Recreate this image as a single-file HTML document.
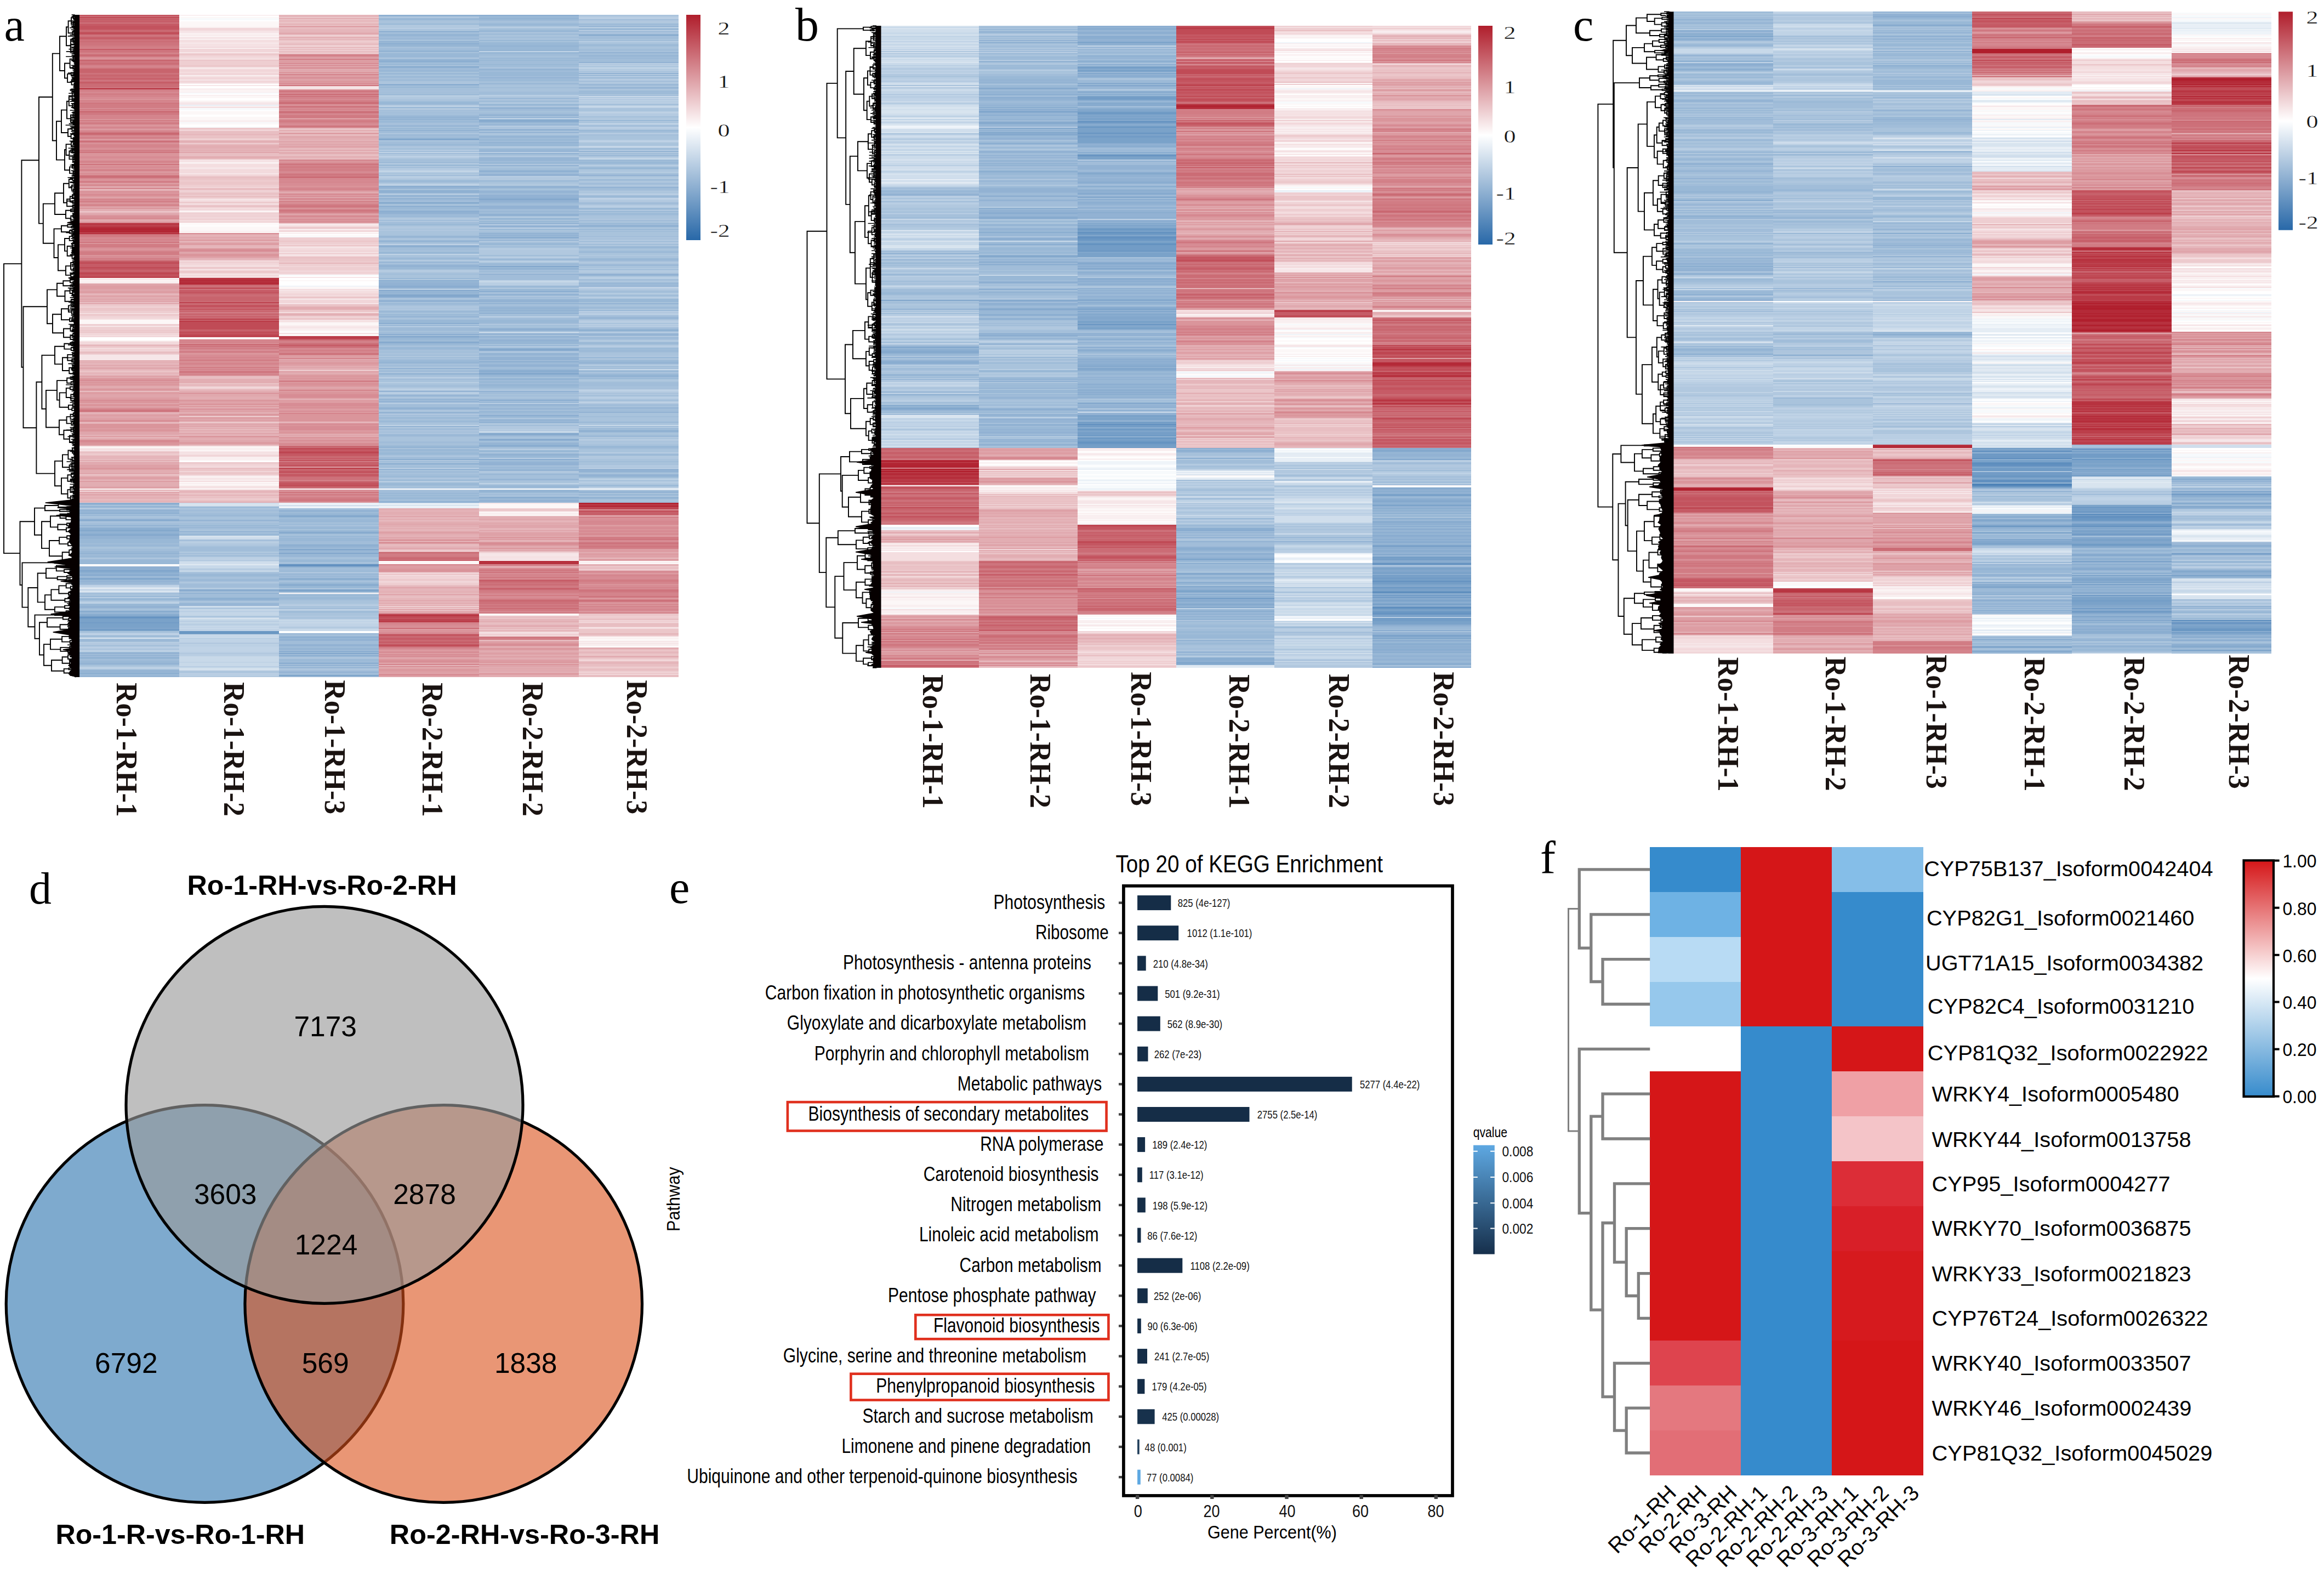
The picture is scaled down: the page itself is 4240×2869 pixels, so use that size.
<!DOCTYPE html><html><head><meta charset="utf-8"><style>html,body{margin:0;padding:0;background:#fff}svg{display:block}</style></head><body><svg width="4240" height="2869" viewBox="0 0 4240 2869">
<defs>
<linearGradient id="cb" x1="0" y1="0" x2="0" y2="1"><stop offset="0" stop-color="#b01e2c"/><stop offset="0.5" stop-color="#fff"/><stop offset="1" stop-color="#2868a8"/></linearGradient>
<linearGradient id="cf" x1="0" y1="0" x2="0" y2="1"><stop offset="0" stop-color="#d51618"/><stop offset="0.5" stop-color="#fff"/><stop offset="1" stop-color="#368bcc"/></linearGradient>
<linearGradient id="cq" x1="0" y1="0" x2="0" y2="1"><stop offset="0" stop-color="#5ea8e2"/><stop offset="1" stop-color="#162f4b"/></linearGradient>
<clipPath id="cA"><circle cx="592" cy="2015.3" r="362"/></clipPath>
</defs>
<rect width="4240" height="2869" fill="#fff"/>
<g shape-rendering="crispEdges" fill="none">
<path stroke="#c3535e" stroke-width="2" d="M145 28h182M145 48h182M145 50h182M145 52h182M145 62h182M145 478h182M145 490h182M145 502h182M327 534h182M327 564h182M327 608h182M509 820h182M509 830h182M509 840h182M509 860h182M509 862h182M509 866h182M509 882h182M509 884h182M691 1128h183M691 1176h183M1056 938h182"/>
<path stroke="#cb6c75" stroke-width="2" d="M145 30h182M145 56h182M145 72h182M145 76h182M145 100h182M145 102h182M145 116h182M145 136h182M145 140h182M145 142h182M145 154h182M145 156h182M145 158h182M145 258h182M145 322h182M145 750h182M327 538h182M327 540h182M327 550h182M327 554h182M327 562h182M327 566h182M327 572h182M327 628h182M509 172h182M509 204h182M509 324h182M509 620h182M509 628h182M509 632h182M509 646h182M509 816h182M509 834h182M509 838h182M509 864h182M509 870h182M509 874h182M509 878h182M509 890h182M691 1146h183M691 1162h183M691 1168h183M691 1174h183M874 1062h182M874 1066h182M874 1100h182M874 1110h182M1056 1096h182"/>
<path stroke="#c04b56" stroke-width="2" d="M145 32h182M145 60h182M145 480h182M145 488h182M145 500h182M145 504h182M327 526h182M327 558h182M327 588h182M327 590h182M327 592h182M327 594h182M327 596h182M327 598h182M327 600h182M327 606h182M327 610h182M509 818h182M509 824h182M509 850h182M509 886h182M691 1126h183M691 1158h183M691 1178h183M1056 926h182M1056 932h182"/>
<path stroke="#c8646d" stroke-width="2" d="M145 34h182M145 38h182M145 58h182M145 68h182M145 110h182M145 126h182M145 128h182M145 130h182M145 132h182M145 138h182M145 152h182M145 204h182M145 244h182M145 476h182M145 494h182M327 520h182M327 524h182M327 536h182M327 542h182M327 544h182M327 546h182M327 548h182M327 556h182M327 568h182M327 574h182M327 584h182M327 602h182M509 188h182M509 814h182M509 832h182M509 846h182M509 856h182M509 858h182M509 888h182M691 1008h183M691 1018h183M691 1160h183M691 1170h183M874 1060h182M874 1096h182M1056 936h182"/>
<path stroke="#c65b66" stroke-width="2" d="M145 36h182M145 40h182M145 44h182M145 46h182M145 54h182M145 70h182M145 90h182M145 144h182M145 150h182M145 482h182M145 484h182M145 486h182M145 492h182M145 496h182M327 530h182M327 532h182M327 560h182M327 578h182M327 604h182M509 630h182M509 822h182M509 828h182M509 836h182M509 844h182M509 848h182M509 868h182M509 880h182M691 1022h183M691 1120h183M691 1164h183M691 1166h183M691 1172h183M874 1058h182M874 1074h182M1056 934h182"/>
<path stroke="#ce747d" stroke-width="2" d="M145 42h182M145 64h182M145 66h182M145 74h182M145 78h182M145 80h182M145 82h182M145 92h182M145 94h182M145 112h182M145 114h182M145 118h182M145 134h182M145 146h182M145 148h182M145 160h182M145 188h182M145 208h182M145 242h182M145 246h182M145 278h182M145 300h182M145 324h182M145 332h182M145 428h182M145 442h182M327 522h182M327 528h182M327 576h182M327 580h182M327 632h182M327 642h182M327 678h182M509 156h182M509 166h182M509 176h182M509 194h182M509 206h182M509 214h182M509 230h182M509 300h182M509 318h182M509 322h182M509 376h182M509 384h182M509 626h182M509 634h182M509 872h182M509 898h182M509 912h182M691 1016h183M691 1020h183M691 1180h183M874 1040h182M874 1044h182M874 1054h182M874 1064h182M874 1068h182M874 1072h182M874 1076h182M874 1094h182M874 1098h182M874 1104h182M874 1106h182M874 1118h182M874 1162h182M1056 984h182M1056 990h182M1056 992h182M1056 996h182M1056 1076h182M1056 1078h182M1056 1088h182"/>
<path stroke="#d17c84" stroke-width="2" d="M145 84h182M145 86h182M145 96h182M145 124h182M145 166h182M145 172h182M145 184h182M145 190h182M145 192h182M145 194h182M145 196h182M145 200h182M145 206h182M145 220h182M145 224h182M145 226h182M145 252h182M145 274h182M145 310h182M145 320h182M145 368h182M145 374h182M145 430h182M145 432h182M145 446h182M145 448h182M145 450h182M145 460h182M145 462h182M145 464h182M145 472h182M145 748h182M327 570h182M327 620h182M327 624h182M327 630h182M327 636h182M327 658h182M327 670h182M327 680h182M327 684h182M509 100h182M509 108h182M509 168h182M509 184h182M509 186h182M509 196h182M509 210h182M509 212h182M509 220h182M509 222h182M509 232h182M509 304h182M509 306h182M509 310h182M509 320h182M509 368h182M509 374h182M509 378h182M509 386h182M509 622h182M509 640h182M509 644h182M509 696h182M509 842h182M509 902h182M509 908h182M509 910h182M509 914h182M691 1010h183M691 1012h183M691 1014h183M874 1070h182M874 1078h182M874 1080h182M874 1086h182M874 1102h182M874 1108h182M874 1112h182M874 1114h182M874 1164h182M874 1166h182M1056 944h182M1056 980h182M1056 982h182M1056 998h182M1056 1000h182M1056 1058h182M1056 1060h182M1056 1080h182M1056 1094h182M1056 1118h182"/>
<path stroke="#d4848c" stroke-width="2" d="M145 88h182M145 98h182M145 104h182M145 120h182M145 122h182M145 164h182M145 170h182M145 174h182M145 176h182M145 202h182M145 210h182M145 212h182M145 214h182M145 216h182M145 232h182M145 240h182M145 250h182M145 260h182M145 264h182M145 266h182M145 268h182M145 276h182M145 294h182M145 296h182M145 338h182M145 344h182M145 364h182M145 398h182M145 436h182M145 438h182M145 458h182M145 474h182M145 746h182M145 768h182M145 804h182M327 634h182M327 652h182M327 656h182M327 662h182M327 664h182M327 674h182M509 102h182M509 124h182M509 136h182M509 174h182M509 178h182M509 180h182M509 190h182M509 200h182M509 224h182M509 292h182M509 298h182M509 302h182M509 308h182M509 312h182M509 316h182M509 328h182M509 332h182M509 344h182M509 346h182M509 354h182M509 372h182M509 382h182M509 388h182M509 394h182M509 624h182M509 638h182M509 654h182M509 712h182M509 754h182M509 810h182M509 876h182M509 904h182M691 990h183M691 1030h183M691 1136h183M691 1138h183M691 1156h183M691 1182h183M691 1212h183M874 1030h182M874 1032h182M874 1038h182M874 1042h182M874 1048h182M874 1050h182M874 1052h182M874 1082h182M874 1092h182M1056 952h182M1056 956h182M1056 974h182M1056 994h182M1056 1050h182M1056 1062h182M1056 1064h182M1056 1072h182M1056 1082h182M1056 1084h182M1056 1086h182M1056 1090h182M1056 1098h182M1056 1102h182M1056 1106h182M1056 1112h182"/>
<path stroke="#da959b" stroke-width="2" d="M145 106h182M145 182h182M145 218h182M145 228h182M145 230h182M145 262h182M145 272h182M145 280h182M145 282h182M145 284h182M145 290h182M145 292h182M145 298h182M145 302h182M145 308h182M145 318h182M145 328h182M145 336h182M145 358h182M145 362h182M145 370h182M145 372h182M145 376h182M145 380h182M145 396h182M145 444h182M145 454h182M145 456h182M145 466h182M145 692h182M145 698h182M145 702h182M145 710h182M145 732h182M145 734h182M145 738h182M145 740h182M145 744h182M145 774h182M145 776h182M145 778h182M145 780h182M145 784h182M145 786h182M145 808h182M145 810h182M145 854h182M327 438h182M327 454h182M327 464h182M327 466h182M327 626h182M327 644h182M327 646h182M327 660h182M327 668h182M327 718h182M327 730h182M327 738h182M327 742h182M327 756h182M327 762h182M327 796h182M327 808h182M509 104h182M509 132h182M509 148h182M509 164h182M509 192h182M509 244h182M509 294h182M509 296h182M509 340h182M509 348h182M509 370h182M509 380h182M509 396h182M509 402h182M509 406h182M509 648h182M509 662h182M509 686h182M509 690h182M509 702h182M509 704h182M509 716h182M509 718h182M509 726h182M509 742h182M509 756h182M509 758h182M509 760h182M509 762h182M509 764h182M509 766h182M509 768h182M509 776h182M509 788h182M509 790h182M509 798h182M509 808h182M509 812h182M509 896h182M509 916h182M691 986h183M691 1038h183M691 1040h183M691 1144h183M691 1150h183M691 1152h183M691 1188h183M691 1196h183M691 1204h183M691 1208h183M691 1222h183M691 1232h183M874 980h182M874 994h182M874 1000h182M874 1036h182M874 1056h182M874 1174h182M874 1178h182M874 1184h182M874 1208h182M874 1212h182M1056 930h182M1056 940h182M1056 946h182M1056 960h182M1056 966h182M1056 972h182M1056 976h182M1056 1066h182M1056 1104h182"/>
<path stroke="#d78c94" stroke-width="2" d="M145 108h182M145 168h182M145 178h182M145 180h182M145 186h182M145 198h182M145 222h182M145 234h182M145 238h182M145 248h182M145 256h182M145 270h182M145 286h182M145 288h182M145 304h182M145 306h182M145 312h182M145 316h182M145 326h182M145 330h182M145 350h182M145 354h182M145 356h182M145 366h182M145 394h182M145 406h182M145 434h182M145 440h182M145 452h182M145 468h182M145 470h182M145 694h182M145 730h182M145 806h182M327 426h182M327 456h182M327 458h182M327 622h182M327 638h182M327 640h182M327 648h182M327 650h182M327 654h182M327 666h182M327 672h182M327 676h182M327 682h182M327 746h182M509 116h182M509 120h182M509 142h182M509 152h182M509 170h182M509 182h182M509 198h182M509 202h182M509 208h182M509 218h182M509 226h182M509 228h182M509 314h182M509 326h182M509 330h182M509 334h182M509 336h182M509 338h182M509 342h182M509 358h182M509 362h182M509 364h182M509 400h182M509 404h182M509 636h182M509 642h182M509 694h182M509 700h182M509 720h182M509 722h182M509 724h182M509 736h182M509 738h182M509 740h182M509 744h182M509 750h182M509 774h182M509 778h182M509 780h182M509 782h182M509 784h182M509 804h182M509 894h182M509 900h182M509 906h182M691 1042h183M691 1140h183M691 1142h183M691 1154h183M691 1184h183M691 1190h183M691 1194h183M691 1198h183M691 1206h183M691 1216h183M691 1230h183M874 990h182M874 992h182M874 1046h182M874 1084h182M874 1088h182M874 1090h182M874 1116h182M874 1176h182M1056 948h182M1056 950h182M1056 954h182M1056 962h182M1056 964h182M1056 968h182M1056 970h182M1056 986h182M1056 988h182M1056 1042h182M1056 1044h182M1056 1048h182M1056 1052h182M1056 1054h182M1056 1056h182M1056 1068h182M1056 1070h182M1056 1074h182M1056 1108h182M1056 1110h182M1056 1114h182"/>
<path stroke="#b7323f" stroke-width="2" d="M145 162h182M145 408h182M145 414h182M145 426h182M327 510h182M327 514h182M691 1122h183M874 1024h182M874 1026h182M874 1028h182M1056 922h182"/>
<path stroke="#dd9da3" stroke-width="2" d="M145 236h182M145 254h182M145 314h182M145 334h182M145 352h182M145 400h182M145 522h182M145 524h182M145 526h182M145 532h182M145 534h182M145 540h182M145 686h182M145 690h182M145 696h182M145 700h182M145 712h182M145 716h182M145 718h182M145 726h182M145 728h182M145 758h182M145 764h182M145 766h182M145 782h182M145 796h182M145 802h182M145 812h182M145 850h182M145 856h182M145 872h182M145 878h182M145 890h182M327 444h182M327 446h182M327 468h182M327 732h182M327 736h182M327 750h182M327 768h182M509 48h182M509 110h182M509 112h182M509 114h182M509 138h182M509 140h182M509 144h182M509 150h182M509 154h182M509 216h182M509 268h182M509 356h182M509 366h182M509 390h182M509 398h182M509 650h182M509 652h182M509 658h182M509 664h182M509 666h182M509 678h182M509 684h182M509 688h182M509 692h182M509 698h182M509 710h182M509 714h182M509 730h182M509 732h182M509 734h182M509 746h182M509 748h182M509 752h182M509 772h182M509 786h182M509 800h182M509 802h182M509 806h182M691 972h183M691 984h183M691 1032h183M691 1034h183M691 1036h183M691 1116h183M691 1148h183M691 1186h183M691 1192h183M691 1202h183M691 1220h183M691 1224h183M691 1226h183M874 972h182M874 976h182M874 984h182M874 1172h182M874 1182h182M874 1192h182M874 1198h182M874 1204h182M874 1206h182M874 1228h182M874 1230h182M1056 942h182M1056 958h182M1056 978h182M1056 1002h182M1056 1004h182M1056 1006h182M1056 1010h182M1056 1012h182M1056 1016h182M1056 1020h182M1056 1022h182M1056 1046h182M1056 1092h182M1056 1100h182M1056 1116h182"/>
<path stroke="#dfa5ab" stroke-width="2" d="M145 340h182M145 342h182M145 348h182M145 360h182M145 378h182M145 390h182M145 392h182M145 404h182M145 518h182M145 520h182M145 528h182M145 530h182M145 546h182M145 550h182M145 554h182M145 666h182M145 672h182M145 704h182M145 708h182M145 720h182M145 722h182M145 724h182M145 736h182M145 742h182M145 752h182M145 756h182M145 760h182M145 762h182M145 788h182M145 790h182M145 792h182M145 844h182M145 848h182M145 852h182M145 864h182M145 870h182M145 874h182M145 888h182M145 898h182M145 902h182M327 278h182M327 434h182M327 460h182M327 462h182M327 470h182M327 716h182M327 722h182M327 734h182M327 748h182M327 758h182M327 764h182M327 766h182M327 774h182M327 778h182M327 786h182M327 790h182M327 798h182M327 804h182M327 806h182M327 810h182M509 62h182M509 106h182M509 118h182M509 128h182M509 134h182M509 146h182M509 250h182M509 258h182M509 264h182M509 274h182M509 350h182M509 360h182M509 392h182M509 660h182M509 670h182M509 706h182M509 708h182M509 794h182M509 852h182M691 942h183M691 956h183M691 970h183M691 980h183M691 1000h183M691 1072h183M691 1084h183M691 1096h183M691 1100h183M691 1112h183M691 1210h183M691 1228h183M691 1234h183M874 948h182M874 954h182M874 958h182M874 960h182M874 962h182M874 968h182M874 974h182M874 982h182M874 996h182M874 1004h182M874 1142h182M874 1170h182M874 1186h182M874 1190h182M874 1194h182M874 1214h182M874 1216h182M874 1220h182M874 1224h182M1056 1014h182M1056 1182h182M1056 1198h182"/>
<path stroke="#e8bec2" stroke-width="2" d="M145 346h182M145 552h182M145 642h182M145 644h182M145 664h182M145 676h182M145 684h182M145 714h182M145 826h182M145 838h182M145 842h182M145 912h182M145 916h182M327 240h182M327 242h182M327 244h182M327 250h182M327 256h182M327 280h182M327 282h182M327 284h182M327 290h182M327 324h182M327 344h182M327 346h182M327 354h182M327 358h182M327 376h182M327 688h182M327 690h182M327 704h182M327 710h182M327 784h182M327 788h182M327 854h182M327 902h182M327 908h182M327 914h182M509 40h182M509 52h182M509 70h182M509 80h182M509 82h182M509 90h182M509 94h182M509 240h182M509 272h182M509 276h182M509 282h182M509 284h182M509 290h182M509 416h182M509 470h182M509 542h182M509 556h182M509 576h182M509 582h182M509 770h182M691 950h183M691 994h183M691 1006h183M691 1044h183M691 1068h183M691 1082h183M691 1088h183M691 1090h183M691 1098h183M691 1102h183M874 1006h182M874 1034h182M874 1126h182M874 1136h182M874 1138h182M874 1144h182M874 1168h182M1056 1018h182M1056 1130h182M1056 1158h182M1056 1188h182M1056 1192h182M1056 1196h182M1056 1212h182M1056 1214h182M1056 1220h182M1056 1222h182M1056 1232h182M1056 1234h182"/>
<path stroke="#e2adb2" stroke-width="2" d="M145 382h182M145 384h182M145 402h182M145 542h182M145 544h182M145 548h182M145 658h182M145 662h182M145 670h182M145 688h182M145 706h182M145 800h182M145 840h182M145 846h182M145 858h182M145 860h182M145 862h182M145 880h182M145 882h182M145 884h182M145 886h182M145 894h182M145 904h182M145 908h182M145 914h182M327 258h182M327 266h182M327 268h182M327 270h182M327 274h182M327 286h182M327 288h182M327 428h182M327 432h182M327 442h182M327 692h182M327 694h182M327 696h182M327 698h182M327 714h182M327 720h182M327 724h182M327 726h182M327 728h182M327 740h182M327 752h182M327 754h182M327 776h182M327 782h182M327 792h182M327 800h182M327 802h182M327 916h182M509 34h182M509 44h182M509 60h182M509 68h182M509 122h182M509 126h182M509 130h182M509 238h182M509 248h182M509 252h182M509 254h182M509 260h182M509 262h182M509 266h182M509 278h182M509 280h182M509 286h182M509 352h182M509 560h182M509 562h182M509 564h182M509 574h182M509 656h182M509 668h182M509 672h182M509 680h182M509 682h182M509 792h182M509 796h182M691 928h183M691 930h183M691 934h183M691 936h183M691 938h183M691 948h183M691 952h183M691 954h183M691 958h183M691 960h183M691 964h183M691 974h183M691 976h183M691 982h183M691 992h183M691 1080h183M691 1104h183M691 1118h183M691 1200h183M691 1218h183M874 944h182M874 946h182M874 956h182M874 978h182M874 988h182M874 998h182M874 1002h182M874 1134h182M874 1188h182M874 1196h182M874 1200h182M874 1202h182M874 1210h182M874 1218h182M874 1222h182M874 1232h182M874 1234h182M1056 1008h182M1056 1030h182"/>
<path stroke="#ebc6c9" stroke-width="2" d="M145 386h182M145 558h182M145 562h182M145 564h182M145 566h182M145 574h182M145 598h182M145 602h182M145 606h182M145 632h182M145 678h182M145 824h182M145 830h182M145 866h182M327 100h182M327 110h182M327 120h182M327 234h182M327 248h182M327 252h182M327 322h182M327 326h182M327 328h182M327 332h182M327 334h182M327 336h182M327 352h182M327 360h182M327 370h182M327 488h182M327 496h182M327 700h182M327 844h182M327 856h182M327 858h182M327 862h182M327 864h182M327 894h182M327 900h182M327 906h182M327 912h182M509 32h182M509 36h182M509 42h182M509 46h182M509 74h182M509 78h182M509 96h182M509 98h182M509 236h182M509 246h182M509 440h182M509 448h182M509 472h182M509 474h182M509 476h182M509 558h182M509 566h182M509 568h182M691 1048h183M691 1058h183M691 1110h183M691 1114h183M874 930h182M874 1124h182M874 1128h182M874 1148h182M874 1152h182M1056 1040h182M1056 1120h182M1056 1122h182M1056 1128h182M1056 1140h182M1056 1148h182M1056 1150h182M1056 1152h182M1056 1154h182M1056 1186h182M1056 1194h182M1056 1200h182M1056 1202h182M1056 1206h182M1056 1216h182M1056 1224h182M1056 1228h182"/>
<path stroke="#e5b5ba" stroke-width="2" d="M145 388h182M145 536h182M145 538h182M145 630h182M145 660h182M145 668h182M145 674h182M145 680h182M145 682h182M145 754h182M145 770h182M145 772h182M145 794h182M145 798h182M145 832h182M145 834h182M145 836h182M145 868h182M145 876h182M145 900h182M145 906h182M145 910h182M327 246h182M327 260h182M327 264h182M327 272h182M327 276h182M327 430h182M327 436h182M327 440h182M327 448h182M327 450h182M327 452h182M327 472h182M327 474h182M327 686h182M327 702h182M327 712h182M327 744h182M327 772h182M327 780h182M327 794h182M327 812h182M327 896h182M327 898h182M327 904h182M509 28h182M509 30h182M509 38h182M509 50h182M509 54h182M509 56h182M509 58h182M509 72h182M509 86h182M509 234h182M509 242h182M509 256h182M509 270h182M509 288h182M509 480h182M509 572h182M509 674h182M509 728h182M691 932h183M691 940h183M691 944h183M691 946h183M691 962h183M691 966h183M691 968h183M691 978h183M691 988h183M691 996h183M691 998h183M691 1002h183M691 1070h183M691 1074h183M691 1076h183M691 1078h183M691 1086h183M691 1092h183M691 1094h183M691 1108h183M691 1214h183M874 942h182M874 950h182M874 952h182M874 964h182M874 966h182M874 970h182M874 986h182M874 1130h182M874 1132h182M874 1140h182M874 1146h182M874 1150h182M874 1180h182M874 1226h182M1056 1032h182M1056 1036h182M1056 1138h182M1056 1142h182M1056 1156h182M1056 1184h182M1056 1190h182M1056 1208h182M1056 1210h182"/>
<path stroke="#ba3b47" stroke-width="2" d="M145 410h182M145 424h182M327 582h182M327 586h182M509 614h182M509 616h182M509 854h182M691 1134h183M1056 920h182"/>
<path stroke="#bd434f" stroke-width="2" d="M145 412h182M145 498h182M145 506h182M327 552h182M327 612h182M327 614h182M509 618h182M509 826h182M691 1124h183M691 1130h183M691 1132h183M1056 928h182"/>
<path stroke="#b42a38" stroke-width="2" d="M145 416h182M145 420h182M327 508h182M327 512h182M327 516h182M327 518h182M1056 924h182"/>
<path stroke="#b12230" stroke-width="2" d="M145 418h182M145 422h182"/>
<path stroke="#fcf7f7" stroke-width="2" d="M145 508h182M145 512h182M145 584h182M145 586h182M145 588h182M145 590h182M145 816h182M145 892h182M145 1032h182M327 32h182M327 40h182M327 42h182M327 44h182M327 46h182M327 48h182M327 62h182M327 66h182M327 166h182M327 176h182M327 178h182M327 184h182M327 204h182M327 206h182M327 208h182M327 214h182M327 216h182M327 218h182M327 226h182M327 386h182M327 410h182M327 414h182M327 416h182M327 418h182M327 420h182M327 424h182M327 616h182M327 618h182M327 816h182M327 822h182M327 840h182M327 870h182M327 880h182M327 884h182M327 892h182M509 424h182M509 430h182M509 512h182M509 524h182M509 526h182M509 590h182M509 592h182M509 604h182M509 610h182M509 612h182M509 892h182M509 1082h182M691 1024h183M691 1026h183M691 1028h183M874 920h182M874 922h182M874 924h182M874 926h182M874 934h182M874 940h182M874 1120h182M874 1122h182M1056 1024h182M1056 1028h182M1056 1162h182M1056 1166h182M1056 1168h182"/>
<path stroke="#f6e6e8" stroke-width="2" d="M145 510h182M145 596h182M145 648h182M145 650h182M145 652h182M145 654h182M145 656h182M145 818h182M145 822h182M327 58h182M327 60h182M327 64h182M327 68h182M327 70h182M327 78h182M327 80h182M327 84h182M327 96h182M327 146h182M327 152h182M327 156h182M327 188h182M327 190h182M327 292h182M327 306h182M327 308h182M327 316h182M327 364h182M327 372h182M327 384h182M327 492h182M327 500h182M327 504h182M327 814h182M327 824h182M327 828h182M327 868h182M327 872h182M327 874h182M327 890h182M509 160h182M509 452h182M509 460h182M509 466h182M509 506h182M509 530h182M509 546h182M509 554h182M509 584h182M509 596h182M509 598h182M874 918h182M874 1010h182M874 1012h182M874 1014h182M874 1018h182M874 1154h182M1056 1170h182M1056 1174h182"/>
<path stroke="#f9eff0" stroke-width="2" d="M145 514h182M145 516h182M145 622h182M327 28h182M327 50h182M327 72h182M327 88h182M327 124h182M327 138h182M327 162h182M327 164h182M327 168h182M327 174h182M327 186h182M327 194h182M327 220h182M327 222h182M327 296h182M327 298h182M327 422h182M327 818h182M327 820h182M327 834h182M327 836h182M327 838h182M327 876h182M327 882h182M327 886h182M509 410h182M509 418h182M509 426h182M509 588h182M509 594h182M509 600h182M509 602h182M874 936h182M874 938h182M874 1022h182M1056 1026h182M1056 1164h182M1056 1172h182M1056 1176h182M1056 1178h182"/>
<path stroke="#eeced1" stroke-width="2" d="M145 556h182M145 568h182M145 570h182M145 576h182M145 592h182M145 604h182M145 628h182M145 634h182M145 638h182M145 646h182M145 828h182M327 98h182M327 112h182M327 114h182M327 116h182M327 118h182M327 122h182M327 236h182M327 262h182M327 330h182M327 338h182M327 340h182M327 350h182M327 356h182M327 374h182M327 378h182M327 390h182M327 394h182M327 400h182M327 478h182M327 490h182M327 494h182M327 498h182M327 506h182M327 760h182M327 770h182M327 846h182M327 866h182M327 910h182M509 64h182M509 66h182M509 76h182M509 88h182M509 92h182M509 434h182M509 436h182M509 438h182M509 442h182M509 444h182M509 458h182M509 462h182M509 468h182M509 478h182M509 482h182M509 484h182M509 488h182M509 490h182M509 492h182M509 498h182M509 580h182M509 676h182M691 1004h183M691 1052h183M691 1056h183M691 1064h183M691 1066h183M691 1106h183M874 928h182M874 932h182M874 1158h182M1056 1034h182M1056 1038h182M1056 1124h182M1056 1126h182M1056 1134h182M1056 1160h182M1056 1218h182"/>
<path stroke="#f1d6d9" stroke-width="2" d="M145 560h182M145 578h182M145 580h182M145 594h182M145 600h182M145 608h182M145 610h182M145 614h182M145 624h182M145 640h182M145 896h182M327 52h182M327 54h182M327 86h182M327 90h182M327 92h182M327 94h182M327 102h182M327 104h182M327 128h182M327 130h182M327 134h182M327 136h182M327 142h182M327 144h182M327 148h182M327 150h182M327 238h182M327 254h182M327 310h182M327 314h182M327 320h182M327 342h182M327 348h182M327 362h182M327 368h182M327 382h182M327 388h182M327 392h182M327 396h182M327 398h182M327 404h182M327 480h182M327 482h182M327 502h182M327 706h182M327 708h182M327 830h182M327 832h182M327 848h182M327 850h182M327 860h182M509 408h182M509 414h182M509 422h182M509 446h182M509 454h182M509 486h182M509 494h182M509 496h182M509 536h182M509 538h182M509 544h182M509 548h182M509 550h182M509 552h182M509 578h182M691 1046h183M691 1054h183M691 1060h183M691 1062h183M874 1008h182M874 1156h182M1056 1132h182M1056 1136h182M1056 1226h182M1056 1230h182"/>
<path stroke="#f4dee0" stroke-width="2" d="M145 572h182M145 582h182M145 612h182M145 626h182M145 636h182M145 814h182M145 820h182M327 56h182M327 74h182M327 76h182M327 82h182M327 106h182M327 108h182M327 126h182M327 132h182M327 140h182M327 196h182M327 294h182M327 300h182M327 302h182M327 304h182M327 312h182M327 318h182M327 366h182M327 380h182M327 402h182M327 406h182M327 476h182M327 484h182M327 486h182M327 826h182M327 852h182M327 878h182M327 888h182M509 84h182M509 158h182M509 162h182M509 412h182M509 420h182M509 450h182M509 456h182M509 464h182M509 500h182M509 528h182M509 532h182M509 534h182M509 540h182M509 570h182M509 586h182M509 608h182M691 1050h183M874 1016h182M874 1020h182M874 1160h182M1056 1144h182M1056 1146h182M1056 1204h182"/>
<path stroke="#ffffff" stroke-width="2" d="M145 616h182M145 618h182M145 620h182M145 1030h182M327 30h182M327 38h182M327 154h182M327 158h182M327 160h182M327 172h182M327 180h182M327 182h182M327 202h182M327 210h182M327 212h182M327 228h182M327 230h182M327 408h182M327 412h182M327 842h182M509 428h182M509 504h182M509 508h182M509 510h182M509 514h182M509 516h182M509 518h182M509 520h182M509 606h182M509 1152h182M691 892h183M874 892h182M1056 1180h182"/>
<path stroke="#8aadd0" stroke-width="2" d="M145 918h182M145 936h182M145 948h182M145 950h182M145 964h182M145 966h182M145 974h182M145 1036h182M145 1044h182M145 1048h182M145 1050h182M145 1120h182M145 1122h182M145 1200h182M145 1228h182M327 1092h182M509 932h182M509 940h182M509 994h182M509 1034h182M509 1066h182M509 1068h182M509 1162h182M509 1188h182M509 1196h182M509 1210h182M691 28h183M691 58h183M691 80h183M691 112h183M691 154h183M691 340h183M691 348h183M691 376h183M691 386h183M691 450h183M691 512h183M691 522h183M691 524h183M691 542h183M691 590h183M691 610h183M691 682h183M691 838h183M691 846h183M691 916h183M874 28h182M874 210h182M874 222h182M874 312h182M874 362h182M874 392h182M874 532h182M874 538h182M874 600h182M874 636h182M874 660h182M874 676h182M874 678h182M874 730h182M874 758h182M874 766h182M874 770h182M874 812h182M874 814h182M874 838h182M1056 412h182M1056 602h182M1056 686h182M1056 786h182M1056 908h182"/>
<path stroke="#92b2d3" stroke-width="2" d="M145 920h182M145 924h182M145 930h182M145 932h182M145 958h182M145 970h182M145 972h182M145 978h182M145 980h182M145 982h182M145 1010h182M145 1034h182M145 1038h182M145 1046h182M145 1054h182M145 1060h182M145 1106h182M145 1108h182M145 1192h182M145 1196h182M145 1210h182M145 1224h182M145 1234h182M327 950h182M327 970h182M327 1078h182M327 1082h182M327 1094h182M327 1104h182M509 970h182M509 996h182M509 998h182M509 1004h182M509 1008h182M509 1014h182M509 1156h182M509 1166h182M509 1168h182M509 1176h182M509 1178h182M509 1184h182M509 1214h182M509 1218h182M509 1226h182M691 64h183M691 76h183M691 84h183M691 94h183M691 110h183M691 214h183M691 218h183M691 230h183M691 238h183M691 342h183M691 350h183M691 352h183M691 358h183M691 362h183M691 388h183M691 390h183M691 432h183M691 440h183M691 448h183M691 478h183M691 484h183M691 486h183M691 516h183M691 518h183M691 520h183M691 534h183M691 548h183M691 550h183M691 578h183M691 616h183M691 626h183M691 662h183M691 672h183M691 714h183M691 722h183M691 728h183M691 732h183M691 744h183M691 746h183M691 752h183M691 778h183M691 816h183M691 856h183M874 34h182M874 84h182M874 92h182M874 126h182M874 142h182M874 198h182M874 214h182M874 228h182M874 236h182M874 242h182M874 250h182M874 260h182M874 276h182M874 280h182M874 288h182M874 292h182M874 302h182M874 318h182M874 320h182M874 340h182M874 342h182M874 350h182M874 356h182M874 358h182M874 360h182M874 366h182M874 368h182M874 376h182M874 378h182M874 380h182M874 408h182M874 412h182M874 414h182M874 426h182M874 430h182M874 438h182M874 490h182M874 500h182M874 548h182M874 550h182M874 554h182M874 562h182M874 566h182M874 572h182M874 602h182M874 610h182M874 614h182M874 620h182M874 622h182M874 626h182M874 640h182M874 646h182M874 652h182M874 654h182M874 656h182M874 666h182M874 668h182M874 680h182M874 686h182M874 692h182M874 702h182M874 714h182M874 738h182M874 746h182M874 790h182M874 794h182M874 808h182M874 828h182M874 830h182M874 844h182M874 846h182M874 848h182M874 858h182M874 874h182M874 896h182M874 912h182M874 914h182M1056 48h182M1056 96h182M1056 102h182M1056 114h182M1056 134h182M1056 160h182M1056 276h182M1056 320h182M1056 342h182M1056 500h182M1056 502h182M1056 522h182M1056 554h182M1056 580h182M1056 610h182M1056 662h182M1056 744h182M1056 752h182M1056 856h182M1056 858h182M1056 860h182M1056 866h182M1056 868h182M1056 898h182"/>
<path stroke="#a9c3dc" stroke-width="2" d="M145 922h182M145 942h182M145 944h182M145 956h182M145 998h182M145 1000h182M145 1084h182M145 1086h182M145 1096h182M145 1112h182M145 1152h182M145 1154h182M145 1162h182M145 1184h182M145 1214h182M327 934h182M327 944h182M327 946h182M327 956h182M327 966h182M327 968h182M327 972h182M327 996h182M327 1006h182M327 1044h182M327 1054h182M327 1064h182M327 1072h182M327 1080h182M327 1110h182M327 1124h182M327 1226h182M509 954h182M509 958h182M509 966h182M509 976h182M509 1018h182M509 1026h182M509 1060h182M509 1084h182M509 1096h182M509 1098h182M509 1100h182M509 1106h182M509 1108h182M509 1118h182M509 1120h182M509 1122h182M509 1126h182M509 1128h182M509 1158h182M509 1216h182M509 1222h182M691 38h183M691 40h183M691 42h183M691 54h183M691 56h183M691 60h183M691 74h183M691 86h183M691 96h183M691 120h183M691 132h183M691 138h183M691 144h183M691 148h183M691 150h183M691 162h183M691 166h183M691 170h183M691 182h183M691 184h183M691 204h183M691 208h183M691 226h183M691 232h183M691 258h183M691 270h183M691 290h183M691 294h183M691 300h183M691 316h183M691 328h183M691 334h183M691 346h183M691 360h183M691 412h183M691 418h183M691 422h183M691 424h183M691 426h183M691 428h183M691 444h183M691 458h183M691 466h183M691 468h183M691 474h183M691 480h183M691 492h183M691 498h183M691 502h183M691 504h183M691 506h183M691 544h183M691 546h183M691 552h183M691 558h183M691 562h183M691 566h183M691 572h183M691 580h183M691 582h183M691 592h183M691 604h183M691 632h183M691 640h183M691 644h183M691 646h183M691 654h183M691 664h183M691 674h183M691 684h183M691 694h183M691 696h183M691 700h183M691 702h183M691 706h183M691 724h183M691 748h183M691 760h183M691 766h183M691 772h183M691 774h183M691 798h183M691 800h183M691 802h183M691 804h183M691 810h183M691 818h183M691 844h183M691 850h183M691 858h183M691 864h183M691 874h183M691 880h183M691 888h183M691 894h183M691 912h183M874 40h182M874 48h182M874 52h182M874 64h182M874 66h182M874 70h182M874 72h182M874 76h182M874 104h182M874 150h182M874 156h182M874 158h182M874 162h182M874 164h182M874 166h182M874 178h182M874 204h182M874 212h182M874 232h182M874 240h182M874 246h182M874 270h182M874 284h182M874 304h182M874 306h182M874 332h182M874 334h182M874 346h182M874 402h182M874 420h182M874 422h182M874 442h182M874 448h182M874 452h182M874 494h182M874 534h182M874 544h182M874 556h182M874 574h182M874 596h182M874 612h182M874 628h182M874 634h182M874 688h182M874 710h182M874 720h182M874 724h182M874 726h182M874 748h182M874 772h182M874 798h182M874 806h182M874 818h182M874 850h182M874 868h182M874 872h182M874 878h182M874 880h182M874 884h182M874 900h182M874 904h182M1056 28h182M1056 46h182M1056 72h182M1056 78h182M1056 80h182M1056 86h182M1056 88h182M1056 94h182M1056 122h182M1056 130h182M1056 158h182M1056 172h182M1056 198h182M1056 200h182M1056 202h182M1056 212h182M1056 214h182M1056 224h182M1056 228h182M1056 242h182M1056 248h182M1056 250h182M1056 252h182M1056 254h182M1056 262h182M1056 264h182M1056 270h182M1056 282h182M1056 300h182M1056 304h182M1056 312h182M1056 316h182M1056 322h182M1056 330h182M1056 340h182M1056 348h182M1056 352h182M1056 356h182M1056 388h182M1056 394h182M1056 396h182M1056 398h182M1056 404h182M1056 406h182M1056 420h182M1056 424h182M1056 426h182M1056 428h182M1056 430h182M1056 454h182M1056 456h182M1056 462h182M1056 464h182M1056 468h182M1056 470h182M1056 486h182M1056 488h182M1056 504h182M1056 512h182M1056 530h182M1056 534h182M1056 552h182M1056 556h182M1056 558h182M1056 590h182M1056 620h182M1056 634h182M1056 644h182M1056 646h182M1056 648h182M1056 654h182M1056 656h182M1056 670h182M1056 692h182M1056 696h182M1056 706h182M1056 718h182M1056 742h182M1056 754h182M1056 756h182M1056 758h182M1056 762h182M1056 764h182M1056 766h182M1056 768h182M1056 772h182M1056 774h182M1056 790h182M1056 792h182M1056 800h182M1056 806h182M1056 810h182M1056 812h182M1056 820h182M1056 822h182M1056 824h182M1056 838h182M1056 840h182M1056 844h182M1056 846h182M1056 848h182M1056 852h182M1056 864h182M1056 872h182M1056 876h182M1056 884h182M1056 900h182M1056 906h182M1056 912h182M1056 914h182"/>
<path stroke="#a1bdd9" stroke-width="2" d="M145 926h182M145 938h182M145 946h182M145 954h182M145 960h182M145 992h182M145 1002h182M145 1004h182M145 1012h182M145 1020h182M145 1052h182M145 1066h182M145 1082h182M145 1110h182M145 1118h182M145 1166h182M145 1170h182M145 1178h182M145 1194h182M145 1198h182M145 1202h182M145 1204h182M327 930h182M327 932h182M327 936h182M327 938h182M327 942h182M327 948h182M327 954h182M327 960h182M327 964h182M327 986h182M327 998h182M327 1000h182M327 1002h182M327 1004h182M327 1010h182M327 1046h182M327 1052h182M327 1056h182M327 1060h182M327 1066h182M327 1068h182M327 1070h182M327 1084h182M327 1086h182M327 1088h182M327 1096h182M509 928h182M509 930h182M509 934h182M509 946h182M509 960h182M509 974h182M509 980h182M509 988h182M509 990h182M509 992h182M509 1000h182M509 1012h182M509 1016h182M509 1020h182M509 1028h182M509 1036h182M509 1038h182M509 1040h182M509 1046h182M509 1050h182M509 1054h182M509 1062h182M509 1088h182M509 1094h182M509 1110h182M509 1160h182M509 1170h182M509 1172h182M509 1174h182M509 1180h182M509 1186h182M509 1194h182M509 1198h182M509 1202h182M509 1206h182M509 1212h182M509 1224h182M509 1228h182M509 1230h182M691 30h183M691 68h183M691 72h183M691 88h183M691 90h183M691 116h183M691 126h183M691 136h183M691 142h183M691 158h183M691 164h183M691 168h183M691 202h183M691 206h183M691 210h183M691 220h183M691 224h183M691 228h183M691 236h183M691 240h183M691 242h183M691 248h183M691 250h183M691 256h183M691 260h183M691 262h183M691 266h183M691 272h183M691 276h183M691 280h183M691 292h183M691 306h183M691 320h183M691 332h183M691 366h183M691 368h183M691 382h183M691 392h183M691 396h183M691 402h183M691 406h183M691 408h183M691 430h183M691 434h183M691 438h183M691 442h183M691 452h183M691 454h183M691 456h183M691 470h183M691 482h183M691 500h183M691 526h183M691 556h183M691 570h183M691 576h183M691 600h183M691 606h183M691 608h183M691 612h183M691 622h183M691 630h183M691 638h183M691 642h183M691 648h183M691 652h183M691 656h183M691 666h183M691 668h183M691 676h183M691 678h183M691 686h183M691 692h183M691 704h183M691 720h183M691 730h183M691 734h183M691 738h183M691 740h183M691 742h183M691 754h183M691 758h183M691 764h183M691 770h183M691 782h183M691 784h183M691 788h183M691 792h183M691 796h183M691 806h183M691 808h183M691 812h183M691 824h183M691 830h183M691 834h183M691 836h183M691 842h183M691 848h183M691 860h183M691 862h183M691 866h183M691 868h183M691 886h183M691 890h183M691 896h183M691 898h183M691 902h183M691 906h183M874 38h182M874 42h182M874 54h182M874 68h182M874 100h182M874 102h182M874 108h182M874 112h182M874 114h182M874 116h182M874 120h182M874 122h182M874 130h182M874 140h182M874 144h182M874 148h182M874 154h182M874 160h182M874 168h182M874 170h182M874 172h182M874 184h182M874 186h182M874 200h182M874 202h182M874 206h182M874 208h182M874 226h182M874 252h182M874 258h182M874 282h182M874 294h182M874 308h182M874 310h182M874 316h182M874 344h182M874 354h182M874 372h182M874 374h182M874 382h182M874 384h182M874 388h182M874 406h182M874 424h182M874 450h182M874 466h182M874 472h182M874 480h182M874 484h182M874 502h182M874 504h182M874 506h182M874 508h182M874 510h182M874 524h182M874 536h182M874 542h182M874 552h182M874 558h182M874 576h182M874 580h182M874 582h182M874 590h182M874 594h182M874 598h182M874 608h182M874 618h182M874 650h182M874 658h182M874 662h182M874 670h182M874 672h182M874 694h182M874 700h182M874 708h182M874 716h182M874 718h182M874 722h182M874 728h182M874 732h182M874 742h182M874 744h182M874 754h182M874 756h182M874 762h182M874 768h182M874 776h182M874 796h182M874 800h182M874 816h182M874 840h182M874 854h182M874 864h182M874 870h182M874 876h182M874 890h182M874 902h182M874 906h182M874 910h182M1056 36h182M1056 52h182M1056 62h182M1056 66h182M1056 68h182M1056 70h182M1056 74h182M1056 84h182M1056 90h182M1056 92h182M1056 98h182M1056 100h182M1056 104h182M1056 108h182M1056 110h182M1056 112h182M1056 148h182M1056 156h182M1056 162h182M1056 168h182M1056 174h182M1056 190h182M1056 230h182M1056 240h182M1056 246h182M1056 280h182M1056 294h182M1056 318h182M1056 334h182M1056 336h182M1056 344h182M1056 346h182M1056 360h182M1056 370h182M1056 372h182M1056 382h182M1056 392h182M1056 402h182M1056 410h182M1056 422h182M1056 432h182M1056 436h182M1056 440h182M1056 446h182M1056 458h182M1056 476h182M1056 482h182M1056 492h182M1056 510h182M1056 520h182M1056 532h182M1056 538h182M1056 540h182M1056 560h182M1056 576h182M1056 578h182M1056 582h182M1056 598h182M1056 600h182M1056 608h182M1056 618h182M1056 624h182M1056 628h182M1056 638h182M1056 642h182M1056 664h182M1056 668h182M1056 672h182M1056 676h182M1056 688h182M1056 698h182M1056 700h182M1056 702h182M1056 704h182M1056 708h182M1056 722h182M1056 730h182M1056 738h182M1056 740h182M1056 746h182M1056 748h182M1056 750h182M1056 760h182M1056 778h182M1056 784h182M1056 794h182M1056 818h182M1056 828h182M1056 842h182M1056 862h182M1056 904h182M1056 910h182M1056 916h182"/>
<path stroke="#b9cee3" stroke-width="2" d="M145 928h182M145 1076h182M145 1090h182M145 1098h182M145 1158h182M145 1172h182M145 1180h182M145 1182h182M145 1186h182M145 1220h182M327 984h182M327 988h182M327 990h182M327 1016h182M327 1018h182M327 1074h182M327 1116h182M327 1126h182M327 1134h182M327 1138h182M327 1140h182M327 1164h182M327 1172h182M327 1178h182M327 1190h182M327 1194h182M327 1196h182M327 1216h182M327 1228h182M327 1230h182M327 1232h182M509 1104h182M509 1146h182M691 52h183M691 176h183M691 274h183M691 308h183M691 314h183M691 322h183M691 324h183M691 338h183M691 476h183M691 494h183M691 528h183M691 596h183M691 688h183M691 698h183M691 716h183M691 718h183M691 736h183M691 878h183M874 50h182M874 174h182M874 188h182M874 230h182M874 268h182M874 278h182M874 322h182M874 396h182M874 410h182M874 454h182M874 470h182M874 476h182M874 478h182M874 516h182M874 518h182M874 520h182M874 642h182M874 736h182M874 784h182M874 820h182M874 836h182M1056 32h182M1056 34h182M1056 50h182M1056 56h182M1056 76h182M1056 116h182M1056 120h182M1056 128h182M1056 140h182M1056 146h182M1056 204h182M1056 210h182M1056 232h182M1056 234h182M1056 244h182M1056 256h182M1056 274h182M1056 288h182M1056 302h182M1056 314h182M1056 364h182M1056 376h182M1056 378h182M1056 438h182M1056 494h182M1056 506h182M1056 508h182M1056 526h182M1056 536h182M1056 542h182M1056 568h182M1056 572h182M1056 574h182M1056 586h182M1056 588h182M1056 592h182M1056 596h182M1056 606h182M1056 622h182M1056 632h182M1056 666h182M1056 714h182M1056 724h182M1056 726h182M1056 802h182M1056 826h182M1056 850h182M1056 880h182"/>
<path stroke="#99b8d6" stroke-width="2" d="M145 934h182M145 940h182M145 962h182M145 984h182M145 986h182M145 988h182M145 990h182M145 994h182M145 996h182M145 1006h182M145 1008h182M145 1014h182M145 1016h182M145 1022h182M145 1024h182M145 1026h182M145 1028h182M145 1058h182M145 1062h182M145 1064h182M145 1088h182M145 1092h182M145 1094h182M145 1102h182M145 1104h182M145 1114h182M145 1160h182M145 1168h182M145 1190h182M145 1206h182M145 1208h182M145 1212h182M145 1222h182M145 1226h182M145 1230h182M145 1232h182M327 926h182M327 940h182M327 958h182M327 962h182M327 974h182M327 976h182M327 1014h182M327 1048h182M327 1050h182M327 1058h182M327 1090h182M327 1100h182M327 1102h182M509 936h182M509 938h182M509 944h182M509 948h182M509 950h182M509 952h182M509 956h182M509 962h182M509 964h182M509 968h182M509 978h182M509 982h182M509 984h182M509 986h182M509 1006h182M509 1022h182M509 1024h182M509 1042h182M509 1048h182M509 1052h182M509 1058h182M509 1064h182M509 1070h182M509 1072h182M509 1080h182M509 1086h182M509 1090h182M509 1092h182M509 1116h182M509 1164h182M509 1182h182M509 1190h182M509 1204h182M509 1208h182M509 1234h182M691 34h183M691 36h183M691 44h183M691 62h183M691 66h183M691 70h183M691 78h183M691 82h183M691 92h183M691 98h183M691 100h183M691 102h183M691 104h183M691 108h183M691 114h183M691 118h183M691 124h183M691 128h183M691 130h183M691 134h183M691 140h183M691 146h183M691 156h183M691 160h183M691 172h183M691 186h183M691 188h183M691 190h183M691 196h183M691 212h183M691 216h183M691 222h183M691 234h183M691 246h183M691 252h183M691 264h183M691 296h183M691 302h183M691 330h183M691 344h183M691 356h183M691 364h183M691 372h183M691 378h183M691 380h183M691 384h183M691 394h183M691 410h183M691 460h183M691 462h183M691 472h183M691 488h183M691 490h183M691 508h183M691 514h183M691 532h183M691 536h183M691 554h183M691 568h183M691 574h183M691 584h183M691 586h183M691 588h183M691 594h183M691 598h183M691 602h183M691 618h183M691 620h183M691 628h183M691 634h183M691 636h183M691 658h183M691 660h183M691 762h183M691 768h183M691 794h183M691 814h183M691 820h183M691 822h183M691 826h183M691 828h183M691 852h183M691 870h183M691 876h183M691 882h183M691 884h183M691 900h183M691 904h183M691 908h183M691 910h183M691 914h183M874 30h182M874 32h182M874 36h182M874 44h182M874 46h182M874 56h182M874 58h182M874 62h182M874 74h182M874 78h182M874 80h182M874 82h182M874 86h182M874 88h182M874 90h182M874 96h182M874 98h182M874 106h182M874 110h182M874 118h182M874 128h182M874 132h182M874 134h182M874 136h182M874 138h182M874 146h182M874 152h182M874 180h182M874 190h182M874 192h182M874 196h182M874 218h182M874 224h182M874 238h182M874 248h182M874 254h182M874 256h182M874 262h182M874 264h182M874 266h182M874 272h182M874 274h182M874 290h182M874 296h182M874 298h182M874 314h182M874 330h182M874 348h182M874 352h182M874 370h182M874 386h182M874 390h182M874 394h182M874 398h182M874 400h182M874 404h182M874 418h182M874 428h182M874 432h182M874 444h182M874 446h182M874 474h182M874 482h182M874 488h182M874 492h182M874 496h182M874 522h182M874 528h182M874 530h182M874 546h182M874 560h182M874 564h182M874 568h182M874 570h182M874 584h182M874 586h182M874 588h182M874 604h182M874 616h182M874 624h182M874 630h182M874 644h182M874 648h182M874 664h182M874 674h182M874 684h182M874 690h182M874 696h182M874 698h182M874 704h182M874 706h182M874 734h182M874 740h182M874 750h182M874 752h182M874 760h182M874 804h182M874 810h182M874 822h182M874 824h182M874 832h182M874 834h182M874 842h182M874 852h182M874 856h182M874 866h182M874 886h182M874 888h182M874 894h182M874 898h182M874 916h182M1056 44h182M1056 54h182M1056 58h182M1056 82h182M1056 106h182M1056 138h182M1056 142h182M1056 154h182M1056 166h182M1056 170h182M1056 220h182M1056 238h182M1056 272h182M1056 284h182M1056 292h182M1056 296h182M1056 298h182M1056 306h182M1056 308h182M1056 328h182M1056 358h182M1056 380h182M1056 386h182M1056 390h182M1056 408h182M1056 414h182M1056 418h182M1056 450h182M1056 452h182M1056 460h182M1056 472h182M1056 474h182M1056 484h182M1056 516h182M1056 518h182M1056 546h182M1056 548h182M1056 550h182M1056 562h182M1056 566h182M1056 604h182M1056 612h182M1056 616h182M1056 626h182M1056 636h182M1056 640h182M1056 652h182M1056 658h182M1056 660h182M1056 678h182M1056 682h182M1056 684h182M1056 690h182M1056 770h182M1056 782h182M1056 788h182M1056 796h182M1056 814h182M1056 816h182M1056 830h182M1056 870h182M1056 886h182M1056 896h182M1056 902h182"/>
<path stroke="#b1c8df" stroke-width="2" d="M145 952h182M145 1018h182M145 1174h182M145 1176h182M145 1216h182M327 924h182M327 928h182M327 952h182M327 992h182M327 994h182M327 1008h182M327 1012h182M327 1022h182M327 1038h182M327 1062h182M327 1098h182M327 1174h182M327 1192h182M327 1224h182M327 1234h182M509 1044h182M509 1074h182M509 1102h182M509 1114h182M509 1124h182M509 1144h182M509 1200h182M509 1220h182M691 32h183M691 46h183M691 48h183M691 50h183M691 106h183M691 152h183M691 174h183M691 178h183M691 180h183M691 192h183M691 198h183M691 200h183M691 244h183M691 268h183M691 282h183M691 284h183M691 288h183M691 298h183M691 304h183M691 310h183M691 318h183M691 326h183M691 374h183M691 398h183M691 400h183M691 404h183M691 414h183M691 416h183M691 420h183M691 436h183M691 496h183M691 510h183M691 560h183M691 564h183M691 650h183M691 670h183M691 680h183M691 690h183M691 708h183M691 712h183M691 726h183M691 750h183M691 756h183M691 780h183M691 786h183M691 790h183M691 832h183M691 840h183M691 872h183M874 60h182M874 124h182M874 176h182M874 182h182M874 194h182M874 234h182M874 244h182M874 286h182M874 300h182M874 324h182M874 326h182M874 328h182M874 336h182M874 338h182M874 436h182M874 440h182M874 456h182M874 458h182M874 460h182M874 462h182M874 464h182M874 468h182M874 498h182M874 526h182M874 540h182M874 592h182M874 632h182M874 712h182M874 764h182M874 774h182M874 778h182M874 780h182M874 782h182M874 786h182M874 826h182M874 860h182M874 862h182M1056 30h182M1056 38h182M1056 40h182M1056 42h182M1056 60h182M1056 118h182M1056 126h182M1056 132h182M1056 136h182M1056 144h182M1056 150h182M1056 152h182M1056 164h182M1056 178h182M1056 182h182M1056 186h182M1056 192h182M1056 208h182M1056 216h182M1056 218h182M1056 222h182M1056 236h182M1056 260h182M1056 266h182M1056 278h182M1056 286h182M1056 310h182M1056 324h182M1056 326h182M1056 332h182M1056 338h182M1056 350h182M1056 366h182M1056 368h182M1056 374h182M1056 384h182M1056 400h182M1056 416h182M1056 434h182M1056 442h182M1056 444h182M1056 448h182M1056 466h182M1056 478h182M1056 480h182M1056 490h182M1056 496h182M1056 498h182M1056 514h182M1056 528h182M1056 544h182M1056 564h182M1056 570h182M1056 584h182M1056 594h182M1056 614h182M1056 630h182M1056 650h182M1056 680h182M1056 694h182M1056 710h182M1056 716h182M1056 720h182M1056 728h182M1056 732h182M1056 736h182M1056 780h182M1056 798h182M1056 804h182M1056 808h182M1056 832h182M1056 834h182M1056 836h182M1056 878h182M1056 882h182M1056 888h182M1056 894h182"/>
<path stroke="#82a7cc" stroke-width="2" d="M145 968h182M145 976h182M145 1040h182M145 1042h182M145 1116h182M145 1146h182M327 1076h182M509 942h182M509 972h182M509 1002h182M509 1010h182M509 1056h182M509 1078h182M509 1192h182M691 122h183M691 370h183M691 530h183M691 538h183M691 540h183M691 614h183M691 624h183M874 220h182M874 364h182M874 434h182M874 486h182M874 638h182M874 792h182M874 802h182M874 908h182M1056 64h182"/>
<path stroke="#7aa2c9" stroke-width="2" d="M145 1056h182M145 1124h182M145 1130h182M145 1132h182M145 1134h182M145 1138h182M145 1140h182M145 1142h182M145 1144h182M145 1150h182M509 1076h182M509 1232h182M691 254h183M874 682h182"/>
<path stroke="#c0d3e6" stroke-width="2" d="M145 1068h182M145 1070h182M145 1100h182M145 1156h182M145 1188h182M145 1218h182M327 1020h182M327 1040h182M327 1108h182M327 1114h182M327 1120h182M327 1132h182M327 1144h182M327 1148h182M327 1150h182M327 1160h182M327 1166h182M327 1168h182M327 1170h182M327 1176h182M327 1180h182M327 1182h182M327 1184h182M327 1186h182M327 1188h182M327 1208h182M509 1112h182M509 1130h182M509 1134h182M509 1138h182M509 1140h182M509 1142h182M691 194h183M691 278h183M691 286h183M691 336h183M691 354h183M691 446h183M691 464h183M691 710h183M691 776h183M691 854h183M874 94h182M874 216h182M874 416h182M874 512h182M874 578h182M874 882h182M1056 180h182M1056 184h182M1056 188h182M1056 196h182M1056 206h182M1056 258h182M1056 354h182M1056 362h182M1056 524h182M1056 712h182M1056 734h182M1056 854h182M1056 874h182M1056 890h182"/>
<path stroke="#d8e4ef" stroke-width="2" d="M145 1072h182M145 1164h182M327 920h182M327 922h182M327 978h182M327 1128h182M327 1220h182M691 922h183M874 788h182"/>
<path stroke="#e0e9f2" stroke-width="2" d="M145 1074h182M145 1078h182M327 1030h182M691 918h183"/>
<path stroke="#d0deec" stroke-width="2" d="M145 1080h182M327 918h182M327 980h182M327 982h182M327 1026h182M327 1028h182M327 1106h182M327 1158h182M327 1162h182M327 1222h182M509 922h182M874 606h182M1056 268h182"/>
<path stroke="#6391c0" stroke-width="2" d="M145 1126h182M509 1030h182M509 1032h182"/>
<path stroke="#729cc6" stroke-width="2" d="M145 1128h182M145 1136h182M145 1148h182M327 1156h182"/>
<path stroke="#f7fafc" stroke-width="2" d="M327 34h182M327 36h182M327 170h182M327 198h182M327 200h182M327 224h182M327 232h182M509 432h182M509 502h182M509 1154h182M1056 892h182"/>
<path stroke="#e8eff6" stroke-width="2" d="M327 192h182M509 918h182M509 924h182M691 920h183M691 926h183"/>
<path stroke="#c8d9e9" stroke-width="2" d="M327 1024h182M327 1032h182M327 1034h182M327 1036h182M327 1042h182M327 1112h182M327 1118h182M327 1122h182M327 1130h182M327 1136h182M327 1142h182M327 1146h182M327 1198h182M327 1200h182M327 1202h182M327 1204h182M327 1206h182M327 1210h182M327 1212h182M327 1214h182M327 1218h182M509 1132h182M509 1136h182M509 1148h182M509 1150h182M691 312h183M874 514h182M1056 124h182M1056 176h182M1056 194h182M1056 226h182M1056 290h182M1056 674h182M1056 776h182"/>
<path stroke="#6a97c3" stroke-width="2" d="M327 1152h182M327 1154h182"/>
<path stroke="#eff4f9" stroke-width="2" d="M509 522h182M509 920h182M509 926h182M691 924h183"/>
<path stroke="#b01e2c" stroke-width="2" d="M1056 918h182"/>
</g>
<g shape-rendering="crispEdges" fill="none">
<path stroke="#d8e4ef" stroke-width="2" d="M1607 48h179M1607 52h179M1607 64h179M1607 84h179M1607 106h179M1607 114h179M1607 158h179M1607 196h179M1607 198h179M1607 202h179M1607 204h179M1607 206h179M1607 220h179M1607 226h179M1607 228h179M1607 242h179M1607 264h179M1607 270h179M1607 276h179M1607 280h179M1607 292h179M1607 310h179M1607 318h179M1607 420h179M1607 428h179M1607 432h179M1607 440h179M1607 448h179M1607 450h179M1607 452h179M1607 578h179M1607 760h179M1607 762h179M1607 804h179M1607 814h179M2146 866h179M2325 928h179M2325 1060h179M2325 1062h179M2325 1106h179M2325 1108h179M2325 1136h179"/>
<path stroke="#c8d9e9" stroke-width="2" d="M1607 50h179M1607 60h179M1607 62h179M1607 68h179M1607 70h179M1607 72h179M1607 86h179M1607 100h179M1607 108h179M1607 116h179M1607 118h179M1607 122h179M1607 166h179M1607 170h179M1607 222h179M1607 256h179M1607 262h179M1607 266h179M1607 272h179M1607 278h179M1607 288h179M1607 294h179M1607 298h179M1607 300h179M1607 330h179M1607 338h179M1607 400h179M1607 422h179M1607 430h179M1607 434h179M1607 442h179M1607 444h179M1607 446h179M1607 456h179M1607 490h179M1607 522h179M1607 588h179M1607 596h179M1607 600h179M1607 606h179M1607 622h179M1607 698h179M1607 704h179M1607 766h179M1607 768h179M1607 780h179M1607 786h179M1607 788h179M1607 794h179M1607 798h179M1607 810h179M1786 440h180M1786 502h180M1966 84h180M1966 752h180M2146 940h179M2325 856h179M2325 882h179M2325 884h179M2325 890h179M2325 906h179M2325 918h179M2325 922h179M2325 924h179M2325 934h179M2325 996h179M2325 1032h179M2325 1040h179M2325 1048h179M2325 1050h179M2325 1064h179M2325 1074h179M2325 1078h179M2325 1084h179M2325 1110h179M2325 1112h179M2325 1116h179M2325 1168h179M2325 1172h179M2325 1176h179M2325 1178h179M2325 1182h179M2325 1188h179M2325 1198h179M2325 1200h179M2325 1206h179"/>
<path stroke="#d0deec" stroke-width="2" d="M1607 54h179M1607 56h179M1607 58h179M1607 74h179M1607 78h179M1607 80h179M1607 88h179M1607 92h179M1607 96h179M1607 110h179M1607 112h179M1607 152h179M1607 154h179M1607 164h179M1607 186h179M1607 192h179M1607 194h179M1607 200h179M1607 208h179M1607 210h179M1607 214h179M1607 236h179M1607 238h179M1607 240h179M1607 248h179M1607 250h179M1607 286h179M1607 290h179M1607 296h179M1607 304h179M1607 306h179M1607 308h179M1607 316h179M1607 320h179M1607 322h179M1607 324h179M1607 326h179M1607 336h179M1607 426h179M1607 602h179M1607 792h179M1607 808h179M2146 858h179M2146 906h179M2146 916h179M2325 872h179M2325 910h179M2325 912h179M2325 914h179M2325 926h179M2325 942h179M2325 944h179M2325 946h179M2325 948h179M2325 950h179M2325 952h179M2325 974h179M2325 1044h179M2325 1056h179M2325 1066h179M2325 1068h179M2325 1070h179M2325 1088h179M2325 1100h179M2325 1102h179M2325 1114h179M2325 1118h179M2325 1120h179M2325 1140h179M2325 1162h179M2325 1192h179"/>
<path stroke="#c0d3e6" stroke-width="2" d="M1607 66h179M1607 76h179M1607 82h179M1607 90h179M1607 128h179M1607 134h179M1607 146h179M1607 150h179M1607 162h179M1607 168h179M1607 174h179M1607 180h179M1607 182h179M1607 184h179M1607 190h179M1607 218h179M1607 224h179M1607 246h179M1607 252h179M1607 258h179M1607 268h179M1607 274h179M1607 284h179M1607 312h179M1607 314h179M1607 340h179M1607 424h179M1607 438h179M1607 454h179M1607 582h179M1607 584h179M1607 608h179M1607 614h179M1607 626h179M1607 702h179M1607 718h179M1607 772h179M1607 774h179M1607 776h179M1607 790h179M1607 796h179M1607 812h179M1786 624h180M1786 640h180M1786 644h180M1786 762h180M1966 400h180M2146 878h179M2146 888h179M2146 912h179M2146 1110h179M2325 846h179M2325 852h179M2325 896h179M2325 900h179M2325 908h179M2325 930h179M2325 932h179M2325 938h179M2325 940h179M2325 954h179M2325 998h179M2325 1008h179M2325 1034h179M2325 1038h179M2325 1042h179M2325 1046h179M2325 1054h179M2325 1076h179M2325 1082h179M2325 1094h179M2325 1098h179M2325 1104h179M2325 1122h179M2325 1160h179M2325 1166h179M2325 1170h179M2325 1174h179M2325 1196h179M2325 1202h179M2504 864h180"/>
<path stroke="#b1c8df" stroke-width="2" d="M1607 94h179M1607 98h179M1607 126h179M1607 136h179M1607 138h179M1607 148h179M1607 160h179M1607 172h179M1607 188h179M1607 254h179M1607 374h179M1607 376h179M1607 378h179M1607 384h179M1607 402h179M1607 404h179M1607 408h179M1607 412h179M1607 460h179M1607 470h179M1607 476h179M1607 488h179M1607 492h179M1607 506h179M1607 508h179M1607 510h179M1607 516h179M1607 520h179M1607 526h179M1607 540h179M1607 544h179M1607 556h179M1607 566h179M1607 590h179M1607 598h179M1607 610h179M1607 650h179M1607 670h179M1607 678h179M1607 690h179M1607 694h179M1607 696h179M1607 706h179M1607 710h179M1607 726h179M1607 728h179M1607 754h179M1786 62h180M1786 88h180M1786 92h180M1786 116h180M1786 266h180M1786 272h180M1786 328h180M1786 338h180M1786 432h180M1786 524h180M1786 544h180M1786 596h180M1786 598h180M1786 600h180M1786 632h180M1786 638h180M1786 642h180M1786 654h180M1786 660h180M1786 680h180M1786 682h180M1786 698h180M1786 742h180M1786 796h180M1966 88h180M1966 144h180M1966 506h180M1966 524h180M1966 646h180M1966 728h180M2146 832h179M2146 834h179M2146 838h179M2146 880h179M2146 886h179M2146 890h179M2146 896h179M2146 898h179M2146 918h179M2146 922h179M2146 936h179M2146 938h179M2146 948h179M2146 956h179M2146 984h179M2146 1132h179M2146 1166h179M2146 1186h179M2325 844h179M2325 848h179M2325 858h179M2325 860h179M2325 862h179M2325 886h179M2325 894h179M2325 898h179M2325 962h179M2325 964h179M2325 968h179M2325 970h179M2325 972h179M2325 978h179M2325 986h179M2325 1002h179M2325 1028h179M2325 1036h179M2325 1052h179M2325 1138h179M2325 1146h179M2325 1152h179M2325 1156h179M2325 1164h179M2325 1208h179M2325 1214h179M2325 1216h179M2504 848h180M2504 850h180M2504 852h180M2504 856h180M2504 860h180M2504 866h180M2504 868h180M2504 872h180M2504 876h180"/>
<path stroke="#b9cee3" stroke-width="2" d="M1607 102h179M1607 104h179M1607 120h179M1607 124h179M1607 130h179M1607 132h179M1607 142h179M1607 144h179M1607 176h179M1607 178h179M1607 212h179M1607 260h179M1607 282h179M1607 302h179M1607 358h179M1607 360h179M1607 364h179M1607 366h179M1607 370h179M1607 372h179M1607 390h179M1607 406h179M1607 416h179M1607 436h179M1607 466h179M1607 472h179M1607 498h179M1607 504h179M1607 524h179M1607 570h179M1607 574h179M1607 576h179M1607 580h179M1607 586h179M1607 594h179M1607 604h179M1607 612h179M1607 616h179M1607 628h179M1607 666h179M1607 700h179M1607 712h179M1607 730h179M1607 732h179M1607 764h179M1607 770h179M1607 778h179M1607 782h179M1607 800h179M1607 802h179M1607 806h179M1607 816h179M1786 64h180M1786 96h180M1786 110h180M1786 128h180M1786 232h180M1786 378h180M1786 622h180M1786 630h180M1786 648h180M1786 650h180M1786 674h180M1786 686h180M1966 164h180M1966 292h180M1966 746h180M2146 848h179M2146 856h179M2146 882h179M2146 884h179M2146 900h179M2146 908h179M2146 914h179M2146 920h179M2146 924h179M2146 930h179M2146 932h179M2146 942h179M2146 944h179M2146 950h179M2146 954h179M2146 1198h179M2325 864h179M2325 870h179M2325 874h179M2325 892h179M2325 902h179M2325 904h179M2325 920h179M2325 936h179M2325 958h179M2325 994h179M2325 1000h179M2325 1004h179M2325 1006h179M2325 1030h179M2325 1086h179M2325 1090h179M2325 1092h179M2325 1134h179M2325 1142h179M2325 1148h179M2325 1150h179M2325 1180h179M2325 1186h179M2325 1190h179M2325 1194h179M2325 1210h179M2325 1212h179M2504 840h180M2504 842h180M2504 862h180M2504 882h180M2504 1032h180M2504 1126h180"/>
<path stroke="#a9c3dc" stroke-width="2" d="M1607 140h179M1607 156h179M1607 244h179M1607 342h179M1607 346h179M1607 362h179M1607 380h179M1607 382h179M1607 386h179M1607 388h179M1607 394h179M1607 414h179M1607 418h179M1607 464h179M1607 478h179M1607 482h179M1607 486h179M1607 494h179M1607 496h179M1607 512h179M1607 542h179M1607 546h179M1607 550h179M1607 554h179M1607 558h179M1607 560h179M1607 562h179M1607 568h179M1607 592h179M1607 618h179M1607 620h179M1607 654h179M1607 668h179M1607 676h179M1607 680h179M1607 682h179M1607 686h179M1607 708h179M1607 722h179M1607 724h179M1607 736h179M1607 738h179M1607 784h179M1786 48h180M1786 52h180M1786 56h180M1786 68h180M1786 72h180M1786 76h180M1786 80h180M1786 82h180M1786 100h180M1786 102h180M1786 118h180M1786 130h180M1786 132h180M1786 134h180M1786 154h180M1786 256h180M1786 274h180M1786 290h180M1786 310h180M1786 400h180M1786 402h180M1786 406h180M1786 408h180M1786 414h180M1786 450h180M1786 464h180M1786 494h180M1786 498h180M1786 518h180M1786 522h180M1786 530h180M1786 540h180M1786 546h180M1786 578h180M1786 586h180M1786 588h180M1786 592h180M1786 602h180M1786 606h180M1786 620h180M1786 634h180M1786 646h180M1786 658h180M1786 664h180M1786 666h180M1786 668h180M1786 670h180M1786 672h180M1786 684h180M1786 710h180M1786 718h180M1786 730h180M1786 732h180M1786 736h180M1786 754h180M1786 772h180M1786 798h180M1786 800h180M1786 808h180M1786 814h180M1966 100h180M1966 116h180M1966 470h180M1966 494h180M1966 522h180M1966 558h180M1966 606h180M1966 614h180M1966 622h180M1966 630h180M1966 732h180M2146 828h179M2146 846h179M2146 852h179M2146 854h179M2146 892h179M2146 902h179M2146 904h179M2146 926h179M2146 928h179M2146 934h179M2146 974h179M2146 978h179M2146 986h179M2146 1026h179M2146 1042h179M2146 1044h179M2146 1060h179M2146 1068h179M2146 1136h179M2146 1146h179M2146 1178h179M2146 1180h179M2146 1182h179M2146 1192h179M2146 1196h179M2325 850h179M2325 866h179M2325 876h179M2325 888h179M2325 956h179M2325 960h179M2325 966h179M2325 976h179M2325 982h179M2325 984h179M2325 990h179M2325 992h179M2325 1072h179M2325 1096h179M2325 1158h179M2325 1184h179M2504 854h180M2504 878h180M2504 944h180M2504 1152h180M2504 1214h180"/>
<path stroke="#e0e9f2" stroke-width="2" d="M1607 216h179M1607 332h179M1607 334h179M1607 758h179M2146 862h179M2146 872h179M2146 1214h179M2146 1216h179M2325 828h179M2325 832h179M2325 842h179M2325 880h179M2325 916h179"/>
<path stroke="#eff4f9" stroke-width="2" d="M1607 230h179M1607 232h179M1607 966h179M1607 1080h179M1966 842h180M1966 844h180M1966 846h180M1966 854h180M1966 882h180M2146 680h179M2146 686h179M2146 860h179M2146 864h179M2325 78h179M2325 162h179M2325 350h179M2325 610h179M2325 674h179M2325 822h179M2325 1010h179M2325 1124h179M2325 1126h179M2325 1132h179"/>
<path stroke="#e8eff6" stroke-width="2" d="M1607 234h179M1607 328h179M1607 962h179M1607 964h179M1966 856h180M1966 876h180M1966 892h180M2146 874h179M2325 348h179M2325 818h179M2325 826h179M2325 830h179M2325 836h179M2325 838h179M2325 840h179M2325 878h179M2325 1018h179M2325 1020h179M2325 1058h179M2325 1128h179"/>
<path stroke="#a1bdd9" stroke-width="2" d="M1607 344h179M1607 352h179M1607 368h179M1607 392h179M1607 396h179M1607 398h179M1607 410h179M1607 468h179M1607 484h179M1607 502h179M1607 514h179M1607 518h179M1607 528h179M1607 530h179M1607 532h179M1607 538h179M1607 552h179M1607 572h179M1607 630h179M1607 656h179M1607 672h179M1607 674h179M1607 714h179M1607 716h179M1607 734h179M1607 750h179M1607 756h179M1786 50h180M1786 70h180M1786 84h180M1786 86h180M1786 90h180M1786 94h180M1786 106h180M1786 114h180M1786 122h180M1786 126h180M1786 136h180M1786 138h180M1786 164h180M1786 176h180M1786 186h180M1786 220h180M1786 258h180M1786 264h180M1786 268h180M1786 280h180M1786 282h180M1786 286h180M1786 296h180M1786 304h180M1786 306h180M1786 320h180M1786 322h180M1786 326h180M1786 332h180M1786 334h180M1786 336h180M1786 340h180M1786 354h180M1786 360h180M1786 362h180M1786 368h180M1786 370h180M1786 372h180M1786 374h180M1786 376h180M1786 442h180M1786 448h180M1786 458h180M1786 472h180M1786 476h180M1786 480h180M1786 486h180M1786 488h180M1786 490h180M1786 492h180M1786 500h180M1786 512h180M1786 520h180M1786 526h180M1786 536h180M1786 542h180M1786 552h180M1786 560h180M1786 584h180M1786 590h180M1786 594h180M1786 604h180M1786 616h180M1786 626h180M1786 636h180M1786 656h180M1786 688h180M1786 694h180M1786 702h180M1786 706h180M1786 722h180M1786 728h180M1786 734h180M1786 738h180M1786 740h180M1786 744h180M1786 750h180M1786 760h180M1786 778h180M1786 792h180M1786 816h180M1966 64h180M1966 92h180M1966 94h180M1966 98h180M1966 108h180M1966 120h180M1966 146h180M1966 150h180M1966 194h180M1966 270h180M1966 272h180M1966 276h180M1966 296h180M1966 298h180M1966 300h180M1966 312h180M1966 336h180M1966 338h180M1966 344h180M1966 356h180M1966 362h180M1966 376h180M1966 382h180M1966 476h180M1966 502h180M1966 504h180M1966 538h180M1966 604h180M1966 632h180M1966 636h180M1966 650h180M1966 686h180M1966 730h180M1966 750h180M2146 826h179M2146 830h179M2146 840h179M2146 842h179M2146 844h179M2146 850h179M2146 876h179M2146 894h179M2146 952h179M2146 960h179M2146 962h179M2146 970h179M2146 982h179M2146 990h179M2146 992h179M2146 994h179M2146 996h179M2146 1008h179M2146 1030h179M2146 1038h179M2146 1040h179M2146 1050h179M2146 1058h179M2146 1082h179M2146 1118h179M2146 1122h179M2146 1138h179M2146 1140h179M2146 1144h179M2146 1148h179M2146 1150h179M2146 1156h179M2146 1170h179M2146 1172h179M2146 1176h179M2146 1184h179M2146 1188h179M2325 854h179M2325 868h179M2325 1080h179M2325 1154h179M2325 1204h179M2504 844h180M2504 846h180M2504 858h180M2504 870h180M2504 874h180M2504 880h180M2504 884h180M2504 934h180M2504 938h180M2504 1014h180M2504 1148h180"/>
<path stroke="#99b8d6" stroke-width="2" d="M1607 348h179M1607 350h179M1607 458h179M1607 480h179M1607 500h179M1607 534h179M1607 536h179M1607 624h179M1607 636h179M1607 646h179M1607 648h179M1607 688h179M1607 692h179M1607 742h179M1607 752h179M1786 54h180M1786 60h180M1786 66h180M1786 98h180M1786 104h180M1786 108h180M1786 120h180M1786 124h180M1786 140h180M1786 142h180M1786 144h180M1786 148h180M1786 152h180M1786 156h180M1786 158h180M1786 166h180M1786 170h180M1786 174h180M1786 184h180M1786 188h180M1786 190h180M1786 194h180M1786 198h180M1786 208h180M1786 212h180M1786 214h180M1786 216h180M1786 228h180M1786 236h180M1786 240h180M1786 248h180M1786 250h180M1786 260h180M1786 270h180M1786 292h180M1786 300h180M1786 308h180M1786 316h180M1786 318h180M1786 324h180M1786 342h180M1786 352h180M1786 356h180M1786 364h180M1786 382h180M1786 392h180M1786 404h180M1786 412h180M1786 416h180M1786 420h180M1786 422h180M1786 426h180M1786 428h180M1786 430h180M1786 444h180M1786 452h180M1786 454h180M1786 456h180M1786 460h180M1786 462h180M1786 470h180M1786 484h180M1786 496h180M1786 504h180M1786 506h180M1786 508h180M1786 510h180M1786 532h180M1786 538h180M1786 558h180M1786 568h180M1786 570h180M1786 572h180M1786 580h180M1786 614h180M1786 652h180M1786 662h180M1786 676h180M1786 678h180M1786 690h180M1786 700h180M1786 704h180M1786 712h180M1786 714h180M1786 716h180M1786 720h180M1786 724h180M1786 752h180M1786 768h180M1786 780h180M1786 782h180M1786 786h180M1786 804h180M1966 56h180M1966 90h180M1966 96h180M1966 104h180M1966 110h180M1966 114h180M1966 132h180M1966 142h180M1966 148h180M1966 154h180M1966 160h180M1966 162h180M1966 166h180M1966 170h180M1966 174h180M1966 186h180M1966 196h180M1966 274h180M1966 280h180M1966 310h180M1966 324h180M1966 342h180M1966 366h180M1966 472h180M1966 474h180M1966 516h180M1966 528h180M1966 532h180M1966 544h180M1966 550h180M1966 556h180M1966 602h180M1966 616h180M1966 626h180M1966 628h180M1966 642h180M1966 644h180M1966 648h180M1966 652h180M1966 678h180M1966 680h180M1966 684h180M1966 690h180M1966 694h180M1966 696h180M1966 698h180M1966 704h180M1966 708h180M1966 722h180M1966 734h180M1966 738h180M1966 768h180M2146 820h179M2146 910h179M2146 946h179M2146 958h179M2146 1006h179M2146 1014h179M2146 1024h179M2146 1032h179M2146 1034h179M2146 1036h179M2146 1052h179M2146 1056h179M2146 1066h179M2146 1086h179M2146 1112h179M2146 1126h179M2146 1128h179M2146 1134h179M2146 1142h179M2146 1152h179M2146 1154h179M2146 1158h179M2146 1160h179M2146 1162h179M2146 1164h179M2146 1174h179M2146 1194h179M2325 980h179M2325 1144h179M2504 826h180M2504 834h180M2504 836h180M2504 906h180M2504 908h180M2504 930h180M2504 940h180M2504 942h180M2504 948h180M2504 950h180M2504 958h180M2504 962h180M2504 968h180M2504 974h180M2504 992h180M2504 1144h180M2504 1146h180M2504 1166h180M2504 1172h180M2504 1192h180M2504 1194h180M2504 1200h180M2504 1206h180M2504 1208h180M2504 1216h180"/>
<path stroke="#92b2d3" stroke-width="2" d="M1607 354h179M1607 356h179M1607 462h179M1607 474h179M1607 564h179M1607 632h179M1607 652h179M1607 658h179M1607 664h179M1607 748h179M1786 58h180M1786 74h180M1786 112h180M1786 146h180M1786 150h180M1786 160h180M1786 168h180M1786 180h180M1786 182h180M1786 192h180M1786 202h180M1786 206h180M1786 218h180M1786 222h180M1786 230h180M1786 238h180M1786 252h180M1786 254h180M1786 276h180M1786 278h180M1786 284h180M1786 288h180M1786 294h180M1786 298h180M1786 302h180M1786 314h180M1786 330h180M1786 344h180M1786 346h180M1786 348h180M1786 350h180M1786 366h180M1786 384h180M1786 386h180M1786 394h180M1786 410h180M1786 418h180M1786 434h180M1786 438h180M1786 474h180M1786 514h180M1786 534h180M1786 550h180M1786 556h180M1786 562h180M1786 566h180M1786 576h180M1786 608h180M1786 610h180M1786 618h180M1786 628h180M1786 692h180M1786 696h180M1786 708h180M1786 726h180M1786 748h180M1786 756h180M1786 758h180M1786 764h180M1786 766h180M1786 770h180M1786 774h180M1786 776h180M1786 784h180M1786 788h180M1786 790h180M1786 794h180M1786 802h180M1786 806h180M1786 810h180M1786 812h180M1966 50h180M1966 58h180M1966 62h180M1966 72h180M1966 74h180M1966 80h180M1966 86h180M1966 106h180M1966 136h180M1966 158h180M1966 184h180M1966 264h180M1966 294h180M1966 302h180M1966 304h180M1966 306h180M1966 308h180M1966 314h180M1966 320h180M1966 322h180M1966 326h180M1966 328h180M1966 330h180M1966 346h180M1966 350h180M1966 358h180M1966 368h180M1966 372h180M1966 374h180M1966 378h180M1966 380h180M1966 384h180M1966 386h180M1966 390h180M1966 392h180M1966 394h180M1966 396h180M1966 402h180M1966 406h180M1966 478h180M1966 484h180M1966 488h180M1966 492h180M1966 498h180M1966 500h180M1966 512h180M1966 520h180M1966 526h180M1966 530h180M1966 534h180M1966 536h180M1966 540h180M1966 542h180M1966 554h180M1966 566h180M1966 570h180M1966 608h180M1966 610h180M1966 612h180M1966 618h180M1966 624h180M1966 654h180M1966 658h180M1966 662h180M1966 670h180M1966 682h180M1966 688h180M1966 692h180M1966 700h180M1966 710h180M1966 714h180M1966 718h180M1966 724h180M1966 726h180M1966 740h180M1966 742h180M1966 744h180M1966 754h180M1966 756h180M2146 824h179M2146 972h179M2146 976h179M2146 980h179M2146 988h179M2146 998h179M2146 1004h179M2146 1012h179M2146 1016h179M2146 1018h179M2146 1022h179M2146 1064h179M2146 1072h179M2146 1074h179M2146 1088h179M2146 1094h179M2146 1098h179M2146 1100h179M2146 1106h179M2146 1114h179M2146 1124h179M2146 1130h179M2146 1168h179M2146 1190h179M2146 1206h179M2325 988h179M2504 828h180M2504 830h180M2504 832h180M2504 894h180M2504 898h180M2504 900h180M2504 918h180M2504 924h180M2504 926h180M2504 954h180M2504 964h180M2504 970h180M2504 980h180M2504 982h180M2504 986h180M2504 1002h180M2504 1008h180M2504 1010h180M2504 1034h180M2504 1142h180M2504 1154h180M2504 1156h180M2504 1162h180M2504 1170h180M2504 1178h180M2504 1182h180M2504 1188h180M2504 1196h180M2504 1198h180M2504 1202h180M2504 1204h180"/>
<path stroke="#82a7cc" stroke-width="2" d="M1607 548h179M1607 634h179M1607 642h179M1607 740h179M1607 744h179M1607 746h179M1786 162h180M1786 224h180M1786 234h180M1786 242h180M1786 246h180M1786 398h180M1786 468h180M1786 478h180M1786 548h180M1786 564h180M1966 134h180M1966 152h180M1966 156h180M1966 168h180M1966 188h180M1966 192h180M1966 200h180M1966 202h180M1966 210h180M1966 214h180M1966 220h180M1966 226h180M1966 246h180M1966 316h180M1966 354h180M1966 360h180M1966 408h180M1966 430h180M1966 460h180M1966 480h180M1966 490h180M1966 548h180M1966 568h180M1966 574h180M1966 578h180M1966 580h180M1966 582h180M1966 590h180M1966 594h180M1966 596h180M1966 668h180M1966 672h180M1966 674h180M1966 736h180M1966 762h180M1966 766h180M1966 786h180M2146 1046h179M2146 1070h179M2146 1080h179M2146 1096h179M2146 1102h179M2146 1108h179M2146 1208h179M2146 1210h179M2504 822h180M2504 838h180M2504 890h180M2504 914h180M2504 952h180M2504 1012h180M2504 1022h180M2504 1026h180M2504 1040h180M2504 1042h180M2504 1068h180M2504 1070h180M2504 1088h180M2504 1094h180M2504 1106h180M2504 1122h180"/>
<path stroke="#8aadd0" stroke-width="2" d="M1607 638h179M1607 640h179M1607 644h179M1607 660h179M1607 662h179M1607 684h179M1607 720h179M1786 78h180M1786 172h180M1786 178h180M1786 196h180M1786 200h180M1786 210h180M1786 226h180M1786 244h180M1786 262h180M1786 312h180M1786 358h180M1786 380h180M1786 388h180M1786 390h180M1786 396h180M1786 424h180M1786 436h180M1786 446h180M1786 466h180M1786 482h180M1786 516h180M1786 528h180M1786 554h180M1786 574h180M1786 582h180M1786 612h180M1786 746h180M1966 48h180M1966 52h180M1966 54h180M1966 60h180M1966 66h180M1966 68h180M1966 70h180M1966 76h180M1966 82h180M1966 102h180M1966 112h180M1966 118h180M1966 126h180M1966 138h180M1966 140h180M1966 172h180M1966 190h180M1966 198h180M1966 228h180M1966 262h180M1966 266h180M1966 268h180M1966 278h180M1966 318h180M1966 332h180M1966 334h180M1966 340h180M1966 348h180M1966 352h180M1966 364h180M1966 370h180M1966 388h180M1966 398h180M1966 404h180M1966 410h180M1966 414h180M1966 482h180M1966 486h180M1966 496h180M1966 508h180M1966 510h180M1966 514h180M1966 518h180M1966 546h180M1966 552h180M1966 560h180M1966 562h180M1966 572h180M1966 576h180M1966 584h180M1966 620h180M1966 634h180M1966 638h180M1966 640h180M1966 656h180M1966 660h180M1966 664h180M1966 666h180M1966 676h180M1966 702h180M1966 706h180M1966 712h180M1966 716h180M1966 720h180M1966 748h180M1966 780h180M1966 796h180M2146 818h179M2146 822h179M2146 836h179M2146 964h179M2146 966h179M2146 968h179M2146 1000h179M2146 1002h179M2146 1010h179M2146 1028h179M2146 1048h179M2146 1054h179M2146 1062h179M2146 1076h179M2146 1084h179M2146 1090h179M2146 1104h179M2146 1116h179M2146 1120h179M2146 1200h179M2146 1202h179M2146 1204h179M2146 1212h179M2504 818h180M2504 820h180M2504 824h180M2504 892h180M2504 896h180M2504 910h180M2504 912h180M2504 916h180M2504 920h180M2504 928h180M2504 932h180M2504 936h180M2504 946h180M2504 956h180M2504 960h180M2504 966h180M2504 972h180M2504 976h180M2504 978h180M2504 984h180M2504 988h180M2504 990h180M2504 994h180M2504 998h180M2504 1000h180M2504 1004h180M2504 1006h180M2504 1024h180M2504 1048h180M2504 1084h180M2504 1092h180M2504 1098h180M2504 1100h180M2504 1104h180M2504 1140h180M2504 1150h180M2504 1158h180M2504 1168h180M2504 1174h180M2504 1176h180M2504 1180h180M2504 1184h180M2504 1186h180M2504 1190h180M2504 1210h180M2504 1212h180"/>
<path stroke="#c8646d" stroke-width="2" d="M1607 818h179M1607 820h179M1607 828h179M1607 832h179M1607 892h179M1607 894h179M1607 916h179M1607 918h179M1607 922h179M1607 928h179M1607 930h179M1607 938h179M1607 946h179M1607 948h179M1607 1216h179M1786 1026h180M1786 1034h180M1786 1042h180M1786 1074h180M1786 1128h180M1786 1130h180M1786 1136h180M1966 978h180M1966 980h180M1966 984h180M1966 986h180M1966 1078h180M1966 1094h180M1966 1106h180M1966 1110h180M1966 1112h180M2146 84h179M2146 96h179M2146 100h179M2146 116h179M2146 120h179M2146 124h179M2146 136h179M2146 158h179M2146 178h179M2146 186h179M2146 220h179M2146 228h179M2146 230h179M2146 292h179M2146 298h179M2146 468h179M2146 482h179M2146 488h179M2146 492h179M2146 496h179M2146 516h179M2146 524h179M2146 542h179M2504 280h180M2504 386h180M2504 588h180M2504 596h180M2504 602h180M2504 616h180M2504 678h180M2504 690h180M2504 692h180M2504 704h180M2504 722h180M2504 758h180M2504 766h180M2504 772h180M2504 778h180M2504 806h180"/>
<path stroke="#cb6c75" stroke-width="2" d="M1607 822h179M1607 824h179M1607 830h179M1607 836h179M1607 896h179M1607 902h179M1607 906h179M1607 912h179M1607 920h179M1607 932h179M1607 934h179M1607 940h179M1607 950h179M1607 956h179M1786 1024h180M1786 1032h180M1786 1036h180M1786 1050h180M1786 1054h180M1786 1060h180M1786 1068h180M1786 1124h180M1786 1142h180M1786 1144h180M1786 1148h180M1786 1160h180M1786 1162h180M1966 970h180M1966 974h180M1966 982h180M1966 996h180M1966 1000h180M1966 1002h180M1966 1004h180M1966 1006h180M1966 1012h180M1966 1020h180M1966 1100h180M1966 1114h180M2146 88h179M2146 90h179M2146 94h179M2146 140h179M2146 296h179M2146 302h179M2146 316h179M2146 318h179M2146 320h179M2146 326h179M2146 458h179M2146 466h179M2146 478h179M2146 486h179M2146 502h179M2146 504h179M2146 506h179M2146 510h179M2146 512h179M2146 520h179M2146 536h179M2146 544h179M2146 560h179M2504 354h180M2504 356h180M2504 580h180M2504 582h180M2504 590h180M2504 598h180M2504 600h180M2504 606h180M2504 612h180M2504 614h180M2504 618h180M2504 720h180M2504 740h180M2504 752h180M2504 754h180M2504 756h180M2504 770h180M2504 786h180M2504 792h180M2504 796h180M2504 812h180M2504 816h180"/>
<path stroke="#c65b66" stroke-width="2" d="M1607 826h179M1607 834h179M1607 888h179M1607 900h179M1607 908h179M1607 910h179M1607 944h179M1607 1214h179M1786 1048h180M1786 1126h180M1786 1140h180M1786 1150h180M1966 966h180M1966 972h180M1966 976h180M1966 992h180M1966 1014h180M1966 1022h180M2146 64h179M2146 70h179M2146 74h179M2146 110h179M2146 114h179M2146 138h179M2146 142h179M2146 150h179M2146 152h179M2146 162h179M2146 166h179M2146 172h179M2146 174h179M2146 224h179M2146 306h179M2146 472h179M2146 490h179M2146 538h179M2325 570h179M2325 572h179M2325 574h179M2504 622h180M2504 632h180M2504 640h180M2504 648h180M2504 658h180M2504 696h180M2504 706h180M2504 712h180M2504 714h180M2504 716h180M2504 718h180M2504 724h180M2504 746h180M2504 750h180M2504 762h180M2504 768h180M2504 774h180M2504 776h180M2504 788h180M2504 798h180M2504 804h180M2504 810h180M2504 814h180"/>
<path stroke="#d17c84" stroke-width="2" d="M1607 838h179M1607 898h179M1607 954h179M1607 1148h179M1607 1152h179M1607 1178h179M1607 1212h179M1786 1038h180M1786 1046h180M1786 1052h180M1786 1062h180M1786 1082h180M1786 1090h180M1786 1138h180M1786 1164h180M1786 1166h180M1786 1174h180M1966 1010h180M1966 1036h180M1966 1082h180M1966 1084h180M1966 1088h180M1966 1096h180M1966 1118h180M2146 98h179M2146 102h179M2146 104h179M2146 188h179M2146 202h179M2146 204h179M2146 206h179M2146 208h179M2146 212h179M2146 216h179M2146 222h179M2146 234h179M2146 254h179M2146 260h179M2146 262h179M2146 266h179M2146 270h179M2146 290h179M2146 312h179M2146 314h179M2146 322h179M2146 328h179M2146 336h179M2146 500h179M2146 518h179M2146 528h179M2146 534h179M2146 540h179M2146 546h179M2146 550h179M2146 556h179M2146 600h179M2146 606h179M2146 610h179M2146 622h179M2504 88h180M2504 100h180M2504 104h180M2504 236h180M2504 256h180M2504 272h180M2504 298h180M2504 300h180M2504 328h180M2504 332h180M2504 348h180M2504 368h180M2504 370h180M2504 372h180M2504 376h180M2504 378h180M2504 382h180M2504 396h180M2504 402h180M2504 406h180M2504 504h180M2504 526h180M2504 534h180M2504 536h180M2504 592h180M2504 608h180M2504 620h180M2504 626h180M2504 794h180"/>
<path stroke="#b42a38" stroke-width="2" d="M1607 840h179M1607 848h179M1607 852h179M1607 864h179M1607 866h179M1607 872h179M2146 192h179M2146 196h179M2504 662h180M2504 664h180M2504 666h180"/>
<path stroke="#b12230" stroke-width="2" d="M1607 842h179M2146 194h179M2504 686h180"/>
<path stroke="#ba3b47" stroke-width="2" d="M1607 844h179M1607 858h179M1607 862h179M1607 868h179M1607 874h179M1607 876h179M2146 52h179M2325 568h179M2504 668h180"/>
<path stroke="#b01e2c" stroke-width="2" d="M1607 846h179M1607 850h179M1607 856h179M1607 860h179"/>
<path stroke="#d4848c" stroke-width="2" d="M1607 854h179M1607 1162h179M1607 1172h179M1607 1174h179M1607 1180h179M1607 1196h179M1607 1200h179M1786 836h180M1786 1056h180M1786 1084h180M1786 1112h180M1786 1154h180M1786 1170h180M1786 1182h180M1786 1198h180M1966 1024h180M1966 1030h180M1966 1032h180M1966 1034h180M1966 1054h180M1966 1056h180M1966 1058h180M1966 1064h180M1966 1070h180M1966 1116h180M2146 112h179M2146 200h179M2146 210h179M2146 248h179M2146 250h179M2146 258h179M2146 272h179M2146 274h179M2146 280h179M2146 288h179M2146 304h179M2146 330h179M2146 340h179M2146 342h179M2146 362h179M2146 374h179M2146 392h179M2146 440h179M2146 444h179M2146 450h179M2146 464h179M2146 498h179M2146 508h179M2146 552h179M2146 558h179M2146 596h179M2146 602h179M2325 752h179M2504 84h180M2504 90h180M2504 92h180M2504 96h180M2504 102h180M2504 114h180M2504 238h180M2504 240h180M2504 248h180M2504 250h180M2504 266h180M2504 268h180M2504 282h180M2504 288h180M2504 292h180M2504 304h180M2504 306h180M2504 310h180M2504 314h180M2504 324h180M2504 330h180M2504 346h180M2504 352h180M2504 358h180M2504 362h180M2504 366h180M2504 398h180M2504 408h180M2504 410h180M2504 412h180M2504 520h180M2504 538h180M2504 540h180M2504 624h180M2504 628h180"/>
<path stroke="#b7323f" stroke-width="2" d="M1607 870h179M1607 878h179M1607 882h179M2146 198h179M2504 638h180M2504 680h180M2504 730h180M2504 736h180"/>
<path stroke="#c04b56" stroke-width="2" d="M1607 880h179M1607 884h179M1607 890h179M1607 926h179M1966 960h180M1966 988h180M1966 990h180M2146 54h179M2146 56h179M2146 58h179M2146 60h179M2146 62h179M2146 72h179M2146 76h179M2146 128h179M2146 130h179M2146 132h179M2146 134h179M2146 144h179M2146 154h179M2146 176h179M2146 182h179M2146 476h179M2325 566h179M2325 576h179M2325 578h179M2504 630h180M2504 634h180M2504 636h180M2504 642h180M2504 646h180M2504 650h180M2504 656h180M2504 670h180M2504 674h180M2504 694h180M2504 728h180M2504 738h180"/>
<path stroke="#fcf7f7" stroke-width="2" d="M1607 886h179M1607 992h179M1607 1086h179M1607 1092h179M1607 1096h179M1607 1098h179M1607 1100h179M1607 1102h179M1607 1108h179M1607 1120h179M1786 846h180M1786 886h180M1786 888h180M1786 892h180M1966 826h180M1966 832h180M1966 836h180M1966 910h180M1966 920h180M1966 928h180M1966 930h180M1966 938h180M1966 948h180M1966 1122h180M1966 1124h180M1966 1146h180M2146 574h179M2146 682h179M2146 868h179M2325 66h179M2325 70h179M2325 94h179M2325 102h179M2325 106h179M2325 114h179M2325 152h179M2325 158h179M2325 160h179M2325 180h179M2325 182h179M2325 190h179M2325 194h179M2325 260h179M2325 270h179M2325 280h179M2325 340h179M2325 344h179M2325 590h179M2325 594h179M2325 596h179M2325 612h179M2325 622h179M2325 628h179M2325 638h179M2325 640h179M2325 642h179M2325 662h179M2504 886h180"/>
<path stroke="#ce747d" stroke-width="2" d="M1607 904h179M1607 914h179M1607 924h179M1607 952h179M1607 1156h179M1607 1166h179M1607 1170h179M1607 1176h179M1607 1202h179M1607 1206h179M1607 1208h179M1607 1210h179M1786 1028h180M1786 1030h180M1786 1040h180M1786 1044h180M1786 1058h180M1786 1064h180M1786 1066h180M1786 1070h180M1786 1132h180M1786 1134h180M1786 1146h180M1786 1158h180M1786 1168h180M1786 1172h180M1786 1178h180M1786 1184h180M1966 968h180M1966 1008h180M1966 1026h180M1966 1050h180M1966 1076h180M1966 1080h180M1966 1086h180M1966 1090h180M1966 1098h180M1966 1102h180M1966 1104h180M1966 1108h180M2146 80h179M2146 82h179M2146 86h179M2146 92h179M2146 108h179M2146 240h179M2146 264h179M2146 282h179M2146 294h179M2146 300h179M2146 310h179M2146 324h179M2146 332h179M2146 334h179M2146 338h179M2146 364h179M2146 442h179M2146 480h179M2146 484h179M2146 494h179M2146 514h179M2146 522h179M2146 530h179M2146 532h179M2146 554h179M2504 110h180M2504 290h180M2504 296h180M2504 344h180M2504 364h180M2504 374h180M2504 380h180M2504 384h180M2504 388h180M2504 392h180M2504 394h180M2504 400h180M2504 560h180M2504 586h180M2504 594h180M2504 604h180M2504 610h180M2504 744h180M2504 748h180M2504 760h180M2504 782h180M2504 790h180M2504 800h180"/>
<path stroke="#c3535e" stroke-width="2" d="M1607 936h179M1607 942h179M1966 962h180M1966 964h180M1966 994h180M1966 998h180M1966 1016h180M1966 1018h180M1966 1074h180M2146 48h179M2146 66h179M2146 68h179M2146 78h179M2146 122h179M2146 126h179M2146 146h179M2146 148h179M2146 160h179M2146 168h179M2146 170h179M2146 180h179M2146 184h179M2146 226h179M2146 470h179M2146 474h179M2504 584h180M2504 652h180M2504 660h180M2504 672h180M2504 676h180M2504 688h180M2504 698h180M2504 700h180M2504 702h180M2504 708h180M2504 710h180M2504 726h180M2504 734h180M2504 780h180M2504 784h180M2504 802h180M2504 808h180"/>
<path stroke="#ffffff" stroke-width="2" d="M1607 958h179M1607 960h179M1607 1006h179M1786 842h180M1786 848h180M1966 824h180M1966 834h180M1966 840h180M1966 850h180M1966 858h180M1966 866h180M1966 872h180M1966 884h180M1966 934h180M1966 952h180M1966 1126h180M1966 1130h180M1966 1138h180M1966 1144h180M1966 1148h180M1966 1150h180M2146 684h179M2146 688h179M2146 870h179M2325 72h179M2325 74h179M2325 76h179M2325 82h179M2325 86h179M2325 98h179M2325 104h179M2325 108h179M2325 112h179M2325 156h179M2325 172h179M2325 192h179M2325 196h179M2325 272h179M2325 284h179M2325 346h179M2325 604h179M2325 618h179M2325 620h179M2325 624h179M2325 626h179M2325 636h179M2325 644h179M2325 648h179M2325 652h179M2325 656h179M2325 660h179M2325 820h179M2325 1014h179M2325 1024h179M2325 1130h179M2504 888h180"/>
<path stroke="#e8bec2" stroke-width="2" d="M1607 968h179M1607 970h179M1607 1026h179M1607 1028h179M1607 1034h179M1607 1038h179M1607 1044h179M1607 1050h179M1607 1056h179M1607 1060h179M1607 1068h179M1786 860h180M1786 902h180M1786 910h180M1786 914h180M1786 918h180M1786 922h180M1786 928h180M1786 956h180M1786 964h180M1786 998h180M1786 1006h180M1786 1020h180M1786 1206h180M1786 1216h180M1966 898h180M1966 1162h180M1966 1168h180M1966 1172h180M1966 1176h180M1966 1196h180M2146 106h179M2146 700h179M2146 706h179M2146 716h179M2146 722h179M2146 724h179M2146 728h179M2146 734h179M2146 746h179M2146 748h179M2146 758h179M2146 774h179M2146 802h179M2146 810h179M2146 816h179M2325 56h179M2325 150h179M2325 296h179M2325 318h179M2325 374h179M2325 400h179M2325 404h179M2325 418h179M2325 450h179M2325 470h179M2325 516h179M2325 564h179M2325 708h179M2325 740h179M2325 742h179M2325 768h179M2325 780h179M2325 782h179M2325 784h179M2325 786h179M2325 790h179M2325 800h179M2325 802h179M2504 64h180M2504 68h180M2504 74h180M2504 82h180M2504 122h180M2504 128h180M2504 134h180M2504 140h180M2504 142h180M2504 162h180M2504 168h180M2504 186h180M2504 188h180M2504 192h180M2504 438h180M2504 452h180M2504 458h180"/>
<path stroke="#dfa5ab" stroke-width="2" d="M1607 972h179M1607 980h179M1607 988h179M1607 1140h179M1607 1154h179M1607 1184h179M1607 1188h179M1786 818h180M1786 824h180M1786 832h180M1786 856h180M1786 876h180M1786 930h180M1786 936h180M1786 942h180M1786 972h180M1786 990h180M1786 1120h180M1786 1186h180M1786 1190h180M1786 1196h180M1786 1212h180M1966 1040h180M2146 246h179M2146 352h179M2146 354h179M2146 376h179M2146 416h179M2146 420h179M2146 428h179M2146 434h179M2146 614h179M2146 620h179M2146 634h179M2146 642h179M2146 650h179M2146 754h179M2146 764h179M2146 798h179M2325 408h179M2325 440h179M2325 498h179M2325 512h179M2325 514h179M2325 526h179M2325 528h179M2325 536h179M2325 538h179M2325 546h179M2325 550h179M2325 558h179M2325 678h179M2325 686h179M2325 698h179M2325 710h179M2325 714h179M2325 762h179M2325 810h179M2504 152h180M2504 156h180M2504 166h180M2504 176h180M2504 180h180M2504 182h180M2504 204h180M2504 206h180M2504 208h180M2504 210h180M2504 214h180M2504 224h180M2504 232h180M2504 340h180M2504 426h180M2504 472h180M2504 484h180M2504 508h180M2504 516h180M2504 518h180M2504 542h180M2504 562h180"/>
<path stroke="#eeced1" stroke-width="2" d="M1607 974h179M1607 1040h179M1786 852h180M1786 862h180M1786 866h180M1786 904h180M1786 920h180M1786 924h180M1966 900h180M1966 904h180M1966 1186h180M1966 1192h180M1966 1194h180M1966 1206h180M1966 1210h180M1966 1214h180M2146 660h179M2146 662h179M2146 676h179M2146 692h179M2146 702h179M2146 732h179M2146 800h179M2146 804h179M2146 808h179M2325 48h179M2325 52h179M2325 54h179M2325 116h179M2325 132h179M2325 154h179M2325 220h179M2325 292h179M2325 298h179M2325 306h179M2325 312h179M2325 328h179M2325 330h179M2325 334h179M2325 352h179M2325 354h179M2325 370h179M2325 382h179M2325 384h179M2325 414h179M2325 424h179M2325 428h179M2325 462h179M2325 764h179M2325 774h179M2325 778h179M2325 792h179M2504 52h180M2504 72h180M2504 76h180M2504 78h180M2504 444h180M2504 450h180M2504 454h180M2504 456h180M2504 464h180M2504 468h180"/>
<path stroke="#ebc6c9" stroke-width="2" d="M1607 976h179M1607 990h179M1607 1024h179M1607 1030h179M1607 1032h179M1607 1036h179M1607 1054h179M1607 1062h179M1607 1066h179M1607 1074h179M1786 864h180M1786 868h180M1786 908h180M1786 912h180M1786 916h180M1786 926h180M1786 1010h180M1966 902h180M1966 1156h180M1966 1174h180M1966 1180h180M1966 1182h180M1966 1184h180M1966 1216h180M2146 710h179M2146 712h179M2146 714h179M2146 720h179M2146 726h179M2146 742h179M2146 752h179M2146 786h179M2146 794h179M2146 812h179M2146 814h179M2325 134h179M2325 142h179M2325 248h179M2325 302h179M2325 322h179M2325 332h179M2325 358h179M2325 360h179M2325 362h179M2325 364h179M2325 392h179M2325 396h179M2325 398h179M2325 402h179M2325 426h179M2325 444h179M2325 456h179M2325 468h179M2325 474h179M2325 552h179M2325 704h179M2325 724h179M2325 726h179M2325 766h179M2325 770h179M2325 776h179M2325 788h179M2325 794h179M2325 796h179M2325 804h179M2504 116h180M2504 124h180M2504 126h180M2504 130h180M2504 136h180M2504 138h180M2504 190h180M2504 194h180M2504 196h180M2504 198h180M2504 448h180M2504 460h180M2504 466h180M2504 576h180M2504 578h180"/>
<path stroke="#e5b5ba" stroke-width="2" d="M1607 978h179M1607 986h179M1607 1042h179M1607 1048h179M1607 1058h179M1607 1070h179M1607 1122h179M1607 1204h179M1786 884h180M1786 906h180M1786 944h180M1786 946h180M1786 950h180M1786 960h180M1786 966h180M1786 970h180M1786 974h180M1786 992h180M1786 1008h180M1786 1018h180M1786 1022h180M1966 1160h180M1966 1166h180M1966 1170h180M2146 404h179M2146 412h179M2146 426h179M2146 526h179M2146 584h179M2146 640h179M2146 648h179M2146 652h179M2146 690h179M2146 694h179M2146 696h179M2146 698h179M2146 704h179M2146 708h179M2146 738h179M2146 744h179M2146 760h179M2146 762h179M2146 768h179M2146 770h179M2146 772h179M2146 776h179M2146 778h179M2146 784h179M2146 806h179M2325 406h179M2325 422h179M2325 430h179M2325 432h179M2325 452h179M2325 458h179M2325 460h179M2325 464h179M2325 500h179M2325 504h179M2325 508h179M2325 548h179M2325 556h179M2325 562h179M2325 716h179M2325 722h179M2325 772h179M2325 798h179M2325 806h179M2325 814h179M2325 816h179M2504 70h180M2504 132h180M2504 144h180M2504 148h180M2504 158h180M2504 172h180M2504 184h180M2504 416h180M2504 418h180M2504 462h180M2504 474h180M2504 480h180M2504 494h180M2504 498h180M2504 500h180M2504 546h180M2504 574h180"/>
<path stroke="#e2adb2" stroke-width="2" d="M1607 982h179M1607 1064h179M1607 1128h179M1607 1134h179M1786 830h180M1786 882h180M1786 934h180M1786 938h180M1786 940h180M1786 948h180M1786 952h180M1786 954h180M1786 958h180M1786 962h180M1786 968h180M1786 976h180M1786 978h180M1786 982h180M1786 984h180M1786 986h180M1786 988h180M1786 996h180M1786 1004h180M1786 1012h180M1786 1014h180M1786 1016h180M1786 1194h180M1966 1158h180M1966 1164h180M2146 344h179M2146 348h179M2146 350h179M2146 380h179M2146 386h179M2146 402h179M2146 408h179M2146 414h179M2146 422h179M2146 424h179M2146 436h179M2146 630h179M2146 632h179M2146 636h179M2146 646h179M2146 656h179M2146 718h179M2146 730h179M2146 736h179M2146 750h179M2146 756h179M2146 766h179M2146 782h179M2146 788h179M2146 790h179M2146 796h179M2325 410h179M2325 446h179M2325 448h179M2325 454h179M2325 466h179M2325 472h179M2325 476h179M2325 520h179M2325 530h179M2325 532h179M2325 554h179M2325 560h179M2325 684h179M2325 692h179M2325 700h179M2325 702h179M2325 706h179M2325 712h179M2325 718h179M2325 720h179M2325 734h179M2325 748h179M2325 808h179M2325 812h179M2504 66h180M2504 80h180M2504 120h180M2504 160h180M2504 170h180M2504 178h180M2504 242h180M2504 422h180M2504 424h180M2504 434h180M2504 436h180M2504 440h180M2504 478h180M2504 482h180M2504 486h180M2504 492h180M2504 550h180M2504 570h180M2504 572h180"/>
<path stroke="#dd9da3" stroke-width="2" d="M1607 984h179M1607 1124h179M1607 1126h179M1607 1132h179M1607 1138h179M1607 1190h179M1607 1192h179M1607 1194h179M1786 820h180M1786 822h180M1786 826h180M1786 828h180M1786 838h180M1786 872h180M1786 874h180M1786 880h180M1786 932h180M1786 980h180M1786 994h180M1786 1000h180M1786 1110h180M1786 1188h180M1786 1202h180M1786 1204h180M1786 1208h180M1966 1038h180M1966 1044h180M1966 1052h180M2146 242h179M2146 268h179M2146 346h179M2146 368h179M2146 370h179M2146 372h179M2146 378h179M2146 390h179M2146 398h179M2146 406h179M2146 410h179M2146 430h179M2146 454h179M2146 460h179M2146 462h179M2146 562h179M2146 582h179M2146 638h179M2146 644h179M2146 654h179M2146 780h179M2146 792h179M2325 502h179M2325 510h179M2325 522h179M2325 524h179M2325 540h179M2325 544h179M2325 688h179M2325 690h179M2325 696h179M2325 728h179M2325 732h179M2325 736h179M2325 744h179M2325 750h179M2325 756h179M2325 760h179M2504 146h180M2504 150h180M2504 154h180M2504 202h180M2504 222h180M2504 226h180M2504 246h180M2504 284h180M2504 308h180M2504 318h180M2504 320h180M2504 360h180M2504 420h180M2504 432h180M2504 470h180M2504 488h180M2504 490h180M2504 496h180M2504 502h180M2504 506h180M2504 510h180M2504 514h180M2504 530h180M2504 532h180M2504 548h180M2504 554h180M2504 556h180M2504 654h180"/>
<path stroke="#f4dee0" stroke-width="2" d="M1607 994h179M1607 996h179M1607 1008h179M1607 1010h179M1607 1012h179M1607 1014h179M1607 1016h179M1607 1018h179M1607 1020h179M1607 1022h179M1607 1052h179M1607 1112h179M1786 858h180M1786 898h180M1786 900h180M1966 1154h180M1966 1190h180M1966 1204h180M1966 1212h180M2146 566h179M2146 568h179M2146 578h179M2146 668h179M2325 50h179M2325 58h179M2325 60h179M2325 92h179M2325 128h179M2325 204h179M2325 208h179M2325 212h179M2325 216h179M2325 224h179M2325 264h179M2325 276h179M2325 286h179M2325 290h179M2325 300h179M2325 308h179M2325 324h179M2325 336h179M2325 378h179M2325 380h179M2325 388h179M2325 394h179M2325 480h179M2325 486h179M2325 488h179M2504 50h180M2504 54h180"/>
<path stroke="#f9eff0" stroke-width="2" d="M1607 998h179M1607 1002h179M1607 1076h179M1607 1078h179M1607 1082h179M1607 1084h179M1607 1088h179M1607 1094h179M1607 1104h179M1607 1106h179M1607 1114h179M1607 1116h179M1607 1118h179M1786 840h180M1786 844h180M1786 850h180M1786 896h180M1966 820h180M1966 822h180M1966 830h180M1966 838h180M1966 908h180M1966 912h180M1966 924h180M1966 926h180M1966 932h180M1966 936h180M1966 940h180M1966 942h180M1966 944h180M1966 946h180M1966 950h180M1966 954h180M1966 1132h180M1966 1134h180M1966 1136h180M1966 1142h180M2146 670h179M2325 64h179M2325 68h179M2325 80h179M2325 84h179M2325 88h179M2325 96h179M2325 100h179M2325 110h179M2325 164h179M2325 170h179M2325 174h179M2325 176h179M2325 178h179M2325 184h179M2325 198h179M2325 200h179M2325 218h179M2325 222h179M2325 232h179M2325 234h179M2325 238h179M2325 242h179M2325 262h179M2325 266h179M2325 274h179M2325 278h179M2325 338h179M2325 490h179M2325 580h179M2325 584h179M2325 586h179M2325 588h179M2325 598h179M2325 606h179M2325 608h179M2325 614h179M2325 646h179M2325 650h179M2325 670h179M2325 672h179M2325 676h179M2504 58h180M2504 566h180M2504 568h180"/>
<path stroke="#f6e6e8" stroke-width="2" d="M1607 1000h179M1607 1004h179M1607 1090h179M1786 890h180M1786 894h180M1966 818h180M1966 828h180M1966 906h180M1966 914h180M1966 916h180M1966 918h180M1966 922h180M1966 1140h180M2146 576h179M2146 666h179M2325 90h179M2325 124h179M2325 126h179M2325 166h179M2325 168h179M2325 202h179M2325 206h179M2325 210h179M2325 228h179M2325 230h179M2325 236h179M2325 240h179M2325 244h179M2325 254h179M2325 268h179M2325 282h179M2325 294h179M2325 368h179M2325 484h179M2325 492h179M2325 494h179M2325 496h179M2325 582h179M2325 600h179M2325 630h179M2325 632h179M2325 666h179M2504 56h180M2504 60h180"/>
<path stroke="#f1d6d9" stroke-width="2" d="M1607 1046h179M1607 1072h179M1786 854h180M1786 870h180M1786 1002h180M1966 896h180M1966 1152h180M1966 1178h180M1966 1188h180M1966 1198h180M1966 1200h180M1966 1202h180M1966 1208h180M2146 570h179M2146 572h179M2146 658h179M2146 664h179M2146 672h179M2146 674h179M2146 740h179M2325 62h179M2325 118h179M2325 120h179M2325 122h179M2325 130h179M2325 136h179M2325 138h179M2325 140h179M2325 144h179M2325 146h179M2325 148h179M2325 214h179M2325 226h179M2325 246h179M2325 250h179M2325 252h179M2325 256h179M2325 258h179M2325 288h179M2325 304h179M2325 310h179M2325 314h179M2325 316h179M2325 320h179M2325 326h179M2325 356h179M2325 366h179M2325 372h179M2325 376h179M2325 386h179M2325 390h179M2325 412h179M2325 416h179M2325 420h179M2325 434h179M2325 436h179M2325 438h179M2325 442h179M2325 478h179M2325 482h179M2504 48h180M2504 62h180M2504 118h180M2504 442h180M2504 446h180"/>
<path stroke="#f7fafc" stroke-width="2" d="M1607 1110h179M1966 848h180M1966 852h180M1966 860h180M1966 862h180M1966 864h180M1966 868h180M1966 870h180M1966 874h180M1966 878h180M1966 880h180M1966 886h180M1966 888h180M1966 890h180M1966 894h180M1966 956h180M1966 1128h180M2146 678h179M2325 186h179M2325 188h179M2325 342h179M2325 592h179M2325 602h179M2325 616h179M2325 634h179M2325 654h179M2325 658h179M2325 664h179M2325 668h179M2325 824h179M2325 834h179M2325 1012h179M2325 1016h179M2325 1022h179M2325 1026h179"/>
<path stroke="#d78c94" stroke-width="2" d="M1607 1130h179M1607 1144h179M1607 1146h179M1607 1150h179M1607 1160h179M1607 1164h179M1607 1182h179M1607 1186h179M1786 834h180M1786 1076h180M1786 1078h180M1786 1086h180M1786 1096h180M1786 1100h180M1786 1106h180M1786 1118h180M1786 1152h180M1786 1156h180M1786 1180h180M1786 1192h180M1786 1210h180M1786 1214h180M1966 1028h180M1966 1042h180M1966 1046h180M1966 1048h180M1966 1062h180M1966 1068h180M1966 1092h180M1966 1120h180M2146 118h179M2146 218h179M2146 244h179M2146 252h179M2146 256h179M2146 278h179M2146 284h179M2146 286h179M2146 308h179M2146 360h179M2146 366h179M2146 388h179M2146 394h179M2146 432h179M2146 438h179M2146 446h179M2146 448h179M2146 580h179M2146 594h179M2146 598h179M2146 604h179M2146 608h179M2146 612h179M2146 624h179M2146 628h179M2325 534h179M2325 682h179M2325 694h179M2325 730h179M2504 94h180M2504 106h180M2504 108h180M2504 200h180M2504 228h180M2504 230h180M2504 234h180M2504 252h180M2504 260h180M2504 270h180M2504 274h180M2504 276h180M2504 278h180M2504 294h180M2504 316h180M2504 334h180M2504 336h180M2504 338h180M2504 390h180M2504 404h180M2504 414h180M2504 428h180M2504 522h180"/>
<path stroke="#da959b" stroke-width="2" d="M1607 1136h179M1607 1142h179M1607 1158h179M1607 1168h179M1607 1198h179M1786 878h180M1786 1072h180M1786 1080h180M1786 1088h180M1786 1092h180M1786 1094h180M1786 1098h180M1786 1102h180M1786 1104h180M1786 1108h180M1786 1114h180M1786 1116h180M1786 1122h180M1786 1176h180M1786 1200h180M1966 1060h180M1966 1066h180M1966 1072h180M2146 214h179M2146 232h179M2146 236h179M2146 238h179M2146 276h179M2146 356h179M2146 358h179M2146 382h179M2146 384h179M2146 396h179M2146 400h179M2146 418h179M2146 452h179M2146 456h179M2146 548h179M2146 564h179M2146 586h179M2146 588h179M2146 590h179M2146 592h179M2146 616h179M2146 618h179M2146 626h179M2325 506h179M2325 518h179M2325 542h179M2325 680h179M2325 738h179M2325 746h179M2325 754h179M2325 758h179M2504 86h180M2504 98h180M2504 112h180M2504 164h180M2504 174h180M2504 212h180M2504 216h180M2504 218h180M2504 220h180M2504 244h180M2504 254h180M2504 258h180M2504 262h180M2504 264h180M2504 286h180M2504 302h180M2504 312h180M2504 322h180M2504 326h180M2504 342h180M2504 350h180M2504 430h180M2504 476h180M2504 512h180M2504 524h180M2504 528h180M2504 544h180M2504 552h180M2504 558h180M2504 564h180"/>
<path stroke="#d4848c" stroke-width="1" d="M1607 1217.5h179"/>
<path stroke="#7aa2c9" stroke-width="2" d="M1786 204h180M1966 78h180M1966 122h180M1966 128h180M1966 130h180M1966 176h180M1966 182h180M1966 204h180M1966 212h180M1966 216h180M1966 218h180M1966 230h180M1966 234h180M1966 236h180M1966 238h180M1966 240h180M1966 252h180M1966 254h180M1966 256h180M1966 258h180M1966 260h180M1966 282h180M1966 286h180M1966 288h180M1966 290h180M1966 412h180M1966 416h180M1966 422h180M1966 440h180M1966 442h180M1966 462h180M1966 464h180M1966 466h180M1966 468h180M1966 564h180M1966 586h180M1966 588h180M1966 598h180M1966 600h180M1966 758h180M1966 760h180M1966 764h180M1966 772h180M1966 782h180M1966 788h180M1966 792h180M1966 798h180M1966 802h180M1966 814h180M2146 1020h179M2146 1078h179M2504 902h180M2504 904h180M2504 922h180M2504 1018h180M2504 1036h180M2504 1038h180M2504 1044h180M2504 1046h180M2504 1052h180M2504 1058h180M2504 1066h180M2504 1074h180M2504 1076h180M2504 1078h180M2504 1082h180M2504 1096h180M2504 1112h180M2504 1114h180M2504 1134h180M2504 1136h180M2504 1138h180M2504 1164h180"/>
<path stroke="#e5b5ba" stroke-width="1" d="M1786 1217.5h180"/>
<path stroke="#729cc6" stroke-width="2" d="M1966 124h180M1966 178h180M1966 180h180M1966 208h180M1966 224h180M1966 242h180M1966 248h180M1966 250h180M1966 420h180M1966 428h180M1966 448h180M1966 450h180M1966 452h180M1966 454h180M1966 456h180M1966 770h180M1966 776h180M1966 778h180M1966 790h180M1966 804h180M1966 810h180M1966 812h180M2146 1092h179M2504 996h180M2504 1016h180M2504 1020h180M2504 1030h180M2504 1050h180M2504 1054h180M2504 1056h180M2504 1062h180M2504 1064h180M2504 1086h180M2504 1090h180M2504 1102h180M2504 1124h180M2504 1128h180M2504 1130h180M2504 1132h180M2504 1160h180"/>
<path stroke="#6a97c3" stroke-width="2" d="M1966 206h180M1966 232h180M1966 244h180M1966 418h180M1966 426h180M1966 436h180M1966 438h180M1966 444h180M1966 458h180M1966 592h180M1966 784h180M1966 794h180M1966 800h180M1966 806h180M1966 816h180M2504 1072h180M2504 1110h180M2504 1116h180M2504 1118h180"/>
<path stroke="#6391c0" stroke-width="2" d="M1966 222h180M1966 284h180M1966 424h180M1966 432h180M1966 434h180M1966 446h180M1966 774h180M1966 808h180M2504 1028h180M2504 1060h180M2504 1120h180"/>
<path stroke="#bd434f" stroke-width="2" d="M1966 958h180M2146 50h179M2146 156h179M2146 164h179M2146 190h179M2504 644h180M2504 682h180M2504 684h180M2504 732h180M2504 742h180M2504 764h180"/>
<path stroke="#eeced1" stroke-width="1" d="M1966 1217.5h180"/>
<path stroke="#e0e9f2" stroke-width="1" d="M2146 1217.5h179"/>
<path stroke="#b1c8df" stroke-width="1" d="M2325 1217.5h179"/>
<path stroke="#5386b9" stroke-width="2" d="M2504 1080h180"/>
<path stroke="#5b8cbd" stroke-width="2" d="M2504 1108h180"/>
<path stroke="#729cc6" stroke-width="1" d="M2504 1217.5h180"/>
</g>
<g shape-rendering="crispEdges" fill="none">
<path stroke="#99b8d6" stroke-width="2" d="M3053 22h182M3053 64h182M3053 68h182M3053 74h182M3053 82h182M3053 84h182M3053 122h182M3053 136h182M3053 142h182M3053 150h182M3053 152h182M3053 170h182M3053 174h182M3053 182h182M3053 186h182M3053 198h182M3053 202h182M3053 206h182M3053 214h182M3053 218h182M3053 238h182M3053 242h182M3053 256h182M3053 278h182M3053 282h182M3053 290h182M3053 292h182M3053 304h182M3053 332h182M3053 340h182M3053 342h182M3053 344h182M3053 346h182M3053 348h182M3053 352h182M3053 364h182M3053 384h182M3053 388h182M3053 396h182M3053 456h182M3053 460h182M3053 462h182M3053 466h182M3053 484h182M3053 488h182M3053 498h182M3053 510h182M3053 532h182M3053 534h182M3053 536h182M3053 544h182M3053 632h182M3053 636h182M3053 640h182M3235 174h182M3235 186h182M3235 226h182M3235 228h182M3235 232h182M3235 278h182M3235 282h182M3235 346h182M3235 348h182M3235 384h182M3235 388h182M3235 396h182M3235 404h182M3235 426h182M3235 460h182M3235 526h182M3235 610h182M3235 726h182M3417 34h181M3417 40h181M3417 42h181M3417 44h181M3417 48h181M3417 56h181M3417 70h181M3417 76h181M3417 80h181M3417 82h181M3417 84h181M3417 88h181M3417 98h181M3417 100h181M3417 102h181M3417 106h181M3417 116h181M3417 122h181M3417 124h181M3417 140h181M3417 142h181M3417 146h181M3417 148h181M3417 150h181M3417 152h181M3417 154h181M3417 158h181M3417 162h181M3417 178h181M3417 214h181M3417 216h181M3417 220h181M3417 222h181M3417 226h181M3417 242h181M3417 276h181M3417 350h181M3417 360h181M3417 362h181M3417 364h181M3417 394h181M3417 396h181M3417 408h181M3417 436h181M3417 438h181M3417 444h181M3417 446h181M3417 452h181M3417 456h181M3417 460h181M3417 488h181M3417 506h181M3417 522h181M3417 548h181M3417 606h181M3417 608h181M3417 612h181M3598 826h182M3598 906h182M3598 938h182M3598 940h182M3598 954h182M3598 966h182M3598 968h182M3598 976h182M3598 978h182M3598 980h182M3598 1026h182M3598 1036h182M3598 1040h182M3598 1042h182M3598 1044h182M3598 1056h182M3598 1076h182M3598 1082h182M3598 1090h182M3598 1100h182M3598 1110h182M3598 1168h182M3598 1174h182M3598 1182h182M3598 1186h182M3598 1190h182M3780 1006h182M3780 1022h182M3780 1028h182M3780 1032h182M3780 1044h182M3780 1052h182M3780 1064h182M3780 1074h182M3780 1078h182M3780 1122h182M3780 1134h182M3780 1140h182M3780 1166h182M3780 1174h182M3780 1184h182M3780 1186h182M3962 870h182M3962 872h182M3962 876h182M3962 908h182M3962 910h182M3962 920h182M3962 928h182M3962 998h182M3962 1002h182M3962 1004h182M3962 1024h182M3962 1026h182M3962 1054h182M3962 1110h182M3962 1116h182M3962 1118h182M3962 1128h182M3962 1160h182M3962 1166h182M3962 1174h182M3962 1182h182M3962 1188h182"/>
<path stroke="#a9c3dc" stroke-width="2" d="M3053 24h182M3053 26h182M3053 30h182M3053 46h182M3053 50h182M3053 108h182M3053 134h182M3053 146h182M3053 168h182M3053 172h182M3053 178h182M3053 180h182M3053 194h182M3053 200h182M3053 204h182M3053 232h182M3053 244h182M3053 258h182M3053 260h182M3053 264h182M3053 266h182M3053 294h182M3053 296h182M3053 306h182M3053 318h182M3053 320h182M3053 328h182M3053 334h182M3053 386h182M3053 390h182M3053 392h182M3053 410h182M3053 412h182M3053 432h182M3053 434h182M3053 436h182M3053 438h182M3053 450h182M3053 468h182M3053 502h182M3053 508h182M3053 516h182M3053 518h182M3053 552h182M3053 560h182M3053 564h182M3053 606h182M3053 610h182M3053 612h182M3053 616h182M3053 620h182M3053 628h182M3053 634h182M3053 648h182M3053 722h182M3053 744h182M3053 748h182M3053 780h182M3053 790h182M3053 794h182M3053 798h182M3053 806h182M3235 28h182M3235 42h182M3235 70h182M3235 76h182M3235 80h182M3235 108h182M3235 114h182M3235 116h182M3235 118h182M3235 134h182M3235 138h182M3235 142h182M3235 146h182M3235 168h182M3235 182h182M3235 198h182M3235 200h182M3235 206h182M3235 212h182M3235 214h182M3235 216h182M3235 222h182M3235 230h182M3235 234h182M3235 242h182M3235 244h182M3235 266h182M3235 268h182M3235 276h182M3235 284h182M3235 304h182M3235 324h182M3235 328h182M3235 330h182M3235 334h182M3235 336h182M3235 350h182M3235 356h182M3235 358h182M3235 370h182M3235 372h182M3235 374h182M3235 378h182M3235 402h182M3235 408h182M3235 412h182M3235 414h182M3235 416h182M3235 438h182M3235 454h182M3235 456h182M3235 466h182M3235 468h182M3235 480h182M3235 484h182M3235 500h182M3235 506h182M3235 512h182M3235 514h182M3235 516h182M3235 532h182M3235 568h182M3235 606h182M3235 614h182M3235 616h182M3235 636h182M3235 642h182M3235 646h182M3235 654h182M3235 694h182M3235 696h182M3235 700h182M3235 728h182M3235 730h182M3235 732h182M3235 734h182M3235 736h182M3235 740h182M3417 24h181M3417 38h181M3417 50h181M3417 54h181M3417 62h181M3417 64h181M3417 78h181M3417 96h181M3417 104h181M3417 108h181M3417 114h181M3417 118h181M3417 128h181M3417 138h181M3417 144h181M3417 156h181M3417 160h181M3417 164h181M3417 170h181M3417 172h181M3417 176h181M3417 180h181M3417 188h181M3417 192h181M3417 196h181M3417 204h181M3417 206h181M3417 234h181M3417 236h181M3417 238h181M3417 240h181M3417 246h181M3417 268h181M3417 300h181M3417 340h181M3417 348h181M3417 352h181M3417 354h181M3417 372h181M3417 378h181M3417 380h181M3417 386h181M3417 392h181M3417 402h181M3417 410h181M3417 416h181M3417 424h181M3417 432h181M3417 470h181M3417 474h181M3417 476h181M3417 484h181M3417 502h181M3417 508h181M3417 516h181M3417 518h181M3417 532h181M3417 534h181M3417 536h181M3417 538h181M3417 616h181M3417 648h181M3417 668h181M3417 672h181M3417 674h181M3417 676h181M3417 678h181M3417 706h181M3417 722h181M3417 772h181M3417 786h181M3417 790h181M3598 860h182M3598 898h182M3598 900h182M3598 912h182M3598 914h182M3598 970h182M3598 974h182M3598 996h182M3598 1020h182M3598 1046h182M3598 1058h182M3598 1164h182M3598 1172h182M3598 1184h182M3780 814h182M3780 816h182M3780 896h182M3780 978h182M3780 1138h182M3780 1158h182M3780 1170h182M3780 1172h182M3780 1176h182M3962 914h182M3962 932h182M3962 944h182M3962 948h182M3962 1000h182M3962 1030h182M3962 1100h182M3962 1122h182M3962 1124h182M3962 1126h182M3962 1172h182M3962 1190h182"/>
<path stroke="#a1bdd9" stroke-width="2" d="M3053 28h182M3053 32h182M3053 34h182M3053 38h182M3053 40h182M3053 44h182M3053 48h182M3053 52h182M3053 60h182M3053 80h182M3053 100h182M3053 106h182M3053 110h182M3053 124h182M3053 130h182M3053 138h182M3053 140h182M3053 148h182M3053 154h182M3053 176h182M3053 190h182M3053 192h182M3053 196h182M3053 210h182M3053 216h182M3053 220h182M3053 222h182M3053 224h182M3053 226h182M3053 236h182M3053 240h182M3053 248h182M3053 254h182M3053 262h182M3053 268h182M3053 276h182M3053 284h182M3053 288h182M3053 302h182M3053 308h182M3053 310h182M3053 314h182M3053 316h182M3053 322h182M3053 324h182M3053 330h182M3053 336h182M3053 338h182M3053 354h182M3053 358h182M3053 362h182M3053 370h182M3053 372h182M3053 378h182M3053 380h182M3053 402h182M3053 404h182M3053 406h182M3053 408h182M3053 414h182M3053 418h182M3053 420h182M3053 422h182M3053 426h182M3053 430h182M3053 446h182M3053 454h182M3053 458h182M3053 464h182M3053 470h182M3053 474h182M3053 478h182M3053 512h182M3053 514h182M3053 526h182M3053 530h182M3053 542h182M3053 568h182M3053 618h182M3053 642h182M3053 644h182M3053 650h182M3235 66h182M3235 124h182M3235 136h182M3235 180h182M3235 184h182M3235 188h182M3235 190h182M3235 192h182M3235 194h182M3235 196h182M3235 202h182M3235 210h182M3235 218h182M3235 236h182M3235 238h182M3235 310h182M3235 326h182M3235 338h182M3235 340h182M3235 342h182M3235 344h182M3235 362h182M3235 386h182M3235 392h182M3235 394h182M3235 406h182M3235 410h182M3235 446h182M3235 462h182M3235 464h182M3235 470h182M3235 488h182M3235 530h182M3235 542h182M3235 608h182M3235 620h182M3235 622h182M3235 624h182M3235 634h182M3235 638h182M3235 738h182M3417 36h181M3417 52h181M3417 58h181M3417 68h181M3417 74h181M3417 90h181M3417 112h181M3417 126h181M3417 130h181M3417 132h181M3417 136h181M3417 174h181M3417 184h181M3417 190h181M3417 200h181M3417 208h181M3417 210h181M3417 224h181M3417 228h181M3417 230h181M3417 232h181M3417 244h181M3417 278h181M3417 308h181M3417 310h181M3417 312h181M3417 316h181M3417 318h181M3417 332h181M3417 334h181M3417 338h181M3417 342h181M3417 368h181M3417 374h181M3417 382h181M3417 384h181M3417 406h181M3417 412h181M3417 414h181M3417 420h181M3417 430h181M3417 440h181M3417 442h181M3417 450h181M3417 458h181M3417 462h181M3417 464h181M3417 480h181M3417 482h181M3417 494h181M3417 500h181M3417 504h181M3417 510h181M3417 526h181M3417 542h181M3417 544h181M3417 614h181M3417 664h181M3417 718h181M3417 736h181M3417 766h181M3417 778h181M3598 892h182M3598 910h182M3598 946h182M3598 982h182M3598 998h182M3598 1014h182M3598 1032h182M3598 1034h182M3598 1052h182M3598 1064h182M3598 1074h182M3598 1078h182M3598 1088h182M3598 1098h182M3598 1104h182M3598 1108h182M3598 1112h182M3598 1116h182M3598 1170h182M3598 1176h182M3598 1178h182M3780 812h182M3780 902h182M3780 1000h182M3780 1002h182M3780 1008h182M3780 1016h182M3780 1042h182M3780 1048h182M3780 1084h182M3780 1160h182M3780 1164h182M3780 1182h182M3780 1188h182M3962 880h182M3962 882h182M3962 886h182M3962 890h182M3962 916h182M3962 922h182M3962 942h182M3962 946h182M3962 956h182M3962 958h182M3962 992h182M3962 1006h182M3962 1008h182M3962 1016h182M3962 1018h182M3962 1020h182M3962 1032h182M3962 1038h182M3962 1094h182M3962 1108h182M3962 1114h182M3962 1130h182M3962 1164h182M3962 1170h182M3962 1184h182"/>
<path stroke="#92b2d3" stroke-width="2" d="M3053 36h182M3053 42h182M3053 58h182M3053 70h182M3053 102h182M3053 116h182M3053 120h182M3053 128h182M3053 184h182M3053 298h182M3053 300h182M3053 312h182M3053 326h182M3053 350h182M3053 374h182M3053 398h182M3053 444h182M3053 472h182M3053 476h182M3053 480h182M3053 482h182M3053 490h182M3053 492h182M3053 494h182M3053 546h182M3053 548h182M3053 638h182M3235 398h182M3417 22h181M3417 26h181M3417 28h181M3417 32h181M3417 60h181M3417 72h181M3417 94h181M3417 202h181M3417 218h181M3417 418h181M3417 448h181M3417 468h181M3598 896h182M3598 952h182M3598 956h182M3598 964h182M3598 1030h182M3598 1038h182M3598 1048h182M3598 1050h182M3598 1080h182M3598 1094h182M3598 1102h182M3598 1106h182M3598 1118h182M3598 1162h182M3780 854h182M3780 936h182M3780 1004h182M3780 1010h182M3780 1018h182M3780 1026h182M3780 1034h182M3780 1040h182M3780 1068h182M3780 1070h182M3780 1128h182M3780 1130h182M3780 1144h182M3780 1146h182M3780 1150h182M3780 1156h182M3780 1168h182M3780 1178h182M3780 1180h182M3962 878h182M3962 892h182M3962 898h182M3962 912h182M3962 990h182M3962 994h182M3962 1040h182M3962 1046h182M3962 1048h182M3962 1052h182M3962 1106h182"/>
<path stroke="#b9cee3" stroke-width="2" d="M3053 54h182M3053 88h182M3053 98h182M3053 132h182M3053 230h182M3053 252h182M3053 272h182M3053 368h182M3053 440h182M3053 520h182M3053 540h182M3053 554h182M3053 556h182M3053 558h182M3053 570h182M3053 576h182M3053 578h182M3053 582h182M3053 590h182M3053 592h182M3053 598h182M3053 602h182M3053 614h182M3053 626h182M3053 654h182M3053 690h182M3053 698h182M3053 700h182M3053 704h182M3053 724h182M3053 726h182M3053 728h182M3053 732h182M3053 740h182M3053 752h182M3053 754h182M3053 756h182M3053 764h182M3053 766h182M3053 770h182M3053 784h182M3053 786h182M3053 792h182M3053 808h182M3053 810h182M3235 30h182M3235 38h182M3235 52h182M3235 78h182M3235 94h182M3235 96h182M3235 102h182M3235 120h182M3235 140h182M3235 162h182M3235 204h182M3235 220h182M3235 246h182M3235 248h182M3235 252h182M3235 264h182M3235 270h182M3235 272h182M3235 274h182M3235 280h182M3235 286h182M3235 292h182M3235 294h182M3235 298h182M3235 302h182M3235 312h182M3235 314h182M3235 318h182M3235 320h182M3235 322h182M3235 380h182M3235 418h182M3235 428h182M3235 432h182M3235 434h182M3235 440h182M3235 442h182M3235 458h182M3235 472h182M3235 474h182M3235 476h182M3235 486h182M3235 502h182M3235 504h182M3235 508h182M3235 520h182M3235 524h182M3235 536h182M3235 546h182M3235 556h182M3235 564h182M3235 566h182M3235 570h182M3235 576h182M3235 578h182M3235 592h182M3235 600h182M3235 618h182M3235 630h182M3235 632h182M3235 658h182M3235 664h182M3235 682h182M3235 684h182M3235 688h182M3235 704h182M3235 708h182M3235 724h182M3235 744h182M3235 750h182M3235 754h182M3235 758h182M3235 764h182M3235 766h182M3235 770h182M3235 772h182M3235 776h182M3235 780h182M3235 786h182M3235 790h182M3235 796h182M3235 802h182M3417 168h181M3417 182h181M3417 186h181M3417 250h181M3417 256h181M3417 270h181M3417 284h181M3417 286h181M3417 290h181M3417 322h181M3417 356h181M3417 358h181M3417 390h181M3417 478h181M3417 524h181M3417 528h181M3417 530h181M3417 552h181M3417 574h181M3417 622h181M3417 632h181M3417 650h181M3417 654h181M3417 656h181M3417 660h181M3417 680h181M3417 698h181M3417 704h181M3417 716h181M3417 726h181M3417 730h181M3417 732h181M3417 744h181M3417 762h181M3417 764h181M3417 770h181M3417 784h181M3417 792h181M3417 794h181M3417 796h181M3417 798h181M3417 800h181M3417 804h181M3417 808h181M3417 810h181M3598 778h182M3598 894h182M3598 1022h182M3598 1024h182M3598 1160h182M3780 892h182M3780 904h182M3780 906h182M3780 914h182M3780 916h182M3780 918h182M3962 930h182M3962 936h182M3962 962h182M3962 964h182M3962 1022h182M3962 1028h182M3962 1062h182M3962 1104h182M3962 1112h182"/>
<path stroke="#8aadd0" stroke-width="2" d="M3053 56h182M3053 72h182M3053 112h182M3053 118h182M3053 126h182M3053 366h182M3053 394h182M3053 486h182M3053 500h182M3053 538h182M3053 646h182M3235 648h182M3417 30h181M3417 66h181M3417 120h181M3417 304h181M3417 426h181M3417 514h181M3417 610h181M3598 838h182M3598 890h182M3598 942h182M3598 944h182M3598 962h182M3598 986h182M3598 994h182M3598 1062h182M3598 1066h182M3598 1068h182M3598 1084h182M3598 1096h182M3598 1114h182M3598 1166h182M3780 822h182M3780 826h182M3780 836h182M3780 862h182M3780 952h182M3780 954h182M3780 966h182M3780 980h182M3780 1014h182M3780 1020h182M3780 1030h182M3780 1036h182M3780 1046h182M3780 1060h182M3780 1072h182M3780 1076h182M3780 1080h182M3780 1088h182M3780 1108h182M3780 1112h182M3780 1120h182M3780 1126h182M3780 1136h182M3780 1142h182M3780 1148h182M3780 1152h182M3780 1154h182M3962 900h182M3962 904h182M3962 906h182M3962 926h182M3962 996h182M3962 1012h182M3962 1044h182M3962 1134h182M3962 1152h182M3962 1158h182M3962 1168h182M3962 1176h182M3962 1178h182"/>
<path stroke="#82a7cc" stroke-width="2" d="M3053 62h182M3417 46h181M3598 820h182M3598 852h182M3598 872h182M3598 880h182M3598 948h182M3598 950h182M3598 958h182M3598 984h182M3598 988h182M3598 990h182M3598 1070h182M3598 1072h182M3598 1188h182M3780 818h182M3780 846h182M3780 852h182M3780 858h182M3780 860h182M3780 864h182M3780 866h182M3780 962h182M3780 964h182M3780 972h182M3780 982h182M3780 988h182M3780 990h182M3780 996h182M3780 998h182M3780 1012h182M3780 1038h182M3780 1054h182M3780 1056h182M3780 1082h182M3780 1104h182M3780 1106h182M3780 1114h182M3780 1118h182M3780 1124h182M3780 1132h182M3962 874h182M3962 896h182M3962 918h182M3962 924h182M3962 1042h182M3962 1140h182M3962 1156h182M3962 1162h182M3962 1180h182"/>
<path stroke="#7aa2c9" stroke-width="2" d="M3053 66h182M3598 840h182M3598 842h182M3598 874h182M3598 882h182M3598 992h182M3780 840h182M3780 842h182M3780 844h182M3780 848h182M3780 850h182M3780 856h182M3780 922h182M3780 924h182M3780 928h182M3780 932h182M3780 968h182M3780 970h182M3780 984h182M3780 986h182M3780 992h182M3780 1024h182M3780 1050h182M3780 1058h182M3780 1062h182M3780 1066h182M3780 1090h182M3780 1092h182M3780 1094h182M3780 1098h182M3780 1100h182M3780 1102h182M3962 1050h182M3962 1142h182M3962 1144h182M3962 1186h182"/>
<path stroke="#b1c8df" stroke-width="2" d="M3053 76h182M3053 78h182M3053 86h182M3053 104h182M3053 144h182M3053 188h182M3053 208h182M3053 212h182M3053 228h182M3053 234h182M3053 246h182M3053 250h182M3053 270h182M3053 274h182M3053 280h182M3053 286h182M3053 356h182M3053 360h182M3053 376h182M3053 382h182M3053 400h182M3053 416h182M3053 424h182M3053 428h182M3053 442h182M3053 448h182M3053 452h182M3053 496h182M3053 504h182M3053 522h182M3053 566h182M3053 572h182M3053 574h182M3053 588h182M3053 600h182M3053 608h182M3053 622h182M3053 630h182M3053 658h182M3053 670h182M3053 702h182M3053 706h182M3053 708h182M3053 710h182M3053 712h182M3053 714h182M3053 718h182M3053 720h182M3053 736h182M3053 758h182M3053 772h182M3053 782h182M3053 788h182M3053 802h182M3235 26h182M3235 32h182M3235 34h182M3235 36h182M3235 40h182M3235 68h182M3235 72h182M3235 74h182M3235 86h182M3235 100h182M3235 106h182M3235 110h182M3235 112h182M3235 122h182M3235 130h182M3235 132h182M3235 144h182M3235 148h182M3235 150h182M3235 170h182M3235 172h182M3235 176h182M3235 178h182M3235 208h182M3235 224h182M3235 240h182M3235 250h182M3235 254h182M3235 256h182M3235 288h182M3235 316h182M3235 332h182M3235 352h182M3235 354h182M3235 360h182M3235 364h182M3235 366h182M3235 376h182M3235 382h182M3235 390h182M3235 400h182M3235 420h182M3235 430h182M3235 436h182M3235 444h182M3235 448h182M3235 452h182M3235 482h182M3235 492h182M3235 494h182M3235 510h182M3235 518h182M3235 522h182M3235 528h182M3235 534h182M3235 538h182M3235 540h182M3235 544h182M3235 548h182M3235 560h182M3235 572h182M3235 574h182M3235 582h182M3235 588h182M3235 590h182M3235 594h182M3235 596h182M3235 612h182M3235 626h182M3235 628h182M3235 640h182M3235 644h182M3235 650h182M3235 652h182M3235 668h182M3235 706h182M3235 710h182M3235 712h182M3235 716h182M3235 718h182M3235 720h182M3235 742h182M3235 748h182M3235 752h182M3235 768h182M3235 774h182M3235 778h182M3235 782h182M3235 798h182M3235 800h182M3235 804h182M3417 86h181M3417 92h181M3417 110h181M3417 134h181M3417 194h181M3417 198h181M3417 212h181M3417 266h181M3417 280h181M3417 282h181M3417 298h181M3417 302h181M3417 306h181M3417 314h181M3417 320h181M3417 324h181M3417 326h181M3417 328h181M3417 330h181M3417 336h181M3417 344h181M3417 366h181M3417 370h181M3417 388h181M3417 398h181M3417 400h181M3417 422h181M3417 428h181M3417 434h181M3417 454h181M3417 466h181M3417 472h181M3417 486h181M3417 492h181M3417 496h181M3417 498h181M3417 512h181M3417 520h181M3417 540h181M3417 546h181M3417 620h181M3417 630h181M3417 638h181M3417 646h181M3417 658h181M3417 662h181M3417 666h181M3417 670h181M3417 682h181M3417 686h181M3417 688h181M3417 696h181M3417 700h181M3417 708h181M3417 710h181M3417 712h181M3417 720h181M3417 728h181M3417 738h181M3417 748h181M3417 752h181M3417 756h181M3417 760h181M3417 774h181M3417 776h181M3417 780h181M3417 788h181M3598 902h182M3598 904h182M3598 908h182M3598 920h182M3598 1018h182M3598 1086h182M3598 1092h182M3598 1120h182M3780 898h182M3780 900h182M3780 920h182M3780 1162h182M3780 1190h182M3962 884h182M3962 894h182M3962 940h182M3962 950h182M3962 1014h182M3962 1036h182M3962 1096h182M3962 1102h182"/>
<path stroke="#c8d9e9" stroke-width="2" d="M3053 90h182M3053 92h182M3053 94h182M3053 96h182M3053 158h182M3053 506h182M3053 524h182M3053 528h182M3053 580h182M3053 586h182M3053 660h182M3053 662h182M3053 668h182M3053 680h182M3053 682h182M3053 688h182M3053 692h182M3053 750h182M3053 762h182M3053 768h182M3053 776h182M3235 44h182M3235 46h182M3235 50h182M3235 56h182M3235 84h182M3235 88h182M3235 92h182M3235 154h182M3235 160h182M3235 262h182M3235 306h182M3235 308h182M3235 496h182M3235 562h182M3235 598h182M3235 602h182M3235 660h182M3235 662h182M3235 672h182M3235 674h182M3235 714h182M3235 784h182M3235 806h182M3417 254h181M3417 404h181M3417 490h181M3417 558h181M3417 562h181M3417 572h181M3417 576h181M3417 586h181M3417 592h181M3417 594h181M3417 598h181M3417 618h181M3417 624h181M3417 628h181M3417 640h181M3417 690h181M3417 692h181M3417 724h181M3417 742h181M3417 782h181M3598 666h182M3598 790h182M3598 798h182M3598 1002h182M3780 874h182M3962 888h182M3962 934h182M3962 952h182M3962 1076h182M3962 1078h182M3962 1080h182"/>
<path stroke="#c0d3e6" stroke-width="2" d="M3053 114h182M3053 562h182M3053 584h182M3053 596h182M3053 604h182M3053 652h182M3053 656h182M3053 666h182M3053 672h182M3053 674h182M3053 678h182M3053 684h182M3053 686h182M3053 694h182M3053 696h182M3053 716h182M3053 730h182M3053 734h182M3053 738h182M3053 742h182M3053 746h182M3053 778h182M3053 796h182M3053 800h182M3053 804h182M3235 22h182M3235 24h182M3235 54h182M3235 58h182M3235 60h182M3235 62h182M3235 64h182M3235 82h182M3235 98h182M3235 104h182M3235 128h182M3235 152h182M3235 158h182M3235 258h182M3235 290h182M3235 296h182M3235 300h182M3235 368h182M3235 422h182M3235 424h182M3235 450h182M3235 478h182M3235 490h182M3235 498h182M3235 554h182M3235 558h182M3235 580h182M3235 584h182M3235 586h182M3235 604h182M3235 656h182M3235 666h182M3235 670h182M3235 676h182M3235 678h182M3235 686h182M3235 692h182M3235 698h182M3235 702h182M3235 722h182M3235 746h182M3235 756h182M3235 760h182M3235 762h182M3235 788h182M3235 792h182M3235 794h182M3235 808h182M3235 810h182M3417 248h181M3417 258h181M3417 262h181M3417 272h181M3417 292h181M3417 294h181M3417 296h181M3417 376h181M3417 554h181M3417 560h181M3417 564h181M3417 566h181M3417 568h181M3417 570h181M3417 578h181M3417 582h181M3417 588h181M3417 590h181M3417 596h181M3417 626h181M3417 634h181M3417 636h181M3417 642h181M3417 644h181M3417 652h181M3417 694h181M3417 702h181M3417 714h181M3417 734h181M3417 740h181M3417 746h181M3417 750h181M3417 754h181M3417 758h181M3417 768h181M3417 802h181M3417 806h181M3598 774h182M3598 788h182M3598 794h182M3598 918h182M3598 1000h182M3598 1010h182M3598 1016h182M3598 1028h182M3598 1054h182M3598 1060h182M3780 894h182M3780 908h182M3780 910h182M3780 912h182M3962 938h182M3962 954h182M3962 960h182M3962 1034h182M3962 1098h182M3962 1120h182"/>
<path stroke="#d8e4ef" stroke-width="2" d="M3053 156h182M3235 90h182M3417 288h181M3598 172h182M3598 184h182M3598 262h182M3598 264h182M3598 266h182M3598 282h182M3598 292h182M3598 312h182M3598 656h182M3598 672h182M3598 678h182M3598 686h182M3598 688h182M3598 692h182M3598 704h182M3598 706h182M3598 718h182M3598 782h182M3598 784h182M3598 802h182M3598 806h182M3598 814h182M3598 1006h182M3780 876h182M3780 878h182M3780 882h182M3780 884h182M3780 886h182M3780 888h182M3962 42h182M3962 978h182M3962 988h182M3962 1056h182M3962 1058h182M3962 1070h182M3962 1082h182M3962 1088h182M3962 1090h182M3962 1092h182"/>
<path stroke="#e0e9f2" stroke-width="2" d="M3053 160h182M3053 594h182M3053 624h182M3417 252h181M3417 274h181M3417 604h181M3598 168h182M3598 174h182M3598 218h182M3598 256h182M3598 268h182M3598 272h182M3598 280h182M3598 288h182M3598 298h182M3598 308h182M3598 600h182M3598 604h182M3598 610h182M3598 616h182M3598 648h182M3598 652h182M3598 654h182M3598 664h182M3598 668h182M3598 670h182M3598 674h182M3598 676h182M3598 682h182M3598 696h182M3598 720h182M3598 722h182M3598 726h182M3598 776h182M3598 810h182M3598 922h182M3598 1150h182M3780 880h182M3962 52h182M3962 966h182M3962 976h182M3962 980h182M3962 1074h182M3962 1086h182"/>
<path stroke="#d0deec" stroke-width="2" d="M3053 162h182M3053 164h182M3053 664h182M3053 676h182M3053 760h182M3053 774h182M3235 48h182M3235 126h182M3235 156h182M3235 164h182M3235 260h182M3235 552h182M3235 680h182M3235 690h182M3417 260h181M3417 264h181M3417 346h181M3417 556h181M3417 580h181M3417 584h181M3417 600h181M3417 602h181M3417 684h181M3598 252h182M3598 258h182M3598 278h182M3598 284h182M3598 286h182M3598 304h182M3598 650h182M3598 680h182M3598 716h182M3598 724h182M3598 772h182M3598 780h182M3598 786h182M3598 792h182M3598 796h182M3598 800h182M3598 808h182M3598 812h182M3598 816h182M3598 916h182M3598 1004h182M3598 1008h182M3598 1012h182M3780 870h182M3780 890h182M3962 812h182M3962 814h182M3962 816h182M3962 1060h182M3962 1064h182M3962 1066h182M3962 1068h182M3962 1072h182"/>
<path stroke="#f7fafc" stroke-width="2" d="M3053 166h182M3235 814h182M3235 1062h182M3235 1068h182M3235 1072h182M3598 162h182M3598 180h182M3598 182h182M3598 188h182M3598 202h182M3598 208h182M3598 224h182M3598 226h182M3598 228h182M3598 234h182M3598 242h182M3598 244h182M3598 250h182M3598 290h182M3598 294h182M3598 392h182M3598 578h182M3598 584h182M3598 588h182M3598 590h182M3598 618h182M3598 620h182M3598 624h182M3598 630h182M3598 632h182M3598 728h182M3598 740h182M3598 742h182M3598 748h182M3598 750h182M3598 752h182M3598 768h182M3598 936h182M3598 1124h182M3598 1126h182M3598 1130h182M3598 1134h182M3598 1152h182M3780 102h182M3780 104h182M3962 24h182M3962 28h182M3962 30h182M3962 36h182M3962 38h182M3962 66h182M3962 82h182M3962 526h182M3962 540h182M3962 548h182M3962 566h182M3962 574h182M3962 580h182M3962 584h182M3962 828h182M3962 830h182M3962 832h182M3962 838h182M3962 842h182M3962 844h182M3962 868h182M3962 970h182M3962 986h182"/>
<path stroke="#fcf7f7" stroke-width="2" d="M3053 550h182M3053 814h182M3053 1074h182M3053 1076h182M3053 1078h182M3053 1102h182M3053 1104h182M3235 1064h182M3235 1066h182M3417 550h181M3417 934h181M3417 1076h181M3417 1092h181M3598 160h182M3598 164h182M3598 178h182M3598 192h182M3598 196h182M3598 198h182M3598 200h182M3598 204h182M3598 212h182M3598 214h182M3598 220h182M3598 230h182M3598 236h182M3598 366h182M3598 368h182M3598 376h182M3598 482h182M3598 484h182M3598 486h182M3598 494h182M3598 572h182M3598 580h182M3598 628h182M3598 662h182M3598 736h182M3598 738h182M3598 746h182M3598 754h182M3598 762h182M3598 932h182M3598 1122h182M3598 1156h182M3780 88h182M3780 92h182M3780 106h182M3780 160h182M3962 26h182M3962 34h182M3962 64h182M3962 72h182M3962 74h182M3962 84h182M3962 498h182M3962 510h182M3962 520h182M3962 528h182M3962 530h182M3962 544h182M3962 550h182M3962 558h182M3962 568h182M3962 576h182M3962 582h182M3962 588h182M3962 602h182M3962 732h182M3962 758h182M3962 772h182M3962 822h182M3962 836h182M3962 840h182M3962 850h182M3962 854h182M3962 856h182M3962 862h182"/>
<path stroke="#ffffff" stroke-width="2" d="M3053 812h182M3053 1106h182M3235 166h182M3235 550h182M3235 812h182M3235 816h182M3235 1070h182M3417 166h181M3417 1090h181M3598 176h182M3598 190h182M3598 206h182M3598 240h182M3598 248h182M3598 372h182M3598 374h182M3598 378h182M3598 608h182M3598 614h182M3598 634h182M3598 636h182M3598 640h182M3598 698h182M3598 730h182M3598 734h182M3598 756h182M3598 770h182M3598 928h182M3598 1136h182M3598 1138h182M3598 1146h182M3598 1158h182M3780 94h182M3780 100h182M3780 156h182M3780 158h182M3780 162h182M3962 22h182M3962 68h182M3962 76h182M3962 488h182M3962 518h182M3962 532h182M3962 534h182M3962 536h182M3962 542h182M3962 546h182M3962 560h182M3962 564h182M3962 586h182M3962 590h182M3962 596h182M3962 604h182M3962 818h182M3962 820h182M3962 824h182M3962 852h182M3962 1084h182"/>
<path stroke="#ce747d" stroke-width="2" d="M3053 816h182M3053 1006h182M3053 1014h182M3053 1018h182M3053 1028h182M3053 1032h182M3053 1054h182M3235 1090h182M3235 1116h182M3235 1134h182M3417 842h181M3417 848h181M3417 850h181M3417 852h181M3417 858h181M3417 860h181M3417 1180h181M3598 56h182M3598 86h182M3598 100h182M3598 102h182M3598 108h182M3598 120h182M3780 44h182M3780 54h182M3780 58h182M3780 60h182M3780 64h182M3780 84h182M3780 200h182M3780 224h182M3780 250h182M3780 252h182M3780 262h182M3780 266h182M3780 268h182M3780 408h182M3780 422h182M3780 442h182M3780 450h182M3780 496h182M3780 610h182M3780 666h182M3962 98h182M3962 108h182M3962 206h182M3962 208h182M3962 210h182M3962 212h182M3962 216h182M3962 224h182M3962 228h182M3962 234h182M3962 240h182M3962 246h182M3962 252h182M3962 328h182M3962 330h182M3962 336h182M3962 338h182M3962 346h182"/>
<path stroke="#d4848c" stroke-width="2" d="M3053 818h182M3053 822h182M3053 826h182M3053 828h182M3053 830h182M3053 834h182M3053 936h182M3053 954h182M3053 964h182M3053 966h182M3053 988h182M3053 1002h182M3053 1012h182M3053 1052h182M3235 982h182M3235 1138h182M3235 1158h182M3417 856h181M3417 868h181M3417 990h181M3417 1170h181M3417 1186h181M3417 1188h181M3417 1190h181M3598 54h182M3598 62h182M3598 66h182M3598 72h182M3598 74h182M3598 82h182M3598 84h182M3598 126h182M3598 130h182M3598 134h182M3598 136h182M3780 66h182M3780 196h182M3780 202h182M3780 206h182M3780 208h182M3780 214h182M3780 220h182M3780 234h182M3780 240h182M3780 242h182M3780 248h182M3780 270h182M3780 276h182M3780 280h182M3780 328h182M3780 342h182M3780 396h182M3780 398h182M3780 444h182M3780 620h182M3780 680h182M3780 682h182M3962 102h182M3962 106h182M3962 120h182M3962 122h182M3962 220h182M3962 248h182M3962 342h182M3962 344h182M3962 606h182M3962 648h182M3962 682h182M3962 694h182M3962 702h182M3962 708h182"/>
<path stroke="#d17c84" stroke-width="2" d="M3053 820h182M3053 968h182M3053 970h182M3053 982h182M3053 998h182M3053 1004h182M3053 1016h182M3053 1024h182M3053 1026h182M3053 1030h182M3053 1034h182M3053 1038h182M3053 1040h182M3053 1042h182M3053 1044h182M3053 1048h182M3053 1050h182M3053 1156h182M3235 1136h182M3235 1140h182M3235 1144h182M3235 1146h182M3235 1148h182M3235 1150h182M3235 1152h182M3417 1172h181M3417 1174h181M3417 1176h181M3417 1182h181M3417 1184h181M3598 70h182M3598 78h182M3598 88h182M3780 46h182M3780 52h182M3780 198h182M3780 210h182M3780 216h182M3780 222h182M3780 228h182M3780 230h182M3780 232h182M3780 258h182M3780 260h182M3780 274h182M3780 400h182M3780 406h182M3780 410h182M3780 412h182M3780 414h182M3780 416h182M3780 418h182M3780 426h182M3780 446h182M3780 448h182M3780 458h182M3962 112h182M3962 196h182M3962 214h182M3962 218h182M3962 232h182M3962 238h182M3962 242h182M3962 332h182M3962 340h182M3962 620h182M3962 628h182M3962 686h182M3962 706h182M3962 720h182"/>
<path stroke="#d78c94" stroke-width="2" d="M3053 824h182M3053 836h182M3053 872h182M3053 974h182M3053 992h182M3053 1000h182M3053 1008h182M3053 1010h182M3053 1020h182M3053 1022h182M3053 1036h182M3053 1134h182M3235 908h182M3235 1122h182M3235 1126h182M3235 1132h182M3235 1142h182M3235 1154h182M3417 972h181M3417 982h181M3417 988h181M3417 996h181M3598 58h182M3598 76h182M3598 80h182M3598 524h182M3598 542h182M3598 546h182M3780 204h182M3780 218h182M3780 254h182M3780 256h182M3780 264h182M3780 278h182M3780 316h182M3780 338h182M3962 104h182M3962 116h182M3962 118h182M3962 250h182M3962 254h182M3962 282h182M3962 324h182M3962 326h182M3962 626h182M3962 636h182M3962 640h182M3962 650h182M3962 696h182M3962 698h182M3962 718h182"/>
<path stroke="#da959b" stroke-width="2" d="M3053 832h182M3053 874h182M3053 878h182M3053 880h182M3053 940h182M3053 942h182M3053 946h182M3053 952h182M3053 962h182M3053 972h182M3053 978h182M3053 980h182M3053 990h182M3053 1046h182M3053 1120h182M3053 1122h182M3053 1132h182M3053 1138h182M3235 836h182M3235 916h182M3235 954h182M3235 996h182M3235 998h182M3235 1124h182M3235 1130h182M3235 1184h182M3417 936h181M3417 962h181M3417 966h181M3417 970h181M3417 976h181M3417 998h181M3417 1018h181M3417 1028h181M3417 1178h181M3598 52h182M3598 450h182M3598 536h182M3780 40h182M3780 42h182M3780 244h182M3780 246h182M3780 272h182M3780 284h182M3780 290h182M3780 294h182M3780 300h182M3780 306h182M3780 310h182M3780 314h182M3780 318h182M3780 322h182M3780 324h182M3780 326h182M3780 332h182M3780 336h182M3780 344h182M3962 100h182M3962 318h182M3962 610h182M3962 614h182M3962 616h182M3962 624h182M3962 642h182M3962 684h182M3962 688h182M3962 690h182M3962 692h182M3962 700h182M3962 722h182"/>
<path stroke="#e5b5ba" stroke-width="2" d="M3053 838h182M3053 846h182M3053 852h182M3053 854h182M3053 870h182M3053 1136h182M3235 818h182M3235 822h182M3235 842h182M3235 848h182M3235 850h182M3235 852h182M3235 860h182M3235 866h182M3235 914h182M3235 918h182M3235 920h182M3235 934h182M3235 936h182M3235 944h182M3235 946h182M3235 958h182M3235 964h182M3235 978h182M3235 1000h182M3235 1006h182M3235 1020h182M3235 1022h182M3235 1026h182M3235 1030h182M3235 1032h182M3235 1038h182M3235 1040h182M3235 1042h182M3235 1164h182M3235 1172h182M3235 1178h182M3235 1180h182M3417 826h181M3417 834h181M3417 872h181M3417 882h181M3417 1012h181M3417 1024h181M3417 1026h181M3417 1046h181M3417 1050h181M3417 1150h181M3417 1154h181M3417 1166h181M3417 1168h181M3598 316h182M3598 328h182M3598 342h182M3598 446h182M3598 452h182M3598 464h182M3598 514h182M3598 534h182M3780 22h182M3780 30h182M3780 34h182M3780 178h182M3780 184h182M3962 132h182M3962 138h182M3962 244h182M3962 354h182M3962 356h182M3962 358h182M3962 378h182M3962 382h182M3962 388h182M3962 390h182M3962 400h182M3962 402h182M3962 408h182M3962 410h182M3962 412h182M3962 420h182M3962 450h182M3962 452h182M3962 462h182M3962 638h182M3962 654h182M3962 658h182M3962 774h182M3962 786h182M3962 808h182"/>
<path stroke="#e8bec2" stroke-width="2" d="M3053 840h182M3053 842h182M3053 844h182M3053 850h182M3053 856h182M3053 860h182M3053 862h182M3053 866h182M3053 1082h182M3053 1092h182M3053 1094h182M3053 1098h182M3053 1100h182M3235 840h182M3235 844h182M3235 846h182M3235 862h182M3235 864h182M3235 870h182M3235 912h182M3235 926h182M3235 930h182M3235 1004h182M3235 1014h182M3235 1018h182M3235 1046h182M3235 1054h182M3235 1060h182M3417 818h181M3417 824h181M3417 832h181M3417 874h181M3417 876h181M3417 890h181M3417 956h181M3417 964h181M3417 1098h181M3417 1100h181M3417 1102h181M3417 1104h181M3417 1110h181M3417 1112h181M3417 1116h181M3417 1144h181M3417 1164h181M3598 144h182M3598 314h182M3598 320h182M3598 334h182M3598 338h182M3598 436h182M3598 458h182M3598 522h182M3598 554h182M3780 28h182M3780 36h182M3780 188h182M3962 124h182M3962 134h182M3962 348h182M3962 350h182M3962 368h182M3962 396h182M3962 404h182M3962 426h182M3962 434h182M3962 440h182M3962 446h182M3962 664h182M3962 714h182M3962 716h182M3962 788h182M3962 790h182"/>
<path stroke="#f1d6d9" stroke-width="2" d="M3053 848h182M3053 1080h182M3053 1086h182M3053 1162h182M3053 1164h182M3053 1184h182M3053 1190h182M3235 874h182M3235 878h182M3235 886h182M3235 1048h182M3417 898h181M3417 902h181M3417 904h181M3417 906h181M3417 916h181M3417 922h181M3417 930h181M3417 932h181M3417 1054h181M3417 1056h181M3417 1062h181M3598 148h182M3598 150h182M3598 326h182M3598 348h182M3598 356h182M3598 364h182M3598 422h182M3598 430h182M3598 432h182M3598 454h182M3598 456h182M3598 460h182M3598 478h182M3598 488h182M3780 120h182M3780 132h182M3780 150h182M3780 152h182M3962 394h182M3962 470h182M3962 738h182M3962 796h182M3962 800h182"/>
<path stroke="#ebc6c9" stroke-width="2" d="M3053 858h182M3053 868h182M3053 1088h182M3235 838h182M3235 854h182M3235 856h182M3235 868h182M3235 1012h182M3235 1024h182M3235 1036h182M3235 1050h182M3235 1052h182M3417 828h181M3417 830h181M3417 878h181M3417 886h181M3417 888h181M3417 912h181M3417 914h181M3417 1010h181M3417 1042h181M3417 1094h181M3417 1096h181M3417 1118h181M3417 1160h181M3598 146h182M3598 154h182M3598 318h182M3598 324h182M3598 330h182M3598 352h182M3598 414h182M3598 466h182M3598 504h182M3598 550h182M3598 552h182M3598 556h182M3598 570h182M3780 24h182M3780 32h182M3780 38h182M3780 118h182M3780 168h182M3780 170h182M3780 176h182M3780 186h182M3962 362h182M3962 384h182M3962 398h182M3962 436h182M3962 448h182M3962 464h182M3962 466h182M3962 468h182M3962 474h182M3962 478h182M3962 646h182M3962 670h182M3962 776h182M3962 780h182M3962 784h182"/>
<path stroke="#eeced1" stroke-width="2" d="M3053 864h182M3053 1124h182M3235 876h182M3235 880h182M3235 888h182M3235 894h182M3235 1010h182M3235 1016h182M3235 1044h182M3235 1056h182M3235 1058h182M3417 822h181M3417 870h181M3417 884h181M3417 894h181M3417 910h181M3417 926h181M3417 928h181M3417 1052h181M3417 1058h181M3417 1064h181M3417 1068h181M3417 1106h181M3417 1108h181M3417 1114h181M3598 142h182M3598 152h182M3598 156h182M3598 336h182M3598 350h182M3598 358h182M3598 398h182M3598 400h182M3598 402h182M3598 404h182M3598 406h182M3598 416h182M3598 424h182M3598 428h182M3598 434h182M3598 462h182M3598 470h182M3598 562h182M3780 110h182M3780 180h182M3780 190h182M3962 136h182M3962 376h182M3962 476h182M3962 762h182M3962 768h182M3962 778h182M3962 794h182M3962 798h182M3962 810h182"/>
<path stroke="#dfa5ab" stroke-width="2" d="M3053 876h182M3053 888h182M3053 938h182M3053 944h182M3053 1112h182M3053 1126h182M3053 1140h182M3053 1142h182M3053 1152h182M3235 828h182M3235 830h182M3235 898h182M3235 900h182M3235 922h182M3235 928h182M3235 940h182M3235 956h182M3235 960h182M3235 966h182M3235 968h182M3235 972h182M3235 976h182M3235 980h182M3235 984h182M3235 986h182M3235 988h182M3235 994h182M3235 1162h182M3235 1176h182M3235 1182h182M3235 1190h182M3417 880h181M3417 938h181M3417 940h181M3417 942h181M3417 946h181M3417 948h181M3417 950h181M3417 952h181M3417 978h181M3417 1014h181M3417 1032h181M3417 1036h181M3417 1040h181M3417 1044h181M3417 1048h181M3417 1120h181M3417 1136h181M3417 1140h181M3417 1142h181M3417 1158h181M3598 344h182M3598 506h182M3598 512h182M3598 518h182M3598 520h182M3598 526h182M3598 538h182M3780 26h182M3780 302h182M3780 304h182M3780 308h182M3780 340h182M3780 608h182M3962 128h182M3962 360h182M3962 366h182M3962 372h182M3962 386h182M3962 414h182M3962 424h182M3962 432h182M3962 454h182M3962 458h182M3962 460h182M3962 618h182M3962 622h182M3962 630h182M3962 632h182M3962 644h182M3962 656h182M3962 660h182M3962 666h182M3962 668h182M3962 674h182M3962 680h182M3962 704h182M3962 726h182"/>
<path stroke="#dd9da3" stroke-width="2" d="M3053 882h182M3053 948h182M3053 950h182M3053 956h182M3053 960h182M3053 976h182M3053 984h182M3053 986h182M3053 994h182M3053 1108h182M3053 1110h182M3053 1116h182M3053 1118h182M3053 1128h182M3053 1130h182M3053 1144h182M3053 1146h182M3053 1148h182M3053 1150h182M3235 824h182M3235 904h182M3235 906h182M3235 942h182M3235 990h182M3235 992h182M3235 1128h182M3235 1174h182M3417 944h181M3417 954h181M3417 958h181M3417 968h181M3417 980h181M3417 984h181M3417 986h181M3417 992h181M3417 994h181M3417 1030h181M3417 1034h181M3417 1038h181M3417 1126h181M3417 1132h181M3417 1134h181M3598 60h182M3598 340h182M3598 346h182M3598 440h182M3598 442h182M3598 444h182M3598 508h182M3598 510h182M3598 540h182M3780 236h182M3780 238h182M3780 286h182M3780 298h182M3780 312h182M3780 320h182M3780 334h182M3780 346h182M3780 420h182M3962 140h182M3962 392h182M3962 418h182M3962 608h182M3962 612h182M3962 652h182M3962 712h182M3962 724h182M3962 792h182"/>
<path stroke="#e2adb2" stroke-width="2" d="M3053 884h182M3053 886h182M3053 958h182M3053 1090h182M3053 1096h182M3053 1114h182M3053 1154h182M3053 1158h182M3235 820h182M3235 826h182M3235 832h182M3235 834h182M3235 858h182M3235 896h182M3235 902h182M3235 910h182M3235 924h182M3235 932h182M3235 938h182M3235 948h182M3235 950h182M3235 952h182M3235 962h182M3235 970h182M3235 974h182M3235 1002h182M3235 1008h182M3235 1028h182M3235 1034h182M3235 1160h182M3235 1166h182M3235 1168h182M3235 1170h182M3235 1186h182M3235 1188h182M3417 820h181M3417 836h181M3417 960h181M3417 974h181M3417 1006h181M3417 1008h181M3417 1016h181M3417 1020h181M3417 1022h181M3417 1122h181M3417 1124h181M3417 1128h181M3417 1130h181M3417 1138h181M3417 1146h181M3417 1148h181M3417 1152h181M3417 1156h181M3417 1162h181M3598 138h182M3598 322h182M3598 332h182M3598 410h182M3598 438h182M3598 448h182M3598 516h182M3598 528h182M3598 530h182M3598 532h182M3598 544h182M3598 548h182M3780 282h182M3780 288h182M3780 292h182M3780 296h182M3780 330h182M3962 126h182M3962 130h182M3962 352h182M3962 364h182M3962 370h182M3962 374h182M3962 380h182M3962 406h182M3962 416h182M3962 422h182M3962 428h182M3962 430h182M3962 438h182M3962 442h182M3962 444h182M3962 456h182M3962 634h182M3962 662h182M3962 672h182M3962 676h182M3962 678h182M3962 710h182M3962 782h182"/>
<path stroke="#b42a38" stroke-width="2" d="M3053 890h182M3417 814h181M3780 454h182M3780 474h182M3780 532h182M3780 534h182M3780 550h182M3780 552h182M3780 566h182M3780 568h182M3780 570h182M3780 574h182M3780 592h182M3780 600h182M3780 746h182M3780 750h182M3780 760h182M3780 764h182M3780 768h182M3780 782h182M3962 148h182M3962 150h182M3962 158h182M3962 176h182M3962 186h182"/>
<path stroke="#b12230" stroke-width="2" d="M3053 892h182M3053 894h182M3417 816h181M3598 90h182M3780 560h182M3780 572h182M3780 576h182M3780 578h182M3780 582h182M3780 586h182M3780 602h182M3962 154h182"/>
<path stroke="#cb6c75" stroke-width="2" d="M3053 896h182M3053 900h182M3053 1070h182M3053 1072h182M3235 1084h182M3235 1086h182M3235 1108h182M3235 1114h182M3235 1156h182M3417 838h181M3417 844h181M3417 846h181M3417 854h181M3417 864h181M3417 1000h181M3417 1002h181M3417 1004h181M3598 24h182M3598 32h182M3598 50h182M3598 64h182M3598 106h182M3598 112h182M3598 128h182M3598 132h182M3598 140h182M3780 56h182M3780 72h182M3780 76h182M3780 78h182M3780 80h182M3780 192h182M3780 194h182M3780 212h182M3780 226h182M3780 402h182M3780 424h182M3780 430h182M3780 436h182M3780 624h182M3780 626h182M3780 632h182M3780 654h182M3780 672h182M3780 684h182M3780 696h182M3780 724h182M3780 726h182M3962 110h182M3962 114h182M3962 192h182M3962 198h182M3962 200h182M3962 204h182M3962 226h182M3962 230h182M3962 236h182M3962 256h182M3962 258h182M3962 264h182M3962 278h182M3962 296h182M3962 302h182M3962 304h182M3962 310h182M3962 320h182M3962 322h182M3962 334h182"/>
<path stroke="#c65b66" stroke-width="2" d="M3053 898h182M3053 904h182M3053 906h182M3053 914h182M3053 1056h182M3053 1058h182M3053 1064h182M3053 1066h182M3235 1088h182M3235 1102h182M3417 866h181M3598 28h182M3598 44h182M3598 46h182M3598 114h182M3598 122h182M3780 86h182M3780 352h182M3780 356h182M3780 370h182M3780 392h182M3780 394h182M3780 434h182M3780 440h182M3780 512h182M3780 514h182M3780 606h182M3780 614h182M3780 630h182M3780 640h182M3780 648h182M3780 652h182M3780 668h182M3780 678h182M3780 686h182M3780 698h182M3780 704h182M3780 706h182M3780 708h182M3780 712h182M3780 720h182M3962 276h182M3962 284h182M3962 288h182"/>
<path stroke="#c8646d" stroke-width="2" d="M3053 902h182M3053 924h182M3053 930h182M3053 934h182M3053 996h182M3053 1062h182M3235 1082h182M3235 1092h182M3235 1094h182M3235 1098h182M3235 1106h182M3235 1110h182M3235 1112h182M3235 1118h182M3417 862h181M3598 22h182M3598 30h182M3598 36h182M3598 42h182M3598 68h182M3598 98h182M3598 116h182M3598 118h182M3598 124h182M3780 48h182M3780 50h182M3780 62h182M3780 68h182M3780 70h182M3780 74h182M3780 354h182M3780 366h182M3780 374h182M3780 404h182M3780 428h182M3780 432h182M3780 438h182M3780 510h182M3780 612h182M3780 616h182M3780 618h182M3780 622h182M3780 638h182M3780 646h182M3780 690h182M3780 710h182M3780 714h182M3780 716h182M3780 718h182M3780 722h182M3780 730h182M3780 796h182M3962 194h182M3962 202h182M3962 222h182M3962 272h182M3962 292h182M3962 298h182M3962 308h182M3962 316h182"/>
<path stroke="#c3535e" stroke-width="2" d="M3053 908h182M3053 910h182M3053 912h182M3053 916h182M3053 918h182M3053 920h182M3053 922h182M3053 932h182M3053 1060h182M3053 1068h182M3235 1096h182M3235 1100h182M3235 1104h182M3417 840h181M3598 26h182M3598 38h182M3598 40h182M3598 48h182M3598 104h182M3780 82h182M3780 348h182M3780 350h182M3780 358h182M3780 360h182M3780 362h182M3780 378h182M3780 380h182M3780 384h182M3780 386h182M3780 488h182M3780 492h182M3780 500h182M3780 538h182M3780 634h182M3780 642h182M3780 658h182M3780 664h182M3780 670h182M3780 674h182M3780 676h182M3780 694h182M3780 752h182M3780 754h182M3780 792h182M3962 260h182M3962 268h182M3962 290h182M3962 300h182"/>
<path stroke="#c04b56" stroke-width="2" d="M3053 926h182M3053 928h182M3598 110h182M3780 364h182M3780 368h182M3780 376h182M3780 388h182M3780 462h182M3780 502h182M3780 504h182M3780 508h182M3780 628h182M3780 636h182M3780 650h182M3780 656h182M3780 660h182M3780 688h182M3780 700h182M3780 744h182M3780 748h182M3780 772h182M3780 780h182M3780 800h182M3780 804h182M3962 160h182M3962 162h182M3962 164h182M3962 174h182M3962 182h182M3962 266h182M3962 286h182M3962 294h182M3962 312h182M3962 314h182"/>
<path stroke="#f4dee0" stroke-width="2" d="M3053 1084h182M3053 1160h182M3053 1166h182M3053 1168h182M3053 1170h182M3053 1172h182M3053 1176h182M3053 1182h182M3053 1186h182M3053 1188h182M3235 872h182M3235 882h182M3235 884h182M3235 892h182M3417 908h181M3417 1060h181M3417 1066h181M3598 360h182M3598 370h182M3598 396h182M3598 408h182M3598 412h182M3598 420h182M3598 426h182M3598 468h182M3598 474h182M3598 476h182M3598 498h182M3598 558h182M3598 560h182M3598 564h182M3598 568h182M3780 108h182M3780 112h182M3780 114h182M3780 116h182M3780 122h182M3780 124h182M3780 126h182M3780 130h182M3780 140h182M3780 144h182M3780 148h182M3780 172h182M3780 174h182M3780 182h182M3962 472h182M3962 480h182M3962 484h182M3962 490h182M3962 496h182M3962 504h182M3962 524h182M3962 740h182M3962 742h182M3962 760h182M3962 806h182"/>
<path stroke="#f6e6e8" stroke-width="2" d="M3053 1174h182M3053 1178h182M3053 1180h182M3235 890h182M3417 892h181M3417 896h181M3417 900h181M3417 918h181M3417 920h181M3417 924h181M3417 1074h181M3417 1082h181M3417 1084h181M3598 194h182M3598 354h182M3598 362h182M3598 382h182M3598 418h182M3598 472h182M3598 480h182M3598 490h182M3598 492h182M3598 566h182M3598 644h182M3598 760h182M3780 128h182M3780 134h182M3780 136h182M3780 146h182M3962 78h182M3962 90h182M3962 94h182M3962 492h182M3962 494h182M3962 512h182M3962 516h182M3962 554h182M3962 578h182M3962 594h182M3962 728h182M3962 730h182M3962 734h182M3962 746h182M3962 752h182M3962 756h182M3962 766h182M3962 770h182M3962 802h182M3962 804h182M3962 858h182M3962 860h182"/>
<path stroke="#f1d6d9" stroke-width="1" d="M3053 1191.5h182"/>
<path stroke="#ba3b47" stroke-width="2" d="M3235 1074h182M3235 1076h182M3235 1080h182M3235 1120h182M3780 390h182M3780 476h182M3780 482h182M3780 484h182M3780 490h182M3780 526h182M3780 536h182M3780 540h182M3780 542h182M3780 544h182M3780 546h182M3780 644h182M3780 662h182M3780 740h182M3780 756h182M3780 758h182M3780 762h182M3780 766h182M3780 774h182M3780 788h182M3780 808h182M3962 168h182M3962 172h182M3962 188h182"/>
<path stroke="#b7323f" stroke-width="2" d="M3235 1078h182M3417 812h181M3780 452h182M3780 456h182M3780 460h182M3780 468h182M3780 478h182M3780 486h182M3780 520h182M3780 524h182M3780 528h182M3780 556h182M3780 580h182M3780 588h182M3780 590h182M3780 596h182M3780 598h182M3780 734h182M3780 736h182M3780 738h182M3780 742h182M3780 770h182M3780 778h182M3780 784h182M3780 802h182M3962 142h182M3962 152h182M3962 166h182M3962 180h182M3962 190h182M3962 274h182M3962 280h182"/>
<path stroke="#e2adb2" stroke-width="1" d="M3235 1191.5h182"/>
<path stroke="#f9eff0" stroke-width="2" d="M3417 1070h181M3417 1072h181M3417 1078h181M3417 1080h181M3417 1086h181M3417 1088h181M3598 158h182M3598 166h182M3598 210h182M3598 216h182M3598 222h182M3598 380h182M3598 384h182M3598 386h182M3598 390h182M3598 394h182M3598 496h182M3598 502h182M3598 574h182M3598 576h182M3598 638h182M3598 758h182M3780 90h182M3780 96h182M3780 98h182M3780 138h182M3780 142h182M3780 154h182M3780 164h182M3962 70h182M3962 80h182M3962 86h182M3962 88h182M3962 92h182M3962 96h182M3962 482h182M3962 486h182M3962 500h182M3962 502h182M3962 506h182M3962 508h182M3962 514h182M3962 522h182M3962 552h182M3962 556h182M3962 562h182M3962 572h182M3962 592h182M3962 598h182M3962 600h182M3962 736h182M3962 744h182M3962 748h182M3962 750h182M3962 754h182M3962 764h182M3962 826h182M3962 846h182M3962 848h182M3962 864h182M3962 866h182"/>
<path stroke="#d17c84" stroke-width="1" d="M3417 1191.5h181"/>
<path stroke="#bd434f" stroke-width="2" d="M3598 34h182M3780 372h182M3780 382h182M3780 464h182M3780 466h182M3780 470h182M3780 472h182M3780 480h182M3780 494h182M3780 498h182M3780 506h182M3780 516h182M3780 518h182M3780 522h182M3780 530h182M3780 548h182M3780 692h182M3780 702h182M3780 728h182M3780 732h182M3780 776h182M3780 786h182M3780 790h182M3780 794h182M3780 798h182M3780 806h182M3780 810h182M3962 156h182M3962 170h182M3962 178h182M3962 184h182M3962 262h182M3962 270h182M3962 306h182"/>
<path stroke="#b01e2c" stroke-width="2" d="M3598 92h182M3598 94h182M3598 96h182M3780 554h182M3780 558h182M3780 562h182M3780 564h182M3780 584h182M3780 594h182M3780 604h182M3962 144h182M3962 146h182"/>
<path stroke="#e8eff6" stroke-width="2" d="M3598 170h182M3598 186h182M3598 232h182M3598 246h182M3598 254h182M3598 260h182M3598 274h182M3598 276h182M3598 306h182M3598 310h182M3598 592h182M3598 602h182M3598 612h182M3598 622h182M3598 658h182M3598 700h182M3598 702h182M3598 708h182M3598 712h182M3598 714h182M3598 744h182M3598 804h182M3598 926h182M3598 930h182M3598 934h182M3598 1128h182M3598 1140h182M3598 1154h182M3780 872h182M3962 44h182M3962 46h182M3962 48h182M3962 50h182M3962 56h182M3962 538h182M3962 982h182M3962 984h182"/>
<path stroke="#eff4f9" stroke-width="2" d="M3598 238h182M3598 270h182M3598 296h182M3598 300h182M3598 302h182M3598 388h182M3598 500h182M3598 582h182M3598 586h182M3598 594h182M3598 596h182M3598 598h182M3598 606h182M3598 626h182M3598 642h182M3598 646h182M3598 660h182M3598 684h182M3598 690h182M3598 694h182M3598 710h182M3598 732h182M3598 764h182M3598 766h182M3598 924h182M3598 1132h182M3598 1142h182M3598 1144h182M3598 1148h182M3780 166h182M3962 32h182M3962 40h182M3962 54h182M3962 58h182M3962 60h182M3962 62h182M3962 570h182M3962 834h182M3962 968h182M3962 972h182M3962 974h182"/>
<path stroke="#729cc6" stroke-width="2" d="M3598 818h182M3598 822h182M3598 830h182M3598 834h182M3598 854h182M3598 856h182M3598 862h182M3598 864h182M3598 866h182M3598 972h182M3598 1180h182M3780 824h182M3780 828h182M3780 830h182M3780 832h182M3780 834h182M3780 868h182M3780 930h182M3780 940h182M3780 950h182M3780 956h182M3780 958h182M3780 974h182M3780 976h182M3780 1086h182M3780 1096h182M3780 1110h182M3962 902h182M3962 1010h182M3962 1138h182M3962 1146h182M3962 1154h182"/>
<path stroke="#6391c0" stroke-width="2" d="M3598 824h182M3598 844h182M3598 848h182M3598 850h182M3598 876h182M3780 934h182M3780 942h182M3780 944h182M3780 960h182M3962 1136h182"/>
<path stroke="#6a97c3" stroke-width="2" d="M3598 828h182M3598 832h182M3598 858h182M3598 868h182M3598 870h182M3598 888h182M3598 960h182M3780 820h182M3780 838h182M3780 926h182M3780 946h182M3780 948h182M3780 994h182M3780 1116h182M3962 1148h182M3962 1150h182"/>
<path stroke="#5b8cbd" stroke-width="2" d="M3598 836h182M3598 846h182M3598 878h182M3598 886h182M3780 938h182M3962 1132h182"/>
<path stroke="#437bb3" stroke-width="2" d="M3598 884h182"/>
<path stroke="#82a7cc" stroke-width="1" d="M3598 1191.5h182"/>
<path stroke="#c0d3e6" stroke-width="1" d="M3780 1191.5h182"/>
<path stroke="#99b8d6" stroke-width="1" d="M3962 1191.5h182"/>
</g>
<path fill="none" stroke="#000" stroke-width="1.9" d="M139.4 30.1H138.3V32.1H139.4M138.4 27.9H136.8V31.1H138.3M139.4 33.8H138.0V35.8H139.3M136.8 29.5H134.1V34.8H138.0M139.1 38.1H136.9V41.2H138.9M139.5 50.3H138.4V52.6H139.5M138.8 46.3H136.5V51.5H138.4M136.9 39.6H133.8V48.9H136.5M134.1 32.2H130.0V44.3H133.8M138.8 54.9H137.7V56.7H139.2M138.6 58.1H137.3V59.8H138.7M137.7 55.8H135.2V58.9H137.3M139.5 63.6H138.6V65.4H139.7M138.1 61.7H136.2V64.5H138.6M135.2 57.4H132.3V63.1H136.2M130.0 38.2H124.6V60.2H132.3M138.7 68.1H137.6V71.6H138.8M138.8 74.4H137.2V79.3H139.2M137.6 69.8H133.7V76.9H137.2M139.3 86.1H137.8V91.8H139.4M139.7 95.3H138.5V97.2H139.8M138.5 96.3H137.0V98.9H138.5M137.8 89.0H134.7V97.6H137.0M133.7 73.3H129.0V93.3H134.7M124.6 49.2H121.0V83.3H129.0M139.4 100.9H138.5V102.2H139.8M138.5 101.5H137.1V104.5H138.7M139.7 108.1H138.5V110.8H139.5M139.6 113.0H138.3V117.2H139.6M138.5 109.5H137.0V115.1H138.3M137.1 103.0H133.8V112.3H137.0M139.0 124.0H137.3V127.0H139.2M137.1 121.3H133.1V125.5H137.3M133.8 107.6H127.6V123.4H133.1M139.0 130.1H137.5V132.3H138.7M137.5 131.2H135.1V133.9H138.1M138.7 137.7H137.1V139.5H138.7M137.0 136.0H134.6V138.6H137.1M135.1 132.5H129.8V137.3H134.6M139.0 142.1H137.8V144.8H139.3M139.5 146.9H138.3V148.8H139.6M137.8 143.4H135.6V147.8H138.3M139.0 150.7H138.0V152.6H139.0M139.4 156.0H137.9V159.1H139.2M138.0 151.7H135.5V157.6H137.9M135.6 145.6H130.6V154.6H135.5M129.8 134.9H123.1V150.1H130.6M127.6 115.5H118.0V142.5H123.1M121.0 66.3H109.0V129.0H118.0M139.1 162.5H138.1V166.9H139.5M138.9 172.4H137.9V177.6H139.4M138.1 164.7H136.1V175.0H137.9M139.5 180.5H138.0V182.1H139.2M139.1 183.9H138.0V186.3H139.4M138.0 181.3H135.0V185.1H138.0M136.1 169.9H131.8V183.2H135.0M139.0 189.9H137.7V191.6H138.9M138.6 188.3H135.8V190.8H137.7M139.4 194.0H138.2V195.9H139.2M139.5 196.9H138.4V198.2H139.6M138.2 194.9H135.7V197.6H138.4M135.8 189.5H132.2V196.2H135.7M131.8 176.5H125.8V192.9H132.2M139.2 202.7H137.4V208.1H139.1M139.5 210.4H138.1V212.6H139.5M139.4 215.9H138.1V218.2H139.7M138.1 211.5H136.5V217.0H138.1M137.4 205.4H133.5V214.3H136.5M138.6 219.7H136.4V221.8H139.0M138.2 224.0H136.2V226.5H138.7M136.4 220.7H133.6V225.3H136.2M133.5 209.8H129.0V223.0H133.6M125.8 184.7H122.0V216.4H129.0M139.7 229.1H138.4V231.9H139.5M138.4 230.5H136.7V234.7H138.2M139.7 238.2H138.3V239.5H139.7M138.3 236.8H136.5V238.8H138.3M136.7 232.6H131.5V237.8H136.5M139.4 241.0H137.5V243.8H138.8M139.4 246.8H138.0V248.5H139.4M137.5 242.4H135.3V247.6H138.0M139.0 250.4H137.1V252.1H139.3M137.1 251.3H134.1V253.8H137.8M135.3 245.0H129.6V252.5H134.1M131.5 235.2H124.0V248.8H129.6M122.0 200.6H112.0V242.0H124.0M139.0 255.5H136.4V256.9H138.9M139.4 259.2H138.0V261.4H139.2M138.0 260.3H136.1V263.3H138.6M136.4 256.2H133.6V261.8H136.1M138.7 266.1H136.3V268.5H138.7M133.6 259.0H129.9V267.3H136.3M139.4 273.0H137.9V274.6H139.0M138.8 270.7H136.2V273.8H137.9M138.7 277.2H137.1V280.2H139.0M136.2 272.2H132.3V278.7H137.1M138.9 282.1H137.7V284.0H139.3M139.3 286.3H138.0V289.4H139.5M137.7 283.0H135.8V287.9H138.0M139.2 293.4H137.3V297.4H139.2M135.8 285.5H133.0V295.4H137.3M132.3 275.5H126.4V290.4H133.0M129.9 263.1H120.6V283.0H126.4M139.2 300.9H136.9V303.6H139.0M139.1 305.8H136.8V307.2H138.3M136.9 302.2H132.0V306.5H136.8M139.0 309.6H137.0V314.2H138.8M139.7 318.1H138.2V319.6H139.4M139.3 321.0H138.5V322.4H139.4M138.2 318.8H136.2V321.7H138.5M137.0 311.9H133.7V320.3H136.2M132.0 304.4H127.1V316.1H133.7M120.6 273.0H118.0V310.2H127.1M112.0 221.3H103.0V291.6H118.0M109.0 97.6H95.8V256.5H103.0M137.9 324.1H135.8V325.9H138.6M139.5 329.3H138.5V331.7H139.4M138.2 327.6H136.2V330.5H138.5M135.8 325.0H132.5V329.0H136.2M139.3 338.8H138.2V340.3H139.6M138.8 335.6H136.3V339.6H138.2M138.7 342.7H137.1V346.0H138.9M139.1 348.5H137.9V351.3H139.5M137.1 344.4H134.3V349.9H137.9M136.3 337.6H130.9V347.1H134.3M132.5 327.0H125.8V342.4H130.9M138.8 354.0H137.0V356.7H139.1M138.4 359.5H136.9V362.5H138.7M137.0 355.4H132.0V361.0H136.9M138.7 365.0H137.2V367.3H138.6M138.9 369.8H137.3V371.4H139.3M137.2 366.1H132.6V370.6H137.3M132.0 358.2H127.8V368.4H132.6M139.1 372.9H136.8V375.1H139.0M139.0 377.6H136.9V379.4H138.5M136.8 374.0H132.6V378.5H136.9M127.8 363.3H122.1V376.3H132.6M125.8 334.7H116.0V369.8H122.1M138.2 380.9H135.8V382.3H137.9M139.3 383.9H137.7V385.5H139.0M137.7 384.7H135.6V387.0H138.1M135.8 381.6H129.0V385.8H135.6M139.0 389.5H137.4V392.3H139.2M139.7 394.0H138.5V395.4H139.6M138.5 394.7H136.3V398.2H138.9M137.4 390.9H133.8V396.5H136.3M138.6 403.6H137.1V405.4H139.3M137.2 401.2H134.5V404.5H137.1M133.8 393.7H129.3V402.9H134.5M129.0 383.7H120.0V398.3H129.3M116.0 352.2H100.0V391.0H120.0M138.2 406.8H136.1V408.4H138.1M136.1 407.6H133.3V410.5H136.4M138.7 412.4H136.1V413.7H138.1M136.1 413.0H130.3V415.5H135.3M133.3 409.1H123.4V414.3H130.3M139.6 418.8H138.5V420.4H139.4M138.7 417.5H135.5V419.6H138.5M138.0 421.8H135.8V423.1H138.5M135.5 418.6H131.7V422.5H135.8M136.7 424.8H133.3V426.3H137.2M131.7 420.5H126.8V425.6H133.3M123.4 411.7H112.0V423.0H126.8M138.6 427.8H136.4V429.8H138.8M139.2 433.7H138.1V435.6H139.4M138.4 431.9H136.6V434.7H138.1M136.4 428.8H132.6V433.3H136.6M139.1 439.5H137.0V441.2H139.2M137.5 437.5H134.1V440.3H137.0M132.6 431.1H126.7V438.9H134.1M139.0 443.0H137.0V446.4H138.9M139.7 454.7H138.5V456.7H139.4M138.9 451.0H136.8V455.7H138.5M137.0 444.7H131.8V453.3H136.8M139.6 458.4H138.0V460.2H139.6M139.3 462.4H138.4V466.5H139.2M138.0 459.3H136.1V464.4H138.4M139.2 472.2H137.7V473.5H139.4M137.7 470.2H135.0V472.8H137.7M136.1 461.9H131.6V471.5H135.0M131.8 449.0H122.7V466.7H131.6M126.7 435.0H118.0V457.9H122.7M139.3 475.1H137.9V478.0H139.2M138.9 480.5H137.7V482.6H139.1M137.9 476.6H134.4V481.5H137.7M139.1 486.8H137.4V490.9H139.1M139.4 493.8H138.4V495.1H139.6M138.5 492.7H136.6V494.5H138.4M137.4 488.8H134.0V493.6H136.6M134.4 479.0H129.0V491.2H134.0M139.3 496.8H137.3V498.5H139.2M139.3 499.6H138.3V501.0H139.2M137.3 497.6H135.1V500.3H138.3M139.6 502.8H138.2V504.4H139.6M138.2 503.6H134.7V506.1H138.3M135.1 499.0H129.2V504.8H134.7M129.0 485.1H120.0V501.9H129.2M118.0 446.4H106.0V493.5H120.0M112.0 417.4H98.5V470.0H106.0M100.0 371.6H78.8V443.7H98.5M95.8 177.0H71.0V407.6H78.8M139.1 509.6H137.3V511.4H138.7M138.3 507.8H135.2V510.5H137.3M138.4 513.0H136.6V514.5H138.3M139.0 515.7H137.5V517.4H139.1M136.6 513.8H133.3V516.6H137.5M135.2 509.1H127.9V515.2H133.3M137.2 519.2H134.0V520.8H137.7M134.0 520.0H128.4V522.3H133.6M127.9 512.2H115.3V521.2H128.4M139.2 523.5H137.7V525.2H139.0M139.1 527.0H137.7V528.7H139.1M137.7 524.4H134.6V527.8H137.7M139.6 530.4H138.4V531.9H139.6M138.4 531.1H136.8V533.3H138.5M138.8 536.0H137.1V539.6H139.3M136.8 532.2H132.3V537.8H137.1M134.6 526.1H127.6V535.0H132.3M139.3 543.0H137.3V546.0H138.9M139.5 548.3H138.6V550.2H139.8M137.3 544.5H135.4V549.3H138.6M139.0 553.1H137.2V554.4H139.2M136.8 551.7H134.4V553.8H137.2M135.4 546.9H129.7V552.7H134.4M127.6 530.5H118.5V549.8H129.7M115.3 516.7H104.0V540.2H118.5M139.3 559.0H138.1V560.3H139.3M138.4 557.9H136.2V559.7H138.1M135.9 556.1H130.9V558.8H136.2M139.8 562.0H138.5V564.0H139.4M138.5 563.0H136.5V567.4H138.6M139.1 570.5H137.4V572.1H138.9M138.9 573.6H137.7V574.9H139.5M137.4 571.3H134.5V574.2H137.7M136.5 565.2H130.8V572.8H134.5M130.9 557.4H124.9V569.0H130.8M139.5 578.4H138.5V580.3H139.8M138.3 576.2H136.4V579.4H138.5M139.1 581.7H137.2V583.1H139.2M136.4 577.8H132.5V582.4H137.2M139.1 586.6H138.0V588.6H139.5M138.5 584.8H135.1V587.6H138.0M132.5 580.1H127.1V586.2H135.1M124.9 563.2H112.0V583.2H127.1M139.5 593.1H138.2V595.2H139.6M138.3 591.1H136.7V594.2H138.2M139.3 597.2H137.3V598.6H138.8M136.7 592.6H133.8V597.9H137.3M139.4 600.5H137.4V603.2H139.0M139.0 605.0H137.6V606.4H139.2M137.4 601.9H134.9V605.7H137.6M133.8 595.3H128.5V603.8H134.9M138.7 608.1H136.8V609.7H139.0M139.3 614.7H138.4V616.0H139.3M138.7 612.2H136.4V615.4H138.4M136.8 608.9H133.0V613.8H136.4M138.2 619.4H136.7V621.6H138.9M137.1 617.5H133.6V620.5H136.7M133.0 611.3H128.4V619.0H133.6M128.5 599.5H116.0V615.2H128.4M112.0 573.2H96.0V607.3H116.0M104.0 528.4H86.0V590.3H96.0M138.6 623.9H135.8V625.7H138.2M139.4 627.1H137.8V628.4H139.5M137.8 627.7H133.3V629.7H137.6M135.8 624.8H128.7V628.7H133.3M138.6 631.6H136.5V633.4H139.1M138.9 634.8H136.6V636.3H138.6M136.5 632.5H133.8V635.6H136.6M138.9 639.6H137.0V641.1H138.5M136.8 637.8H134.3V640.4H137.0M133.8 634.0H129.8V639.1H134.3M128.7 626.8H117.3V636.6H129.8M139.4 643.0H138.1V644.4H139.2M139.6 645.3H138.5V646.8H139.5M138.1 643.7H136.1V646.1H138.5M138.4 648.2H136.3V649.5H138.8M136.1 644.9H132.7V648.9H136.3M138.9 651.8H137.4V654.2H138.8M137.4 653.0H135.5V656.3H137.7M139.1 658.9H136.9V661.7H138.8M135.5 654.6H131.5V660.3H136.9M132.7 646.9H123.3V657.5H131.5M138.7 664.6H136.9V668.6H139.0M139.5 676.1H138.6V677.5H139.4M138.9 673.1H137.1V676.8H138.6M136.9 666.6H132.5V675.0H137.1M138.9 678.9H136.8V680.3H139.1M138.8 682.0H136.4V683.8H138.4M136.8 679.6H133.5V682.9H136.4M132.5 670.8H126.3V681.3H133.5M123.3 652.2H114.0V676.0H126.3M117.3 631.7H100.0V664.1H114.0M139.1 685.9H137.5V687.3H139.3M137.5 686.6H134.1V688.4H137.4M139.0 692.0H136.9V693.4H139.0M137.9 690.3H134.5V692.7H136.9M134.1 687.5H128.5V691.5H134.5M139.4 696.5H137.7V697.9H138.9M137.1 694.9H133.8V697.2H137.7M139.2 699.4H137.3V701.0H139.3M137.3 700.2H135.3V702.7H138.6M133.8 696.1H129.7V701.5H135.3M128.5 689.5H122.2V698.8H129.7M137.4 704.7H135.2V706.3H138.0M139.3 707.6H137.5V709.5H139.3M138.2 711.2H136.6V712.5H138.9M137.5 708.5H133.7V711.9H136.6M135.2 705.5H127.9V710.2H133.7M139.6 714.6H137.9V718.2H139.6M139.0 721.2H137.1V724.0H139.0M137.9 716.4H134.6V722.6H137.1M139.1 727.5H138.1V729.7H139.1M139.0 731.5H138.0V733.3H139.3M138.1 728.6H135.9V732.4H138.0M134.6 719.5H129.3V730.5H135.9M127.9 707.9H120.8V725.0H129.3M139.1 735.3H136.9V737.8H138.7M138.9 740.4H137.3V742.3H139.2M136.9 736.5H132.8V741.4H137.3M138.8 743.5H136.2V745.1H138.0M139.3 746.9H138.2V748.4H139.5M138.2 747.6H136.4V750.1H138.3M136.2 744.3H131.3V748.9H136.4M132.8 738.9H124.9V746.6H131.3M120.8 716.4H108.6V742.8H124.9M122.2 694.1H104.0V729.6H108.6M138.7 752.0H137.1V754.5H139.2M139.0 757.2H137.4V759.2H139.4M137.1 753.2H133.7V758.2H137.4M139.2 761.2H138.0V763.9H139.3M138.0 762.6H135.0V766.6H137.3M133.7 755.7H128.5V764.6H135.0M139.3 769.5H138.0V770.9H139.2M137.5 768.4H135.3V770.2H138.0M139.4 773.1H138.1V775.0H139.3M138.1 774.1H136.2V776.7H138.5M135.3 769.3H130.3V775.4H136.2M128.5 760.1H121.6V772.4H130.3M139.4 778.9H137.8V781.4H139.4M139.4 783.7H137.9V784.9H139.0M137.8 780.1H134.1V784.3H137.9M138.9 787.7H137.8V789.6H139.2M137.1 786.1H134.2V788.7H137.8M134.1 782.2H129.5V787.4H134.2M139.1 792.0H136.8V794.0H138.8M139.3 796.2H138.4V797.6H139.5M138.9 795.2H136.8V796.9H138.4M136.8 793.0H133.0V796.1H136.8M138.8 800.9H136.7V805.7H138.6M138.9 809.5H137.4V812.0H138.8M136.7 803.3H133.4V810.8H137.4M133.0 794.5H126.9V807.0H133.4M129.5 784.8H116.4V800.8H126.9M121.6 766.2H108.0V792.8H116.4M104.0 711.9H84.0V779.5H108.0M100.0 647.9H76.4V745.7H84.0M138.9 814.5H136.4V819.3H138.8M139.2 823.8H138.2V825.4H139.4M139.5 826.5H137.8V828.6H139.3M138.2 824.6H135.9V827.5H137.8M136.4 816.9H132.1V826.1H135.9M139.2 831.0H137.8V833.6H138.9M137.8 832.3H136.1V836.6H138.1M138.7 839.2H136.5V841.6H138.8M136.1 834.4H131.8V840.4H136.5M132.1 821.5H124.4V837.4H131.8M139.6 845.7H138.3V847.2H139.7M138.8 843.8H135.9V846.4H138.3M138.8 849.7H136.3V852.7H138.1M135.9 845.1H131.4V851.2H136.3M138.2 857.1H136.3V859.2H138.6M135.2 854.8H131.8V858.1H136.3M131.4 848.1H126.6V856.5H131.8M124.4 829.4H114.0V852.3H126.6M139.2 860.6H137.9V861.8H139.2M139.4 863.3H138.4V864.7H139.5M137.9 861.2H135.2V864.0H138.4M139.2 866.8H137.9V869.0H139.3M138.7 870.6H137.6V872.6H139.3M137.9 867.9H134.5V871.6H137.6M135.2 862.6H129.9V869.8H134.5M138.8 875.2H136.3V877.2H138.9M137.0 878.4H134.1V879.9H137.7M136.3 876.2H129.8V879.1H134.1M129.9 866.2H123.5V877.7H129.8M139.3 882.3H138.2V884.8H139.6M138.2 883.6H136.7V886.8H139.1M138.9 889.7H136.9V893.4H138.8M136.7 885.2H134.2V891.5H136.9M139.3 895.8H138.0V897.2H139.2M139.0 898.5H137.7V900.1H139.4M138.0 896.5H133.9V899.3H137.7M134.2 888.3H128.4V897.9H133.9M138.3 902.3H136.8V904.3H139.0M136.8 903.3H133.8V906.0H136.8M139.5 910.0H138.5V911.7H139.4M137.7 907.8H135.8V910.9H138.5M139.2 913.2H137.2V915.1H139.3M135.8 909.4H132.9V914.1H137.2M133.8 904.6H128.8V911.7H132.9M128.4 893.1H123.5V908.2H128.8M123.5 871.9H112.0V900.7H123.5M114.0 840.9H100.0V886.3H112.0M76.4 696.8H66.4V863.6H100.0M86.0 559.3H42.5V780.2H66.4M71.0 292.3H39.4V669.8H42.5M137.4 916.5H133.0V917.8H137.7M138.2 921.5H135.8V922.8H138.7M135.9 919.6H131.8V922.1H135.8M133.0 917.2H120.7V920.9H131.8M132.7 924.1H122.4V926.0H133.6M120.7 919.0H106.5V925.0H122.4M136.9 928.0H131.0V929.4H136.8M131.0 928.7H122.1V930.4H133.3M133.6 931.9H127.4V933.9H133.2M122.1 929.5H108.9V932.9H127.4M106.5 922.0H82.0V931.2H108.9M135.7 935.8H131.7V937.1H136.6M131.7 936.5H123.4V938.5H134.2M138.2 942.6H136.3V944.5H138.8M135.9 940.6H132.4V943.6H136.3M137.8 948.5H135.6V950.0H138.0M136.0 946.6H131.3V949.3H135.6M132.4 942.1H120.5V947.9H131.3M123.4 937.5H109.6V945.0H120.5M138.8 951.4H136.8V953.4H138.4M139.1 955.3H137.1V956.6H139.2M136.8 952.4H131.7V955.9H137.1M135.1 958.0H129.1V959.6H134.4M131.7 954.2H122.1V958.8H129.1M137.5 960.8H134.8V962.2H138.2M134.8 961.5H130.2V964.2H135.2M137.8 966.3H134.5V967.9H137.0M139.5 969.7H138.2V971.7H139.6M139.2 973.0H138.2V974.3H139.3M138.2 970.7H134.9V973.7H138.2M134.5 967.1H128.4V972.2H134.9M130.2 962.8H120.9V969.6H128.4M122.1 956.5H105.4V966.2H120.9M109.6 941.3H92.0V961.4H105.4M134.9 976.1H130.7V978.3H136.0M137.2 980.2H134.3V981.7H138.2M137.4 983.6H134.4V985.2H137.9M134.3 981.0H129.6V984.4H134.4M130.7 977.2H122.2V982.7H129.6M137.4 986.7H135.1V988.6H137.5M135.1 987.7H130.8V990.2H135.3M138.4 992.1H136.6V994.1H138.5M139.8 995.8H138.5V997.1H139.8M138.5 996.4H136.3V998.6H138.4M136.6 993.1H132.9V997.5H136.3M130.8 988.9H124.1V995.3H132.9M122.2 979.9H108.2V992.1H124.1M138.3 999.8H135.2V1001.4H137.7M139.6 1003.3H138.4V1005.0H139.3M138.4 1004.1H136.2V1006.9H138.0M135.2 1000.6H131.6V1005.5H136.2M138.9 1008.7H137.4V1010.1H139.1M139.0 1011.9H137.6V1014.7H139.0M137.4 1009.4H134.5V1013.3H137.6M131.6 1003.1H126.2V1011.4H134.5M139.1 1019.7H137.4V1021.5H138.8M136.6 1017.5H132.5V1020.6H137.4M137.0 1022.9H131.6V1024.2H137.2M132.5 1019.1H125.7V1023.6H131.6M126.2 1007.2H113.7V1021.3H125.7M108.2 986.0H90.0V1014.3H113.7M92.0 951.3H76.0V1000.1H90.0M82.0 926.6H63.0V975.7H76.0M122.2 1025.7H100.0V1027.2H122.6M136.2 1028.7H132.4V1030.0H137.5M138.2 1031.8H135.8V1033.6H138.0M136.8 1035.0H134.2V1036.4H138.2M135.8 1032.7H129.1V1035.7H134.2M132.4 1029.3H120.0V1034.2H129.1M137.2 1039.2H134.5V1040.5H137.3M136.3 1037.7H130.4V1039.8H134.5M139.2 1043.8H137.8V1045.4H139.1M137.8 1044.6H135.1V1047.4H138.3M133.0 1042.0H127.8V1046.0H135.1M130.4 1038.8H117.1V1044.0H127.8M120.0 1031.8H102.8V1041.4H117.1M136.7 1049.2H132.5V1051.0H135.9M132.5 1050.1H122.1V1053.1H130.9M138.7 1059.6H136.8V1061.3H138.4M135.5 1057.6H131.9V1060.4H136.8M129.0 1055.5H121.4V1059.0H131.9M122.1 1051.6H104.7V1057.3H121.4M102.8 1036.6H84.0V1054.5H104.7M139.0 1064.9H136.8V1066.7H138.6M136.4 1063.0H131.1V1065.8H136.8M139.2 1069.7H138.1V1071.3H139.3M137.6 1068.2H135.2V1070.5H138.1M139.0 1072.7H137.2V1074.8H139.3M137.2 1073.8H135.0V1077.1H137.1M135.2 1069.4H128.8V1075.4H135.0M131.1 1064.4H120.7V1072.4H128.8M139.3 1080.8H137.2V1082.6H139.0M137.5 1078.9H132.8V1081.7H137.2M132.8 1080.3H125.1V1084.6H131.6M120.7 1068.4H107.4V1082.5H125.1M138.8 1087.1H136.6V1089.1H139.1M136.6 1088.1H133.9V1090.9H136.9M136.5 1093.1H133.0V1094.6H136.7M133.9 1089.5H128.0V1093.9H133.0M138.1 1098.2H134.6V1100.2H138.3M134.6 1096.2H126.4V1099.2H134.6M128.0 1091.7H118.4V1097.7H126.4M107.4 1075.4H93.4V1094.7H118.4M139.1 1101.8H136.6V1103.1H138.7M136.6 1102.5H133.7V1104.4H136.7M133.7 1103.4H128.3V1105.9H133.3M137.6 1107.3H135.4V1108.9H138.2M135.4 1108.1H129.1V1111.0H135.8M128.3 1104.6H118.1V1109.5H129.1M138.9 1114.7H136.7V1116.1H138.3M137.1 1113.0H131.7V1115.4H136.7M134.8 1117.9H130.0V1119.4H134.5M131.7 1114.2H120.6V1118.6H130.0M118.1 1107.1H99.9V1116.4H120.6M93.4 1085.1H82.0V1111.7H99.9M84.0 1045.5H68.7V1098.4H82.0M121.1 1120.8H100.0V1122.3H121.6M136.1 1123.5H130.6V1125.2H135.9M135.7 1127.2H131.9V1128.5H135.8M138.1 1131.5H135.5V1133.4H137.8M136.2 1129.8H132.3V1132.4H135.5M131.9 1127.9H125.3V1131.1H132.3M130.6 1124.4H114.8V1129.5H125.3M138.3 1134.9H134.9V1136.2H137.1M138.1 1137.6H135.3V1139.0H137.6M134.9 1135.6H130.8V1138.3H135.3M136.8 1140.8H134.1V1142.1H138.1M130.8 1136.9H124.4V1141.5H134.1M139.0 1145.5H137.0V1147.6H138.5M137.8 1143.5H133.9V1146.5H137.0M138.5 1151.2H136.0V1152.5H138.2M136.4 1149.4H132.7V1151.9H136.0M133.9 1145.0H125.1V1150.6H132.7M124.4 1139.2H109.6V1147.8H125.1M114.8 1126.9H86.0V1143.5H109.6M138.7 1154.1H135.8V1156.2H138.1M138.6 1158.2H136.9V1160.5H138.9M135.8 1155.1H131.4V1159.4H136.9M138.5 1162.5H137.2V1164.1H138.7M137.2 1163.3H133.0V1165.9H136.0M131.4 1157.2H126.5V1164.6H133.0M137.8 1167.4H133.2V1169.0H136.2M139.3 1170.6H137.3V1172.3H139.3M137.3 1171.5H132.8V1174.5H137.3M133.2 1168.2H127.7V1173.0H132.8M126.5 1160.9H113.1V1170.6H127.7M138.6 1176.4H136.4V1177.9H138.9M139.0 1179.5H137.7V1180.8H139.3M136.4 1177.1H133.5V1180.1H137.7M135.7 1182.3H132.4V1184.0H136.1M133.5 1178.6H127.4V1183.2H132.4M137.1 1185.6H131.9V1187.5H137.2M131.9 1186.6H123.7V1189.2H134.0M127.4 1180.9H110.4V1187.9H123.7M113.1 1165.7H92.0V1184.4H110.4M139.1 1190.7H137.1V1192.7H138.7M139.4 1195.2H138.5V1196.9H139.6M138.5 1196.1H135.9V1198.5H138.1M137.1 1191.7H132.9V1197.3H135.9M138.7 1200.2H135.7V1201.6H138.7M135.7 1200.9H132.5V1203.1H136.6M132.9 1194.5H124.0V1202.0H132.5M138.4 1206.6H136.9V1208.1H139.2M136.0 1204.9H132.9V1207.4H136.9M139.0 1210.2H137.0V1212.5H138.7M139.0 1214.2H136.5V1216.0H138.7M137.0 1211.3H132.8V1215.1H136.5M132.9 1206.1H127.1V1213.2H132.8M124.0 1198.2H113.6V1209.7H127.1M136.0 1217.7H132.9V1219.3H137.2M132.9 1218.5H125.5V1221.3H133.4M137.6 1223.3H134.1V1225.2H137.9M138.8 1227.5H137.5V1229.6H138.9M139.0 1231.9H137.5V1234.2H139.1M137.5 1228.5H134.4V1233.1H137.5M134.1 1224.3H129.1V1230.8H134.4M125.5 1219.9H116.7V1227.5H129.1M113.6 1204.0H94.0V1223.7H116.7M92.0 1175.1H80.0V1213.8H94.0M86.0 1135.2H72.0V1194.5H80.0M100.0 1121.6H63.5V1164.8H72.0M68.7 1072.0H51.3V1143.2H63.5M100.0 1026.4H40.5V1107.6H51.3M63.0 951.2H36.5V1067.0H40.5M39.4 481.1H7.0V1009.1H36.5"/>
<rect x="135.6" y="27.0" width="9.5" height="1208.0" fill="#060000"/>
<path fill="none" stroke="#000" stroke-width="1.6" d="M130.6 27.0h6.0M132.6 28.5h4.0M130.6 30.1h6.0M132.6 32.7h4.0M134.6 34.6h2.0M134.6 35.9h2.0M130.6 38.0h6.0M129.6 40.3h7.0M131.6 41.9h5.0M132.6 44.4h4.0M129.6 47.2h7.0M130.6 48.6h6.0M127.2 50.6h9.4M133.6 52.3h3.0M129.6 54.3h7.0M132.6 56.3h4.0M131.6 58.6h5.0M133.6 61.1h3.0M127.6 63.6h9.0M123.6 65.9h13.0M132.6 68.5h4.0M130.6 70.0h6.0M127.6 71.5h9.0M132.6 74.0h4.0M129.6 75.6h7.0M132.6 77.3h4.0M133.6 79.3h3.0M129.6 80.6h7.0M127.6 81.9h9.0M134.6 84.5h2.0M127.6 85.7h9.0M130.6 87.0h6.0M125.5 89.6h11.1M132.6 92.3h4.0M120.7 94.1h15.9M127.6 96.2h9.0M130.6 98.4h6.0M130.6 101.1h6.0M120.1 103.2h16.5M131.6 105.0h5.0M133.6 107.4h3.0M129.6 109.6h7.0M130.6 111.0h6.0M134.6 113.7h2.0M134.6 116.3h2.0M129.6 119.2h7.0M132.6 122.2h4.0M127.6 124.4h9.0M134.6 126.9h2.0M132.6 128.6h4.0M134.6 130.9h2.0M124.0 133.0h12.6M131.6 135.0h5.0M134.6 136.9h2.0M129.6 138.8h7.0M130.6 141.1h6.0M131.6 142.5h5.0M130.6 144.0h6.0M133.6 145.4h3.0M130.6 147.4h6.0M127.6 149.1h9.0M134.6 152.1h2.0M134.6 154.7h2.0M133.6 157.6h3.0M133.6 160.1h3.0M129.6 162.2h7.0M127.6 163.4h9.0M127.6 165.3h9.0M130.6 166.8h6.0M129.6 168.0h7.0M125.2 170.3h11.4M133.6 172.8h3.0M124.9 174.6h11.7M132.6 176.7h4.0M132.6 179.7h4.0M125.6 180.9h11.0M130.6 183.3h6.0M127.6 184.9h9.0M134.6 187.6h2.0M129.6 188.9h7.0M133.6 191.6h3.0M132.6 193.5h4.0M129.6 195.9h7.0M132.6 197.2h4.0M134.6 198.4h2.0M127.6 201.3h9.0M132.6 204.1h4.0M130.6 205.3h6.0M134.6 206.9h2.0M133.6 209.2h3.0M131.6 211.0h5.0M129.6 213.5h7.0M129.6 215.4h7.0M129.6 218.0h7.0M127.6 219.8h9.0M131.6 222.3h5.0M129.6 223.6h7.0M125.7 225.6h10.9M132.6 226.8h4.0M119.6 228.3h17.0M127.6 230.8h9.0M129.6 232.0h7.0M127.6 234.0h9.0M134.6 235.5h2.0M134.6 238.5h2.0M129.6 239.7h7.0M131.6 242.2h5.0M127.6 243.8h9.0M131.6 245.2h5.0M134.6 247.9h2.0M133.6 250.8h3.0M131.6 252.5h5.0M132.6 254.5h4.0M126.7 257.4h9.9M132.6 259.1h4.0M133.6 261.9h3.0M132.6 263.2h4.0M130.6 265.0h6.0M130.6 267.9h6.0M124.6 270.2h12.0M129.6 271.6h7.0M127.6 273.6h9.0M131.6 275.5h5.0M127.6 277.5h9.0M129.6 278.7h7.0M133.6 281.6h3.0M127.6 283.5h9.0M127.6 285.7h9.0M131.6 287.5h5.0M132.6 289.7h4.0M133.6 291.2h3.0M132.6 293.7h4.0M131.6 295.9h5.0M134.6 297.9h2.0M130.6 299.7h6.0M127.6 301.3h9.0M131.6 303.3h5.0M134.6 304.7h2.0M130.6 306.0h6.0M133.6 308.7h3.0M129.6 311.4h7.0M132.6 313.0h4.0M132.6 315.4h4.0M132.6 316.7h4.0M130.6 319.3h6.0M130.6 321.4h6.0M123.5 323.8h13.1M127.6 325.3h9.0M134.6 327.8h2.0M133.6 330.1h3.0M127.6 331.9h9.0M127.6 333.3h9.0M132.6 335.2h4.0M130.6 337.7h6.0M127.6 340.6h9.0M134.6 342.4h2.0M132.6 344.7h4.0M133.6 346.6h3.0M130.6 349.5h6.0M132.6 352.0h4.0M133.6 353.4h3.0M131.6 355.1h5.0M132.6 357.4h4.0M132.6 360.3h4.0M129.6 362.1h7.0M134.6 364.0h2.0M120.9 366.6h15.7M129.6 369.0h7.0M131.6 370.7h5.0M133.6 373.3h3.0M130.6 375.7h6.0M132.6 378.4h4.0M130.6 381.0h6.0M129.6 383.7h7.0M134.6 386.2h2.0M131.6 389.1h5.0M131.6 391.8h5.0M131.6 393.6h5.0M131.6 395.7h5.0M133.6 398.1h3.0M127.6 400.3h9.0M132.6 403.2h4.0M132.6 404.6h4.0M134.6 405.9h2.0M131.6 407.4h5.0M125.1 409.9h11.5M131.6 411.3h5.0M132.6 413.9h4.0M134.6 415.7h2.0M132.6 417.8h4.0M127.6 419.3h9.0M129.6 422.3h7.0M120.4 424.5h16.2M133.6 426.1h3.0M129.6 427.8h7.0M129.6 429.7h7.0M133.6 431.9h3.0M129.6 434.9h7.0M131.6 437.5h5.0M133.6 439.7h3.0M133.6 441.2h3.0M131.6 442.5h5.0M129.6 443.9h7.0M129.6 445.3h7.0M130.6 448.1h6.0M131.6 450.6h5.0M127.6 452.3h9.0M131.6 454.9h5.0M130.6 456.1h6.0M130.6 457.9h6.0M130.6 459.6h6.0M129.6 460.9h7.0M133.6 462.7h3.0M127.6 464.3h9.0M127.6 466.0h9.0M134.6 468.9h2.0M132.6 471.6h4.0M131.6 474.5h5.0M131.6 477.2h5.0M133.6 479.5h3.0M130.6 482.0h6.0M130.6 483.9h6.0M130.6 486.2h6.0M134.6 488.6h2.0M132.6 491.3h4.0M129.6 493.7h7.0M132.6 496.4h4.0M127.1 497.9h9.5M127.6 500.4h9.0M133.6 502.8h3.0M133.6 505.1h3.0M130.6 507.7h6.0M130.6 509.0h6.0M127.6 510.6h9.0M134.6 512.5h2.0M133.6 515.0h3.0M129.6 517.8h7.0M132.6 519.3h4.0M131.6 520.9h5.0M131.6 523.1h5.0M123.8 525.4h12.8M132.6 526.7h4.0M127.6 528.9h9.0M130.6 530.4h6.0M131.6 532.3h5.0M132.6 534.2h4.0M130.6 536.8h6.0M131.6 538.2h5.0M129.6 539.4h7.0M132.6 540.9h4.0M127.6 542.9h9.0M129.6 545.9h7.0M131.6 547.2h5.0M129.6 549.8h7.0M125.1 551.3h11.5M130.6 552.6h6.0M127.6 555.0h9.0M132.6 557.9h4.0M127.6 560.3h9.0M127.6 562.9h9.0M130.6 564.1h6.0M123.6 565.6h13.0M132.6 567.5h4.0M132.6 569.2h4.0M133.6 570.7h3.0M132.6 573.3h4.0M129.6 575.4h7.0M131.6 577.6h5.0M133.6 580.5h3.0M129.6 582.5h7.0M129.6 584.4h7.0M129.6 585.8h7.0M134.6 588.3h2.0M134.6 589.9h2.0M125.1 591.5h11.5M127.6 593.3h9.0M133.6 595.6h3.0M131.6 598.5h5.0M131.6 600.6h5.0M130.6 602.4h6.0M130.6 605.3h6.0M132.6 607.9h4.0M134.6 610.7h2.0M129.6 612.5h7.0M130.6 615.1h6.0M134.6 617.2h2.0M132.6 618.8h4.0M132.6 620.6h4.0M130.6 623.2h6.0M127.6 624.8h9.0M127.6 626.6h9.0M124.0 629.1h12.6M129.6 630.8h7.0M131.6 633.6h5.0M133.6 635.2h3.0M134.6 638.1h2.0M132.6 640.2h4.0M130.6 643.1h6.0M131.6 644.7h5.0M132.6 647.4h4.0M131.6 650.1h5.0M120.9 652.5h15.7M134.6 654.6h2.0M129.6 656.9h7.0M129.6 659.4h7.0M133.6 662.0h3.0M124.4 663.4h12.2M130.6 665.5h6.0M131.6 666.7h5.0M133.6 668.6h3.0M131.6 670.0h5.0M129.6 671.4h7.0M129.6 672.9h7.0M129.6 674.8h7.0M131.6 676.1h5.0M132.6 678.0h4.0M132.6 680.5h4.0M127.6 681.7h9.0M134.6 683.7h2.0M131.6 685.8h5.0M129.6 688.5h7.0M129.6 689.7h7.0M133.6 691.0h3.0M129.6 692.3h7.0M132.6 694.2h4.0M129.6 696.8h7.0M131.6 699.2h5.0M120.3 701.7h16.3M133.6 703.3h3.0M132.6 705.9h4.0M134.6 708.1h2.0M129.6 710.5h7.0M130.6 713.2h6.0M134.6 715.3h2.0M133.6 718.1h3.0M131.6 720.1h5.0M134.6 722.2h2.0M129.6 724.0h7.0M127.6 726.9h9.0M133.6 729.7h3.0M130.6 732.0h6.0M127.6 734.0h9.0M134.6 736.0h2.0M134.6 737.4h2.0M131.6 740.4h5.0M131.6 741.6h5.0M131.6 744.3h5.0M134.6 746.7h2.0M134.6 749.1h2.0M134.6 752.0h2.0M133.6 754.1h3.0M131.6 756.8h5.0M129.6 759.7h7.0M133.6 762.6h3.0M131.6 765.2h5.0M127.6 767.6h9.0M132.6 769.9h4.0M132.6 771.8h4.0M131.6 773.3h5.0M130.6 775.5h6.0M133.6 778.2h3.0M127.6 779.6h9.0M134.6 781.4h2.0M120.9 784.2h15.7M133.6 786.5h3.0M134.6 789.3h2.0M130.6 791.1h6.0M133.6 793.9h3.0M123.5 796.4h13.1M132.6 798.5h4.0M129.6 801.4h7.0M132.6 803.1h4.0M127.6 805.9h9.0M129.6 807.3h7.0M130.6 809.5h6.0M134.6 811.2h2.0M131.6 812.7h5.0M134.6 815.7h2.0M130.6 817.0h6.0M133.6 819.3h3.0M129.6 821.9h7.0M127.6 823.4h9.0M133.6 824.8h3.0M131.6 826.7h5.0M133.6 827.9h3.0M133.6 829.5h3.0M134.6 831.6h2.0M129.6 834.1h7.0M133.6 836.5h3.0M127.6 839.3h9.0M121.5 842.0h15.1M129.6 844.1h7.0M127.6 846.0h9.0M129.6 848.2h7.0M127.6 850.6h9.0M129.6 852.0h7.0M129.6 854.2h7.0M122.2 856.6h14.4M126.2 858.0h10.4M125.8 859.8h10.8M131.6 862.2h5.0M129.6 863.6h7.0M129.6 865.3h7.0M134.6 867.1h2.0M133.6 869.2h3.0M130.6 871.9h6.0M127.6 873.8h9.0M127.6 875.3h9.0M127.6 876.5h9.0M132.6 878.1h4.0M133.6 881.0h3.0M127.6 883.3h9.0M134.6 885.8h2.0M132.6 887.2h4.0M127.6 890.0h9.0M129.6 892.5h7.0M134.6 893.7h2.0M129.6 895.6h7.0M127.6 897.6h9.0M132.6 900.6h4.0M131.6 903.5h5.0M130.6 904.8h6.0M130.6 907.3h6.0M130.6 910.2h6.0M129.6 912.2h7.0M132.6 914.8h4.0M129.6 917.5h7.0M132.6 919.1h4.0M129.6 920.9h7.0M130.6 922.6h6.0M133.6 925.1h3.0M129.6 927.4h7.0M121.3 928.7h15.3M131.6 931.4h5.0M129.6 933.0h7.0M131.6 935.2h5.0M134.6 937.2h2.0M124.9 939.9h11.7M134.6 942.5h2.0M129.6 945.2h7.0M129.6 947.0h7.0M130.6 948.5h6.0M131.6 950.6h5.0M131.6 953.4h5.0M125.0 955.6h11.6M129.6 958.3h7.0M132.6 960.4h4.0M132.6 961.9h4.0M130.6 964.6h6.0M130.6 967.2h6.0M129.6 969.0h7.0M130.6 970.2h6.0M130.6 972.9h6.0M127.6 975.8h9.0M131.6 977.8h5.0M129.6 980.1h7.0M130.6 982.7h6.0M129.6 984.8h7.0M133.6 987.5h3.0M132.6 989.5h4.0M134.6 991.1h2.0M130.6 993.7h6.0M132.6 994.9h4.0M133.6 997.5h3.0M129.6 999.2h7.0M130.6 1000.9h6.0M127.6 1002.3h9.0M133.6 1004.7h3.0M132.6 1006.9h4.0M132.6 1009.9h4.0M127.6 1011.6h9.0M134.6 1013.5h2.0M130.6 1016.1h6.0M130.6 1018.5h6.0M133.6 1020.9h3.0M127.6 1022.6h9.0M133.6 1025.5h3.0M122.8 1027.4h13.8M123.9 1030.3h12.7M133.6 1031.9h3.0M130.6 1034.7h6.0M129.6 1037.0h7.0M126.5 1039.9h10.1M131.6 1041.7h5.0M130.6 1044.2h6.0M133.6 1046.6h3.0M131.6 1048.6h5.0M131.6 1050.7h5.0M134.6 1053.5h2.0M134.6 1056.1h2.0M133.6 1058.2h3.0M129.6 1061.0h7.0M134.6 1062.4h2.0M134.6 1063.9h2.0M131.6 1065.2h5.0M133.6 1066.8h3.0M134.6 1069.1h2.0M132.6 1071.0h4.0M132.6 1072.3h4.0M129.6 1074.1h7.0M134.6 1075.8h2.0M132.6 1077.9h4.0M133.6 1079.8h3.0M132.6 1081.3h4.0M129.6 1082.8h7.0M124.2 1085.6h12.4M129.6 1087.2h7.0M127.6 1090.1h9.0M129.6 1091.6h7.0M130.6 1093.1h6.0M130.6 1095.8h6.0M131.6 1098.4h5.0M122.2 1100.7h14.4M130.6 1103.3h6.0M132.6 1104.9h4.0M127.6 1106.5h9.0M127.6 1108.3h9.0M133.6 1109.9h3.0M129.6 1111.7h7.0M132.6 1113.9h4.0M130.6 1115.7h6.0M134.6 1117.6h2.0M133.6 1119.9h3.0M130.6 1121.5h6.0M132.6 1123.9h4.0M129.6 1125.2h7.0M132.6 1127.3h4.0M129.6 1128.6h7.0M133.6 1130.9h3.0M122.9 1132.8h13.7M130.6 1135.1h6.0M134.6 1137.7h2.0M132.6 1139.9h4.0M122.9 1142.7h13.7M129.6 1145.3h7.0M132.6 1148.0h4.0M122.2 1150.6h14.4M130.6 1152.3h6.0M132.6 1154.1h4.0M129.6 1155.9h7.0M134.6 1158.7h2.0M133.6 1161.1h3.0M132.6 1163.8h4.0M130.6 1165.7h6.0M129.6 1168.2h7.0M133.6 1169.4h3.0M132.6 1171.6h4.0M127.6 1174.5h9.0M123.1 1176.3h13.5M134.6 1178.9h2.0M127.6 1181.0h9.0M130.6 1182.9h6.0M133.6 1184.7h3.0M129.6 1186.5h7.0M127.6 1188.5h9.0M129.6 1190.4h7.0M127.6 1192.2h9.0M132.6 1194.3h4.0M127.1 1196.6h9.5M127.6 1198.1h9.0M132.6 1200.6h4.0M130.6 1202.5h6.0M132.6 1204.7h4.0M132.6 1206.5h4.0M134.6 1207.9h2.0M134.6 1210.3h2.0M131.6 1212.3h5.0M134.6 1214.8h2.0M130.6 1217.5h6.0M130.6 1219.8h6.0M130.6 1221.3h6.0M129.6 1222.7h7.0M127.6 1225.3h9.0M132.6 1226.9h4.0M131.6 1229.2h5.0M131.6 1230.6h5.0M131.6 1232.6h5.0"/>
<polygon fill="#060000" points="144.6,916.0 129.7,916.0 130.4,920.8 131.1,923.0 127.4,927.8 129.2,931.8 126.2,937.4 128.1,940.8 129.7,946.3 129.0,952.0 126.6,955.1 125.3,958.7 123.6,961.4 128.6,964.3 123.5,968.9 129.5,974.7 126.5,977.7 127.5,982.0 125.0,988.0 130.0,993.6 131.2,995.7 132.5,1000.0 131.9,1005.9 128.3,1010.5 123.8,1013.1 131.9,1016.3 130.6,1019.7 125.4,1024.4 132.4,1027.0 131.6,1032.5 127.1,1038.4 130.5,1040.6 123.4,1043.7 122.8,1045.9 131.0,1051.1 131.7,1055.4 131.0,1057.9 131.9,1063.1 131.9,1067.0 132.3,1070.1 131.3,1075.7 124.5,1079.7 129.3,1084.2 122.6,1089.8 128.5,1095.1 127.6,1099.6 123.7,1103.0 127.8,1105.4 124.5,1109.9 126.8,1112.9 127.5,1118.1 130.9,1121.5 124.5,1125.7 130.5,1130.0 124.0,1135.4 125.5,1139.3 127.3,1143.5 124.4,1147.6 129.0,1150.9 125.1,1153.7 131.3,1156.2 124.7,1160.6 129.2,1164.9 132.0,1168.8 127.3,1173.6 129.0,1179.1 130.8,1184.4 129.1,1186.7 122.7,1191.7 131.3,1196.7 130.5,1200.7 125.1,1204.2 129.4,1209.4 124.0,1213.4 127.5,1216.9 131.1,1221.2 127.3,1224.0 124.7,1229.0 128.1,1232.7 144.6,1235.0"/>
<polygon fill="#060000" points="140.6,910.0 82.6,916.2 82.6,917.8 140.6,924.0"/>
<polygon fill="#060000" points="140.6,922.0 104.6,925.2 104.6,926.8 140.6,930.0"/>
<polygon fill="#060000" points="140.6,935.0 102.6,939.2 102.6,940.8 140.6,945.0"/>
<polygon fill="#060000" points="140.6,1016.0 86.6,1024.2 86.6,1025.8 140.6,1034.0"/>
<polygon fill="#060000" points="140.6,1029.0 99.6,1033.2 99.6,1034.8 140.6,1039.0"/>
<polygon fill="#060000" points="140.6,1113.0 92.6,1119.2 92.6,1120.8 140.6,1127.0"/>
<polygon fill="#060000" points="140.6,1145.0 96.6,1152.2 96.6,1153.8 140.6,1161.0"/>
<polygon fill="#060000" points="140.6,1055.0 110.6,1059.2 110.6,1060.8 140.6,1065.0"/>
<polygon fill="#060000" points="140.6,1180.0 114.6,1184.2 114.6,1185.8 140.6,1190.0"/>
<polygon fill="#060000" points="140.6,402.0 122.6,405.2 122.6,406.8 140.6,410.0"/>
<polygon fill="#060000" points="140.6,503.0 124.6,506.2 124.6,507.8 140.6,511.0"/>
<path fill="none" stroke="#000" stroke-width="1.9" d="M1600.8 50.2H1597.6V52.1H1599.8M1596.8 48.1H1589.4V51.1H1597.6M1594.7 54.1H1588.2V56.1H1595.7M1589.4 49.6H1575.0V55.1H1588.2M1601.9 57.8H1600.4V59.3H1601.6M1601.9 61.2H1600.3V64.8H1601.8M1600.4 58.5H1598.4V63.0H1600.3M1601.8 68.6H1600.0V72.0H1601.2M1601.5 74.9H1600.3V77.1H1601.9M1600.0 70.3H1598.3V76.0H1600.3M1598.4 60.8H1593.7V73.2H1598.3M1601.0 79.6H1599.5V81.6H1601.1M1601.8 83.5H1601.0V85.7H1601.8M1601.0 84.6H1597.8V88.2H1600.1M1599.5 80.6H1594.0V86.4H1597.8M1593.7 67.0H1589.0V83.5H1594.0M1600.4 90.5H1598.0V93.1H1601.1M1601.6 95.9H1600.4V97.7H1602.0M1600.4 96.8H1598.7V99.8H1601.3M1598.0 91.8H1594.7V98.3H1598.7M1601.4 102.9H1599.5V105.3H1601.7M1601.6 106.8H1600.5V108.8H1601.8M1601.7 111.2H1600.8V114.1H1601.7M1600.5 107.8H1597.7V112.6H1600.8M1599.5 104.1H1594.6V110.2H1597.7M1594.7 95.0H1588.0V107.2H1594.6M1589.0 75.2H1580.0V101.1H1588.0M1600.0 117.1H1598.2V119.3H1600.3M1601.4 127.1H1600.4V129.2H1601.8M1601.0 123.2H1598.6V128.1H1600.4M1598.2 118.2H1592.8V125.7H1598.6M1601.5 131.0H1600.4V132.5H1601.7M1601.4 134.5H1600.1V136.9H1601.6M1600.4 131.8H1597.4V135.7H1600.1M1600.6 138.7H1598.3V141.2H1601.1M1597.4 133.8H1592.4V139.9H1598.3M1592.8 121.9H1587.5V136.9H1592.4M1601.8 144.0H1600.9V146.5H1601.8M1600.9 145.2H1598.7V149.1H1600.8M1601.9 151.0H1600.8V152.4H1602.0M1600.8 151.7H1598.5V154.4H1601.1M1598.7 147.2H1594.8V153.1H1598.5M1601.7 156.4H1600.4V158.3H1601.9M1601.5 161.5H1599.8V164.4H1601.7M1600.4 157.3H1596.4V162.9H1599.8M1594.8 150.1H1588.4V160.1H1596.4M1587.5 129.4H1582.9V155.1H1588.4M1601.9 166.7H1600.3V170.4H1601.7M1601.4 173.6H1600.2V175.1H1601.4M1600.3 168.6H1597.2V174.3H1600.2M1601.7 176.8H1600.2V178.5H1601.8M1600.9 180.4H1599.3V183.4H1601.5M1600.2 177.6H1596.0V181.9H1599.3M1597.2 171.4H1591.0V179.8H1596.0M1600.8 186.3H1598.9V189.9H1601.2M1601.3 193.4H1599.4V196.6H1601.0M1601.8 200.0H1600.7V202.2H1602.0M1602.1 203.8H1600.9V205.4H1602.1M1600.7 201.1H1599.2V204.6H1600.9M1599.4 195.0H1597.0V202.9H1599.2M1598.9 188.1H1593.0V198.9H1597.0M1591.0 175.6H1586.3V193.5H1593.0M1601.4 208.8H1599.7V212.6H1601.6M1601.5 214.9H1599.1V216.6H1601.1M1599.7 210.7H1596.0V215.7H1599.1M1601.3 218.7H1599.1V221.4H1601.2M1602.0 223.3H1600.9V224.9H1602.1M1600.9 224.1H1599.4V227.9H1601.3M1599.1 220.1H1594.6V226.0H1599.4M1596.0 213.2H1589.0V223.0H1594.6M1586.3 184.6H1581.7V218.1H1589.0M1582.9 142.3H1576.0V201.3H1581.7M1580.0 88.2H1557.7V171.8H1576.0M1601.9 237.1H1600.7V238.4H1601.7M1601.2 233.1H1598.9V237.8H1600.7M1601.1 239.7H1599.6V242.5H1601.4M1598.9 235.4H1595.7V241.1H1599.6M1601.9 247.7H1600.3V249.8H1601.8M1600.9 245.4H1597.8V248.8H1600.3M1601.3 252.0H1599.6V255.1H1601.1M1597.8 247.1H1594.8V253.6H1599.6M1595.7 238.3H1590.2V250.3H1594.8M1601.1 258.8H1599.3V263.2H1601.1M1601.1 266.8H1598.3V268.9H1600.3M1599.3 261.0H1595.4V267.9H1598.3M1602.1 271.3H1600.8V273.2H1602.1M1600.8 272.2H1599.2V277.5H1601.1M1601.9 282.2H1600.7V284.5H1601.7M1601.8 286.7H1600.8V288.8H1602.1M1600.7 283.3H1598.3V287.7H1600.8M1599.2 274.9H1595.8V285.5H1598.3M1595.4 264.4H1591.8V280.2H1595.8M1590.2 244.3H1584.0V272.3H1591.8M1602.0 290.9H1600.4V292.4H1601.5M1601.0 294.0H1599.6V295.5H1601.7M1600.4 291.6H1596.3V294.7H1599.6M1601.0 297.3H1599.7V301.5H1601.2M1601.8 305.3H1600.0V307.9H1601.2M1599.7 299.4H1595.9V306.6H1600.0M1596.3 293.2H1590.1V303.0H1595.9M1601.6 310.9H1599.9V313.7H1601.3M1601.5 315.8H1600.2V317.3H1601.7M1599.9 312.3H1598.1V316.6H1600.2M1601.0 319.1H1598.7V321.3H1600.3M1598.1 314.4H1594.3V320.2H1598.7M1601.8 323.5H1600.6V325.6H1601.6M1601.6 328.0H1599.7V331.3H1601.4M1600.6 324.5H1597.6V329.7H1599.7M1601.5 333.9H1599.5V335.8H1600.9M1601.3 338.2H1600.1V341.2H1601.6M1599.5 334.9H1595.7V339.7H1600.1M1597.6 327.1H1590.9V337.3H1595.7M1594.3 317.3H1586.0V332.2H1590.9M1590.1 298.1H1582.0V324.8H1586.0M1584.0 258.3H1565.0V311.4H1582.0M1601.6 344.8H1599.4V348.7H1601.4M1601.4 352.0H1600.3V354.1H1601.8M1599.4 346.8H1596.6V353.0H1600.3M1601.6 358.3H1600.1V360.5H1601.3M1600.4 356.0H1597.8V359.4H1600.1M1601.9 363.0H1601.0V365.7H1602.2M1601.0 364.3H1599.4V368.4H1601.1M1601.3 372.3H1600.2V376.5H1601.8M1599.4 366.3H1596.5V374.4H1600.2M1597.8 357.7H1592.5V370.4H1596.5M1596.6 349.9H1588.6V364.0H1592.5M1601.1 379.6H1599.8V382.3H1601.4M1602.1 384.1H1600.8V386.3H1602.0M1601.5 390.4H1600.3V395.0H1601.6M1600.8 385.2H1598.5V392.7H1600.3M1599.8 381.0H1596.1V388.9H1598.5M1601.9 399.7H1600.6V401.5H1601.9M1600.5 397.9H1598.6V400.6H1600.6M1601.2 403.7H1599.5V406.1H1601.6M1598.6 399.2H1595.4V404.9H1599.5M1596.1 384.9H1589.7V402.1H1595.4M1588.6 357.0H1584.8V393.5H1589.7M1601.4 409.4H1599.4V413.8H1601.1M1601.5 417.3H1599.3V420.5H1601.0M1599.4 411.6H1594.5V418.9H1599.3M1601.3 424.3H1599.3V427.2H1601.4M1601.0 429.3H1599.5V431.3H1601.3M1599.3 425.8H1597.2V430.3H1599.5M1594.5 415.2H1590.7V428.1H1597.2M1601.7 433.2H1599.6V436.0H1601.2M1601.5 440.2H1599.5V443.3H1601.1M1599.6 434.6H1595.7V441.8H1599.5M1601.4 445.5H1600.1V448.7H1601.3M1601.9 451.8H1600.3V454.5H1601.6M1600.1 447.1H1597.1V453.2H1600.3M1595.7 438.2H1589.6V450.1H1597.1M1590.7 421.6H1584.1V444.2H1589.6M1584.8 375.2H1578.0V432.9H1584.1M1601.5 457.3H1600.4V460.3H1601.9M1602.0 464.3H1600.8V470.5H1602.0M1600.4 458.8H1598.3V467.4H1600.8M1602.0 482.7H1600.9V484.8H1601.8M1601.2 478.0H1599.2V483.7H1600.9M1598.3 463.1H1594.3V480.9H1599.2M1601.3 488.8H1599.9V494.4H1601.3M1601.9 498.8H1600.3V504.3H1601.9M1599.9 491.6H1596.9V501.6H1600.3M1601.7 509.2H1600.6V512.8H1601.8M1601.7 517.1H1600.7V520.3H1601.8M1600.6 511.0H1597.6V518.7H1600.7M1596.9 496.6H1591.6V514.8H1597.6M1594.3 472.0H1587.8V505.7H1591.6M1601.1 523.6H1599.7V527.8H1601.3M1601.1 531.8H1599.1V534.3H1600.7M1599.7 525.7H1596.3V533.0H1599.1M1601.2 535.9H1599.7V537.2H1601.2M1601.0 539.4H1599.5V542.3H1601.2M1599.7 536.5H1595.8V540.8H1599.5M1596.3 529.4H1588.5V538.7H1595.8M1601.5 545.4H1599.3V548.7H1601.6M1601.6 551.1H1600.6V554.5H1602.0M1600.6 552.8H1598.9V558.7H1601.2M1599.3 547.0H1594.6V555.8H1598.9M1601.4 561.5H1600.3V564.0H1601.9M1601.6 567.8H1599.5V570.9H1601.3M1600.3 562.8H1597.0V569.4H1599.5M1594.6 551.4H1590.8V566.1H1597.0M1588.5 534.0H1583.2V558.7H1590.8M1587.8 488.9H1580.0V546.4H1583.2M1578.0 404.1H1560.0V517.6H1580.0M1565.0 284.9H1550.8V460.8H1560.0M1557.7 130.0H1543.2V372.9H1550.8M1575.0 52.4H1527.7V251.4H1543.2M1601.8 574.3H1600.2V575.8H1601.5M1599.9 572.6H1597.7V575.0H1600.2M1602.0 577.0H1600.6V579.6H1601.9M1601.7 582.8H1599.9V584.9H1601.8M1600.6 578.3H1597.0V583.8H1599.9M1597.7 573.8H1592.6V581.1H1597.0M1600.9 586.9H1599.2V589.5H1601.2M1602.2 591.7H1600.8V593.3H1602.1M1601.9 595.1H1600.4V597.6H1601.9M1600.8 592.5H1598.7V596.4H1600.4M1599.2 588.2H1595.8V594.4H1598.7M1601.8 599.7H1599.9V601.6H1601.3M1601.7 604.9H1600.6V606.3H1601.7M1601.1 603.7H1598.5V605.6H1600.6M1599.9 600.7H1595.6V604.6H1598.5M1595.8 591.3H1591.5V602.7H1595.6M1592.6 577.4H1584.4V597.0H1591.5M1601.1 608.0H1598.9V610.2H1601.4M1598.9 609.1H1596.4V612.5H1599.4M1601.3 614.4H1600.0V615.8H1601.3M1601.3 617.1H1599.3V618.5H1600.9M1600.0 615.1H1597.0V617.8H1599.3M1596.4 610.8H1591.6V616.4H1597.0M1602.1 620.0H1600.6V621.4H1601.5M1600.6 620.7H1598.3V622.3H1601.0M1601.6 624.0H1599.7V627.1H1601.6M1598.3 621.5H1595.2V625.5H1599.7M1591.6 613.6H1585.3V623.5H1595.2M1584.4 587.2H1578.0V618.6H1585.3M1602.0 631.8H1600.4V633.3H1601.4M1601.0 630.1H1598.2V632.6H1600.4M1601.8 638.2H1600.4V640.4H1601.6M1601.1 635.9H1598.1V639.3H1600.4M1598.2 631.4H1595.0V637.6H1598.1M1601.4 642.9H1600.0V644.8H1601.3M1601.4 646.0H1599.9V647.3H1601.5M1600.0 643.9H1596.4V646.6H1599.9M1601.3 650.7H1599.6V652.4H1601.6M1599.2 649.0H1596.7V651.5H1599.6M1596.4 645.2H1591.5V650.3H1596.7M1595.0 634.5H1585.8V647.8H1591.5M1601.7 656.6H1600.9V657.9H1601.9M1601.4 654.7H1599.4V657.3H1600.9M1601.5 659.7H1600.4V661.4H1601.9M1601.8 662.7H1600.0V664.7H1601.6M1600.4 660.6H1598.1V663.7H1600.0M1599.4 656.0H1594.1V662.1H1598.1M1601.7 672.1H1600.8V673.8H1602.1M1601.6 669.9H1599.4V673.0H1600.8M1599.9 667.3H1596.8V671.4H1599.4M1601.6 676.9H1599.6V680.1H1601.6M1601.6 682.4H1600.1V685.8H1601.6M1599.6 678.5H1596.8V684.1H1600.1M1596.8 669.4H1591.9V681.3H1596.8M1594.1 659.0H1585.7V675.3H1591.9M1585.8 641.1H1580.0V667.2H1585.7M1578.0 602.9H1556.0V654.2H1580.0M1601.6 689.4H1599.6V692.2H1601.6M1601.7 695.7H1599.8V698.8H1601.3M1599.6 690.8H1595.3V697.3H1599.8M1602.1 700.5H1600.7V702.3H1601.9M1602.1 704.2H1600.7V706.5H1602.0M1600.7 701.4H1597.4V705.3H1600.7M1595.3 694.0H1591.6V703.4H1597.4M1601.2 709.2H1599.8V711.4H1601.5M1601.2 715.3H1599.5V719.3H1601.2M1599.8 710.3H1597.0V717.3H1599.5M1601.4 725.0H1599.2V727.8H1601.0M1599.1 721.9H1596.6V726.4H1599.2M1597.0 713.8H1592.1V724.2H1596.6M1591.6 698.7H1581.3V719.0H1592.1M1601.4 733.3H1599.9V736.9H1601.7M1601.0 730.6H1598.0V735.1H1599.9M1601.7 740.5H1599.8V743.1H1601.4M1599.8 741.8H1597.0V745.9H1599.6M1598.0 732.9H1592.2V743.8H1597.0M1601.3 748.2H1598.5V750.0H1601.3M1601.7 751.7H1600.7V753.5H1601.7M1601.5 755.1H1600.2V756.5H1601.6M1600.7 752.6H1597.9V755.8H1600.2M1598.5 749.1H1594.2V754.2H1597.9M1592.2 738.3H1582.7V751.7H1594.2M1581.3 708.8H1576.0V745.0H1582.7M1601.6 757.7H1600.4V759.7H1601.9M1600.4 758.7H1597.7V762.1H1600.4M1601.7 763.7H1600.3V764.9H1601.7M1601.5 766.7H1599.8V769.1H1601.3M1600.3 764.3H1597.4V767.9H1599.8M1597.7 760.4H1593.3V766.1H1597.4M1600.1 771.1H1597.4V772.6H1600.3M1602.1 777.8H1600.8V779.6H1601.8M1601.2 775.3H1598.8V778.7H1600.8M1597.4 771.8H1592.9V777.0H1598.8M1593.3 763.3H1587.7V774.4H1592.9M1600.1 781.6H1598.0V783.8H1599.9M1601.6 786.0H1599.7V788.1H1601.3M1601.4 790.7H1599.4V793.3H1600.9M1599.7 787.0H1596.7V792.0H1599.4M1598.0 782.7H1590.5V789.5H1596.7M1601.2 795.4H1599.9V797.4H1601.5M1601.4 799.3H1600.2V800.9H1601.5M1599.9 796.4H1597.0V800.1H1600.2M1602.0 802.5H1600.9V804.2H1601.8M1600.9 803.3H1599.3V805.9H1601.1M1602.0 807.5H1600.6V809.7H1601.7M1601.9 812.8H1600.9V815.2H1602.0M1600.6 808.6H1598.5V814.0H1600.9M1599.3 804.6H1595.1V811.3H1598.5M1597.0 798.3H1591.4V808.0H1595.1M1590.5 786.1H1584.7V803.1H1591.4M1587.7 768.8H1580.0V794.6H1584.7M1576.0 726.9H1552.0V781.7H1580.0M1556.0 628.5H1542.0V754.3H1552.0M1527.7 151.9H1508.5V691.4H1542.0M1601.3 816.4H1598.8V817.8H1600.4M1598.8 817.1H1594.0V819.7H1597.7M1594.0 818.4H1585.1V821.4H1592.3M1601.3 824.9H1598.9V826.6H1601.4M1599.9 823.0H1595.0V825.8H1598.9M1601.7 828.7H1600.7V830.1H1601.7M1601.0 827.7H1598.4V829.4H1600.7M1598.4 828.6H1594.5V832.1H1598.3M1595.0 824.4H1588.9V830.3H1594.5M1585.1 819.9H1572.0V827.3H1588.9M1601.4 835.6H1599.3V837.6H1601.6M1599.7 833.8H1596.4V836.6H1599.3M1599.7 839.5H1596.7V841.7H1600.5M1596.4 835.2H1589.8V840.6H1596.7M1601.3 843.6H1599.7V845.1H1601.4M1599.7 844.4H1597.1V846.5H1600.1M1600.1 848.0H1598.0V849.3H1601.1M1597.1 845.4H1590.4V848.6H1598.0M1589.8 837.9H1574.0V847.0H1590.4M1572.0 823.6H1550.0V842.4H1574.0M1601.2 854.2H1599.7V856.0H1601.1M1599.3 852.9H1594.9V855.1H1599.7M1596.6 851.1H1587.0V854.0H1594.9M1600.7 857.8H1598.1V859.6H1600.1M1601.2 861.5H1598.3V863.3H1600.6M1598.1 858.7H1593.2V862.4H1598.3M1601.6 866.1H1599.7V867.6H1601.5M1599.5 864.8H1594.6V866.9H1599.7M1593.2 860.6H1587.4V865.8H1594.6M1587.0 852.6H1576.3V863.2H1587.4M1601.7 870.9H1600.4V872.5H1601.7M1600.4 871.7H1597.3V874.4H1600.3M1597.2 869.4H1592.8V873.1H1597.3M1601.6 875.9H1600.6V877.2H1602.1M1600.6 876.5H1597.8V879.1H1600.4M1601.5 881.5H1600.4V883.5H1601.6M1600.4 882.5H1598.3V885.1H1600.7M1597.8 877.8H1593.1V883.8H1598.3M1592.8 871.2H1584.2V880.8H1593.1M1576.3 857.9H1566.0V876.0H1584.2M1601.4 886.5H1598.9V888.1H1601.3M1598.9 887.3H1595.0V890.4H1599.4M1601.1 892.4H1599.6V893.8H1601.3M1599.6 893.1H1596.7V895.3H1599.7M1595.0 888.9H1587.7V894.2H1596.7M1600.7 897.3H1598.4V898.9H1600.4M1601.2 900.4H1599.8V902.1H1601.4M1598.4 898.1H1595.3V901.3H1599.8M1601.2 904.0H1599.9V905.4H1601.3M1601.1 906.9H1599.1V908.7H1600.8M1599.9 904.7H1596.5V907.8H1599.1M1595.3 899.7H1588.8V906.2H1596.5M1587.7 891.5H1578.4V903.0H1588.8M1600.2 910.1H1597.9V911.6H1600.8M1599.6 913.1H1597.4V914.6H1599.7M1597.9 910.9H1592.1V913.9H1597.4M1601.8 918.4H1600.7V920.2H1602.1M1600.5 916.5H1598.1V919.3H1600.7M1602.0 922.9H1600.8V924.1H1601.7M1600.2 921.8H1598.3V923.5H1600.8M1598.1 917.9H1594.2V922.6H1598.3M1592.1 912.4H1585.5V920.3H1594.2M1578.4 897.2H1570.0V916.3H1585.5M1602.1 927.5H1600.7V929.0H1601.9M1600.1 925.8H1598.3V928.3H1600.7M1601.3 930.0H1598.9V931.5H1600.7M1598.3 927.0H1594.6V930.7H1598.9M1601.1 933.6H1599.1V935.5H1601.4M1601.3 937.4H1600.2V939.0H1601.8M1599.1 934.5H1595.7V938.2H1600.2M1594.6 928.9H1585.4V936.4H1595.7M1601.3 941.0H1599.8V944.4H1601.7M1601.1 946.8H1599.6V948.1H1601.7M1599.8 942.7H1596.3V947.4H1599.6M1601.8 951.6H1600.0V953.1H1601.7M1600.8 950.0H1597.7V952.4H1600.0M1596.3 945.1H1592.7V951.2H1597.7M1600.5 957.4H1598.6V959.2H1600.4M1598.6 955.2H1591.7V958.3H1598.6M1592.7 948.1H1584.2V956.7H1591.7M1585.4 932.6H1572.0V952.4H1584.2M1570.0 906.8H1548.0V942.5H1572.0M1566.0 866.9H1536.7V924.7H1548.0M1550.0 833.0H1534.0V895.8H1536.7M1598.6 961.0H1595.3V962.4H1598.9M1600.3 963.9H1598.1V965.5H1600.0M1601.0 967.1H1598.0V968.6H1600.9M1598.1 964.7H1595.0V967.8H1598.0M1595.3 961.7H1584.5V966.2H1595.0M1598.4 969.9H1593.6V971.7H1598.3M1593.6 970.8H1584.6V973.8H1594.0M1584.5 964.0H1560.0V972.3H1584.6M1598.6 975.9H1593.9V978.1H1598.1M1600.3 980.5H1598.1V982.2H1600.2M1598.1 981.3H1593.3V983.6H1597.5M1593.9 977.0H1586.1V982.5H1593.3M1602.1 987.7H1600.9V989.3H1602.0M1600.9 988.5H1599.6V990.8H1601.4M1599.8 985.6H1596.0V989.7H1599.6M1600.5 992.3H1596.8V993.8H1600.0M1596.8 993.0H1592.9V995.7H1597.8M1596.0 987.6H1586.2V994.4H1592.9M1586.1 979.7H1574.8V991.0H1586.2M1600.2 997.3H1596.7V998.7H1599.8M1596.7 998.0H1591.8V1000.2H1598.4M1598.6 1002.2H1595.4V1004.2H1599.9M1591.8 999.1H1583.3V1003.2H1595.4M1574.8 985.4H1562.0V1001.1H1583.3M1560.0 968.1H1528.9V993.2H1562.0M1601.7 1007.5H1600.1V1009.2H1601.8M1598.6 1005.9H1595.4V1008.3H1600.1M1595.4 1007.1H1590.8V1011.3H1598.1M1600.7 1013.3H1598.5V1014.7H1601.0M1600.9 1016.3H1598.6V1018.2H1601.2M1598.5 1014.0H1594.9V1017.2H1598.6M1598.8 1020.1H1594.9V1021.6H1598.7M1594.9 1015.6H1588.9V1020.9H1594.9M1590.8 1009.2H1578.5V1018.3H1588.9M1601.7 1023.7H1599.8V1026.2H1601.6M1600.9 1027.8H1599.0V1029.6H1601.3M1599.8 1025.0H1596.4V1028.7H1599.0M1601.5 1033.8H1600.5V1036.3H1601.8M1600.3 1031.9H1598.5V1035.1H1600.5M1601.5 1038.7H1599.9V1040.5H1601.6M1598.5 1033.5H1595.5V1039.6H1599.9M1596.4 1026.8H1590.3V1036.5H1595.5M1600.8 1043.6H1599.0V1044.9H1600.6M1599.4 1042.1H1596.5V1044.2H1599.0M1601.7 1047.6H1599.9V1049.0H1601.1M1600.3 1046.3H1596.8V1048.3H1599.9M1596.5 1043.2H1588.3V1047.3H1596.8M1590.3 1031.7H1578.2V1045.2H1588.3M1578.5 1013.7H1564.0V1038.5H1578.2M1601.9 1052.8H1600.1V1054.8H1601.8M1600.5 1051.0H1596.9V1053.8H1600.1M1601.9 1057.4H1600.3V1059.9H1601.6M1601.5 1061.3H1600.4V1062.7H1601.9M1600.3 1058.7H1597.3V1062.0H1600.4M1596.9 1052.4H1591.0V1060.3H1597.3M1600.4 1064.3H1598.0V1065.9H1600.1M1600.3 1068.1H1598.3V1070.4H1601.0M1598.0 1065.1H1591.0V1069.2H1598.3M1591.0 1056.4H1578.4V1067.2H1591.0M1600.6 1072.7H1598.6V1074.8H1600.5M1601.8 1076.7H1600.9V1078.4H1602.1M1601.9 1080.1H1600.9V1081.4H1601.9M1600.9 1077.6H1597.8V1080.8H1600.9M1598.6 1073.8H1593.5V1079.2H1597.8M1601.1 1082.6H1599.8V1083.9H1601.7M1599.8 1083.2H1594.8V1085.3H1599.8M1593.5 1076.5H1587.0V1084.3H1594.8M1600.4 1087.0H1598.7V1088.7H1600.6M1598.7 1087.8H1595.2V1090.4H1599.8M1601.1 1092.3H1599.1V1094.4H1601.0M1602.2 1098.3H1600.9V1099.7H1601.9M1601.2 1096.4H1599.2V1099.0H1600.9M1599.1 1093.3H1595.3V1097.7H1599.2M1595.2 1089.1H1589.6V1095.5H1595.3M1601.8 1101.3H1599.8V1102.6H1601.8M1601.0 1103.5H1599.3V1105.3H1601.0M1599.8 1101.9H1596.4V1104.4H1599.3M1601.7 1107.7H1600.0V1109.5H1601.7M1601.8 1110.9H1600.3V1113.0H1601.7M1600.0 1108.6H1597.7V1112.0H1600.3M1601.6 1115.2H1599.5V1118.1H1601.1M1597.7 1110.3H1594.4V1116.6H1599.5M1596.4 1103.2H1589.4V1113.4H1594.4M1589.6 1092.3H1580.4V1108.3H1589.4M1587.0 1080.4H1573.6V1100.3H1580.4M1578.4 1061.8H1562.0V1090.3H1573.6M1564.0 1026.1H1539.5V1076.1H1562.0M1601.3 1120.8H1598.8V1122.2H1601.1M1600.7 1123.9H1597.5V1126.4H1600.7M1598.8 1121.5H1592.1V1125.2H1597.5M1602.1 1128.6H1600.7V1130.2H1601.9M1600.7 1129.4H1596.9V1131.6H1600.2M1600.1 1133.0H1598.1V1134.4H1601.0M1596.9 1130.5H1592.4V1133.7H1598.1M1592.1 1123.3H1583.7V1132.1H1592.4M1601.1 1136.6H1599.3V1138.8H1600.9M1601.3 1141.9H1598.8V1144.8H1601.2M1599.3 1137.7H1594.3V1143.4H1598.8M1601.2 1146.3H1598.7V1147.6H1601.1M1601.0 1148.8H1598.2V1150.2H1601.1M1598.7 1146.9H1594.7V1149.5H1598.2M1594.3 1140.5H1584.3V1148.2H1594.7M1583.7 1127.7H1566.0V1144.4H1584.3M1601.3 1152.1H1599.7V1154.2H1601.3M1599.7 1153.1H1597.4V1156.2H1600.7M1601.4 1157.7H1600.1V1159.5H1601.9M1601.3 1162.9H1600.2V1166.3H1601.7M1600.1 1158.6H1598.1V1164.6H1600.2M1597.4 1154.7H1593.6V1161.6H1598.1M1602.0 1168.3H1600.3V1170.3H1601.9M1601.9 1173.5H1600.4V1176.5H1601.7M1600.3 1169.3H1598.5V1175.0H1600.4M1602.0 1178.5H1600.9V1180.0H1602.2M1600.9 1179.3H1598.3V1181.1H1601.1M1598.5 1172.1H1592.9V1180.2H1598.3M1593.6 1158.1H1584.6V1176.1H1592.9M1600.4 1182.3H1598.1V1183.7H1601.1M1598.1 1183.0H1595.1V1185.4H1599.9M1602.1 1189.4H1600.8V1190.7H1601.8M1600.8 1187.4H1599.1V1190.0H1600.8M1600.6 1191.6H1598.3V1193.1H1601.0M1599.1 1188.7H1594.0V1192.3H1598.3M1595.1 1184.2H1585.2V1190.5H1594.0M1584.6 1167.1H1575.4V1187.4H1585.2M1601.1 1194.8H1599.2V1196.1H1601.5M1601.5 1198.4H1599.9V1200.8H1601.5M1599.2 1195.4H1596.4V1199.6H1599.9M1601.3 1203.9H1599.7V1205.3H1601.2M1600.4 1202.3H1596.3V1204.6H1599.7M1596.4 1197.5H1590.1V1203.4H1596.3M1601.1 1209.0H1599.7V1211.0H1601.3M1598.8 1206.8H1595.3V1210.0H1599.7M1601.7 1214.1H1600.8V1215.5H1601.9M1600.8 1214.8H1598.3V1217.2H1600.8M1597.2 1212.7H1593.5V1216.0H1598.3M1595.3 1208.4H1584.1V1214.3H1593.5M1590.1 1200.5H1575.1V1211.4H1584.1M1575.4 1177.3H1562.0V1205.9H1575.1M1566.0 1136.0H1537.3V1191.6H1562.0M1539.5 1051.1H1523.3V1163.8H1537.3M1528.9 980.7H1507.3V1107.4H1523.3M1534.0 864.4H1494.8V1044.1H1507.3M1508.5 421.7H1472.5V954.2H1494.8"/>
<rect x="1598.0" y="47.0" width="9.5" height="1171.0" fill="#060000"/>
<path fill="none" stroke="#000" stroke-width="1.6" d="M1592.0 47.0h7.0M1592.0 48.3h7.0M1586.3 50.8h12.7M1590.0 52.8h9.0M1592.0 55.4h7.0M1597.0 57.8h2.0M1590.0 59.4h9.0M1595.0 62.3h4.0M1593.0 64.2h6.0M1592.0 66.2h7.0M1592.0 67.7h7.0M1588.4 70.2h10.6M1592.0 73.1h7.0M1597.0 75.3h2.0M1583.4 76.8h15.6M1590.0 78.7h9.0M1597.0 80.8h2.0M1590.0 82.8h9.0M1593.0 84.8h6.0M1584.4 86.8h14.6M1594.0 89.2h5.0M1595.0 91.2h4.0M1594.0 93.3h5.0M1596.0 96.0h3.0M1596.0 97.3h3.0M1592.0 99.9h7.0M1593.0 102.0h6.0M1590.0 103.7h9.0M1590.0 105.3h9.0M1596.0 107.3h3.0M1595.0 109.2h4.0M1595.0 111.0h4.0M1596.0 113.1h3.0M1593.0 115.5h6.0M1596.0 117.1h3.0M1594.0 118.5h5.0M1597.0 120.2h2.0M1586.8 123.0h12.2M1593.0 125.4h6.0M1596.0 128.1h3.0M1586.2 129.8h12.8M1597.0 131.8h2.0M1594.0 134.0h5.0M1595.0 135.4h4.0M1592.0 137.4h7.0M1596.0 138.9h3.0M1592.0 140.1h7.0M1594.0 141.3h5.0M1595.0 144.2h4.0M1590.0 146.2h9.0M1593.0 148.2h6.0M1594.0 150.9h5.0M1596.0 153.3h3.0M1596.0 156.0h3.0M1597.0 157.9h2.0M1594.0 160.8h5.0M1593.0 162.0h6.0M1594.0 163.2h5.0M1595.0 165.7h4.0M1593.0 167.2h6.0M1593.0 170.1h6.0M1593.0 171.4h6.0M1594.0 173.0h5.0M1590.0 175.1h9.0M1593.0 177.5h6.0M1593.0 180.1h6.0M1596.0 182.9h3.0M1595.0 184.4h4.0M1595.0 187.3h4.0M1593.0 188.5h6.0M1592.0 189.8h7.0M1589.8 192.2h9.2M1597.0 194.1h2.0M1587.2 196.7h11.8M1594.0 198.6h5.0M1590.0 201.0h9.0M1593.0 203.3h6.0M1592.0 205.2h7.0M1588.1 206.9h10.9M1592.0 209.4h7.0M1592.0 212.4h7.0M1594.0 213.7h5.0M1592.0 215.1h7.0M1593.0 216.7h6.0M1590.0 219.5h9.0M1596.0 221.1h3.0M1594.0 223.1h5.0M1594.0 225.0h5.0M1596.0 226.7h3.0M1596.0 229.7h3.0M1592.0 232.5h7.0M1590.0 234.3h9.0M1594.0 236.2h5.0M1596.0 239.0h3.0M1595.0 240.6h4.0M1596.0 242.7h3.0M1592.0 245.3h7.0M1596.0 246.7h3.0M1593.0 249.1h6.0M1593.0 251.0h6.0M1595.0 253.5h4.0M1590.0 255.6h9.0M1594.0 257.9h5.0M1595.0 259.2h4.0M1582.5 260.8h16.5M1595.0 262.7h4.0M1590.0 265.2h9.0M1592.0 268.0h7.0M1594.0 270.3h5.0M1593.0 273.0h6.0M1596.0 275.1h3.0M1586.0 277.5h13.0M1597.0 278.9h2.0M1597.0 281.7h2.0M1585.6 283.4h13.4M1590.0 286.4h9.0M1585.6 288.6h13.4M1594.0 290.3h5.0M1592.0 292.0h7.0M1585.5 293.9h13.5M1593.0 296.0h6.0M1596.0 297.5h3.0M1594.0 298.9h5.0M1593.0 301.3h6.0M1584.8 302.6h14.2M1588.6 303.9h10.4M1594.0 305.1h5.0M1594.0 306.3h5.0M1590.0 307.9h9.0M1590.0 309.6h9.0M1590.0 311.8h9.0M1588.3 313.5h10.7M1594.0 316.3h5.0M1595.0 318.4h4.0M1590.0 320.7h9.0M1592.0 322.6h7.0M1583.6 324.0h15.4M1583.5 326.6h15.5M1594.0 329.0h5.0M1596.0 330.7h3.0M1594.0 332.4h5.0M1594.0 335.0h5.0M1597.0 337.6h2.0M1594.0 340.2h5.0M1595.0 341.9h4.0M1588.4 344.4h10.6M1593.0 346.5h6.0M1593.0 347.9h6.0M1593.0 350.8h6.0M1594.0 352.2h5.0M1595.0 354.2h4.0M1585.4 355.5h13.6M1596.0 357.0h3.0M1597.0 358.5h2.0M1594.0 360.6h5.0M1597.0 362.0h2.0M1596.0 364.1h3.0M1594.0 366.5h5.0M1593.0 368.8h6.0M1587.7 370.2h11.3M1595.0 371.7h4.0M1595.0 374.7h4.0M1592.0 376.5h7.0M1593.0 379.2h6.0M1595.0 380.8h4.0M1590.0 382.5h9.0M1592.0 384.3h7.0M1584.0 386.4h15.0M1589.9 388.9h9.1M1590.0 390.9h9.0M1597.0 392.9h2.0M1596.0 394.6h3.0M1594.0 397.5h5.0M1594.0 399.7h5.0M1593.0 401.9h6.0M1595.0 404.3h4.0M1596.0 406.0h3.0M1583.6 407.5h15.4M1594.0 409.5h5.0M1590.0 411.7h9.0M1595.0 412.9h4.0M1596.0 414.7h3.0M1597.0 417.0h2.0M1594.0 418.2h5.0M1594.0 420.6h5.0M1593.0 422.3h6.0M1582.1 424.0h16.9M1597.0 426.3h2.0M1595.0 429.1h4.0M1596.0 430.7h3.0M1594.0 432.2h5.0M1590.0 434.9h9.0M1594.0 436.6h5.0M1592.0 439.4h7.0M1595.0 441.2h4.0M1594.0 444.0h5.0M1594.0 446.8h5.0M1590.0 448.8h9.0M1597.0 450.3h2.0M1592.0 452.2h7.0M1594.0 454.8h5.0M1590.0 457.3h9.0M1596.0 458.6h3.0M1597.0 460.7h2.0M1590.0 462.6h9.0M1593.0 465.4h6.0M1590.0 467.7h9.0M1590.0 470.3h9.0M1596.0 473.1h3.0M1594.0 474.8h5.0M1596.0 476.7h3.0M1588.6 479.1h10.4M1596.0 480.7h3.0M1585.0 482.1h14.0M1592.0 484.1h7.0M1588.0 486.0h11.0M1590.0 488.8h9.0M1592.0 490.0h7.0M1595.0 491.9h4.0M1592.0 493.6h7.0M1592.0 494.8h7.0M1594.0 496.4h5.0M1590.0 499.0h9.0M1592.0 500.9h7.0M1595.0 503.6h4.0M1592.0 505.7h7.0M1595.0 508.4h4.0M1597.0 510.8h2.0M1590.0 512.3h9.0M1596.0 515.0h3.0M1597.0 516.7h2.0M1597.0 518.7h2.0M1596.0 520.5h3.0M1595.0 523.5h4.0M1597.0 525.1h2.0M1595.0 526.3h4.0M1596.0 528.1h3.0M1597.0 530.1h2.0M1592.0 531.9h7.0M1595.0 533.9h4.0M1592.0 535.9h7.0M1592.0 537.7h7.0M1595.0 539.6h4.0M1597.0 542.0h2.0M1594.0 543.7h5.0M1593.0 546.3h6.0M1593.0 548.4h6.0M1597.0 550.0h2.0M1593.0 553.0h6.0M1593.0 555.1h6.0M1592.0 556.9h7.0M1594.0 558.3h5.0M1596.0 560.9h3.0M1590.0 563.3h9.0M1594.0 565.5h5.0M1594.0 567.6h5.0M1593.0 570.1h6.0M1588.8 572.5h10.2M1597.0 574.7h2.0M1592.0 577.6h7.0M1590.0 580.1h9.0M1590.0 582.9h9.0M1592.0 584.3h7.0M1596.0 586.9h3.0M1593.0 589.5h6.0M1597.0 590.7h2.0M1582.8 593.1h16.2M1596.0 595.6h3.0M1595.0 597.0h4.0M1583.3 598.3h15.7M1592.0 601.1h7.0M1596.0 602.4h3.0M1590.0 604.2h9.0M1592.0 607.1h7.0M1593.0 609.5h6.0M1594.0 612.0h5.0M1590.0 613.6h9.0M1590.0 615.5h9.0M1593.0 617.3h6.0M1596.0 619.5h3.0M1593.0 621.3h6.0M1592.0 623.9h7.0M1593.0 626.2h6.0M1593.0 628.4h6.0M1585.2 631.3h13.8M1593.0 632.7h6.0M1590.0 634.6h9.0M1597.0 637.3h2.0M1594.0 639.9h5.0M1593.0 642.2h6.0M1592.0 644.5h7.0M1597.0 647.3h2.0M1593.0 650.0h6.0M1590.0 652.1h9.0M1597.0 654.9h2.0M1596.0 656.1h3.0M1597.0 658.4h2.0M1594.0 661.0h5.0M1592.0 664.0h7.0M1585.3 665.5h13.7M1592.0 666.8h7.0M1593.0 668.8h6.0M1595.0 671.0h4.0M1595.0 673.2h4.0M1590.0 675.9h9.0M1590.0 677.2h9.0M1595.0 679.8h4.0M1590.0 682.0h9.0M1593.0 684.3h6.0M1594.0 685.8h5.0M1587.8 688.6h11.2M1592.0 690.3h7.0M1593.0 692.9h6.0M1596.0 694.3h3.0M1597.0 697.2h2.0M1594.0 700.2h5.0M1589.6 701.9h9.4M1590.0 703.1h9.0M1596.0 705.9h3.0M1593.0 708.4h6.0M1592.0 709.7h7.0M1597.0 711.3h2.0M1587.4 712.5h11.6M1594.0 715.2h5.0M1594.0 716.5h5.0M1592.0 718.5h7.0M1593.0 721.3h6.0M1590.0 723.9h9.0M1582.4 725.9h16.6M1596.0 728.2h3.0M1594.0 730.7h5.0M1596.0 733.7h3.0M1596.0 736.6h3.0M1595.0 739.6h4.0M1596.0 741.7h3.0M1590.0 744.4h9.0M1595.0 747.0h4.0M1592.0 748.8h7.0M1590.0 751.0h9.0M1594.0 752.8h5.0M1592.0 754.6h7.0M1592.0 757.3h7.0M1590.0 759.7h9.0M1596.0 762.5h3.0M1592.0 765.0h7.0M1596.0 767.2h3.0M1597.0 769.3h2.0M1594.0 771.3h5.0M1594.0 773.8h5.0M1595.0 776.7h4.0M1592.0 778.4h7.0M1597.0 780.8h2.0M1596.0 783.2h3.0M1593.0 785.2h6.0M1595.0 787.6h4.0M1595.0 789.6h4.0M1595.0 790.9h4.0M1596.0 792.3h3.0M1592.0 793.8h7.0M1592.0 796.7h7.0M1592.0 799.2h7.0M1592.0 800.7h7.0M1592.0 802.4h7.0M1592.0 804.0h7.0M1595.0 805.6h4.0M1597.0 806.9h2.0M1596.0 809.6h3.0M1593.0 812.2h6.0M1592.0 814.2h7.0M1594.0 817.2h5.0M1596.0 818.9h3.0M1594.0 821.3h5.0M1592.0 823.4h7.0M1592.0 825.0h7.0M1590.0 827.2h9.0M1596.0 828.8h3.0M1584.7 831.6h14.3M1593.0 833.6h6.0M1590.0 836.2h9.0M1595.0 837.9h4.0M1597.0 839.7h2.0M1583.7 842.6h15.3M1595.0 844.8h4.0M1593.0 846.1h6.0M1592.0 848.0h7.0M1596.0 851.0h3.0M1594.0 852.5h5.0M1597.0 854.3h2.0M1592.0 856.2h7.0M1596.0 857.8h3.0M1596.0 859.0h3.0M1597.0 861.7h2.0M1594.0 864.1h5.0M1592.0 865.9h7.0M1592.0 867.6h7.0M1597.0 869.6h2.0M1597.0 871.9h2.0M1595.0 873.8h4.0M1594.0 875.3h5.0M1592.0 876.7h7.0M1596.0 879.4h3.0M1596.0 882.0h3.0M1593.0 884.4h6.0M1596.0 885.8h3.0M1592.0 887.8h7.0M1590.0 889.1h9.0M1593.0 891.4h6.0M1595.0 893.8h4.0M1597.0 895.0h2.0M1597.0 897.3h2.0M1596.0 898.5h3.0M1590.0 901.5h9.0M1596.0 902.7h3.0M1597.0 904.1h2.0M1596.0 906.9h3.0M1592.0 909.7h7.0M1596.0 912.0h3.0M1590.0 913.7h9.0M1595.0 915.3h4.0M1586.1 917.5h12.9M1595.0 920.5h4.0M1594.0 922.4h5.0M1597.0 924.0h2.0M1595.0 926.7h4.0M1594.0 928.0h5.0M1594.0 929.4h5.0M1592.0 931.8h7.0M1590.0 933.3h9.0M1597.0 935.6h2.0M1597.0 937.9h2.0M1594.0 940.4h5.0M1586.2 942.9h12.8M1597.0 945.5h2.0M1594.0 946.8h5.0M1585.8 948.8h13.2M1593.0 951.2h6.0M1594.0 954.0h5.0M1593.0 956.8h6.0M1590.0 959.3h9.0M1595.0 961.9h4.0M1593.0 964.4h6.0M1590.0 966.8h9.0M1582.5 969.5h16.5M1590.0 971.3h9.0M1593.0 973.3h6.0M1593.0 975.5h6.0M1583.7 977.0h15.3M1594.0 978.8h5.0M1596.0 980.3h3.0M1593.0 983.2h6.0M1597.0 984.8h2.0M1595.0 987.5h4.0M1583.0 989.4h16.0M1594.0 991.7h5.0M1597.0 994.1h2.0M1596.0 995.9h3.0M1596.0 998.0h3.0M1590.0 1000.8h9.0M1597.0 1002.7h2.0M1594.0 1003.9h5.0M1594.0 1006.5h5.0M1592.0 1008.0h7.0M1593.0 1010.6h6.0M1595.0 1012.3h4.0M1583.9 1013.9h15.1M1590.0 1016.1h9.0M1592.0 1017.8h7.0M1597.0 1020.7h2.0M1582.4 1022.7h16.6M1597.0 1025.5h2.0M1595.0 1027.3h4.0M1597.0 1029.6h2.0M1596.0 1031.3h3.0M1593.0 1032.9h6.0M1590.0 1034.8h9.0M1592.0 1037.3h7.0M1590.0 1039.4h9.0M1596.0 1041.6h3.0M1594.0 1042.8h5.0M1582.5 1044.8h16.5M1594.0 1046.2h5.0M1588.0 1047.5h11.0M1590.0 1050.4h9.0M1593.0 1052.9h6.0M1592.0 1055.7h7.0M1594.0 1057.4h5.0M1587.2 1059.8h11.8M1597.0 1061.8h2.0M1590.0 1064.6h9.0M1595.0 1066.6h4.0M1585.3 1069.0h13.7M1593.0 1071.8h6.0M1593.0 1073.3h6.0M1594.0 1075.1h5.0M1597.0 1077.3h2.0M1584.8 1080.1h14.2M1590.0 1082.6h9.0M1595.0 1084.8h4.0M1590.0 1086.4h9.0M1592.0 1087.8h7.0M1594.0 1089.3h5.0M1592.0 1092.2h7.0M1597.0 1094.4h2.0M1592.0 1096.7h7.0M1596.0 1099.2h3.0M1589.2 1101.9h9.8M1594.0 1104.2h5.0M1592.0 1106.5h7.0M1597.0 1108.0h2.0M1590.0 1110.9h9.0M1597.0 1113.6h2.0M1596.0 1115.3h3.0M1596.0 1117.9h3.0M1592.0 1120.6h7.0M1595.0 1123.1h4.0M1597.0 1126.1h2.0M1584.9 1127.9h14.1M1590.0 1130.3h9.0M1588.7 1133.2h10.3M1592.0 1134.6h7.0M1590.0 1137.3h9.0M1590.0 1139.9h9.0M1597.0 1142.5h2.0M1596.0 1144.8h3.0M1593.0 1147.7h6.0M1596.0 1149.8h3.0M1592.0 1152.3h7.0M1593.0 1154.0h6.0M1590.0 1156.6h9.0M1597.0 1158.3h2.0M1597.0 1160.3h2.0M1595.0 1162.2h4.0M1590.0 1165.2h9.0M1593.0 1167.0h6.0M1596.0 1168.5h3.0M1590.0 1171.4h9.0M1590.0 1173.7h9.0M1596.0 1175.8h3.0M1597.0 1177.5h2.0M1582.7 1179.9h16.3M1594.0 1182.2h5.0M1593.0 1183.8h6.0M1590.0 1185.3h9.0M1593.0 1188.0h6.0M1593.0 1189.7h6.0M1590.0 1191.7h9.0M1594.0 1194.6h5.0M1593.0 1197.4h6.0M1595.0 1199.3h4.0M1594.0 1201.4h5.0M1597.0 1203.1h2.0M1596.0 1205.4h3.0M1594.0 1207.1h5.0M1597.0 1208.7h2.0M1595.0 1211.7h4.0M1582.1 1213.8h16.9M1593.0 1216.4h6.0M1592.0 1217.9h7.0"/>
<polygon fill="#060000" points="1607.0,816.0 1592.6,816.0 1586.3,819.9 1592.7,825.3 1594.0,829.3 1586.3,833.8 1587.4,838.6 1586.2,843.5 1595.7,848.3 1587.7,853.5 1589.8,856.8 1587.5,862.3 1586.9,865.0 1586.4,870.0 1587.2,873.0 1591.5,875.8 1590.7,878.0 1591.7,882.6 1587.7,886.8 1593.1,891.4 1589.5,894.5 1591.7,897.2 1587.6,900.1 1587.9,905.5 1593.8,908.3 1587.1,913.6 1586.1,916.6 1589.5,919.0 1588.7,923.5 1587.8,927.6 1587.2,933.4 1588.2,937.7 1595.2,942.1 1586.2,944.2 1596.0,947.5 1587.6,953.4 1592.3,955.7 1589.8,960.8 1590.4,966.1 1594.0,971.7 1595.0,975.0 1588.6,980.5 1592.6,983.5 1587.8,987.7 1588.8,991.0 1595.9,996.8 1593.1,999.4 1588.8,1001.8 1594.4,1005.3 1589.7,1007.9 1593.5,1010.5 1588.2,1012.8 1594.6,1017.2 1591.5,1019.3 1591.6,1024.7 1592.3,1029.6 1592.1,1035.2 1594.2,1040.5 1590.6,1043.8 1594.9,1049.7 1590.2,1055.3 1591.8,1057.6 1590.0,1063.4 1586.5,1068.0 1595.7,1071.9 1588.8,1075.5 1588.2,1080.3 1587.2,1083.4 1586.6,1088.1 1587.1,1093.5 1593.3,1095.9 1589.9,1099.3 1594.1,1102.4 1592.2,1107.7 1589.2,1109.9 1589.1,1114.2 1594.9,1118.4 1587.6,1122.0 1587.0,1125.3 1592.8,1129.8 1590.2,1132.5 1589.3,1136.9 1592.4,1142.7 1593.6,1147.5 1586.6,1150.9 1589.0,1156.7 1595.4,1159.3 1590.7,1163.1 1590.0,1166.8 1595.9,1171.1 1594.2,1175.4 1586.5,1181.0 1591.4,1183.6 1589.4,1189.5 1590.7,1193.4 1595.5,1197.2 1591.2,1201.6 1592.7,1205.7 1593.4,1209.7 1589.0,1212.2 1593.5,1216.6 1607.0,1218.0"/>
<polygon fill="#060000" points="1603.0,836.0 1563.0,842.2 1563.0,843.8 1603.0,850.0"/>
<polygon fill="#060000" points="1603.0,890.0 1561.0,897.2 1561.0,898.8 1603.0,906.0"/>
<polygon fill="#060000" points="1603.0,952.6 1561.0,959.8 1561.0,961.4 1603.0,968.6"/>
<polygon fill="#060000" points="1603.0,998.8 1561.0,1006.0 1561.0,1007.6 1603.0,1014.8"/>
<polygon fill="#060000" points="1603.0,1015.0 1571.0,1019.2 1571.0,1020.8 1603.0,1025.0"/>
<polygon fill="#060000" points="1603.0,1116.0 1563.0,1123.2 1563.0,1124.8 1603.0,1132.0"/>
<polygon fill="#060000" points="1603.0,1130.0 1571.0,1134.2 1571.0,1135.8 1603.0,1140.0"/>
<polygon fill="#060000" points="1603.0,1070.0 1577.0,1074.2 1577.0,1075.8 1603.0,1080.0"/>
<polygon fill="#060000" points="1603.0,1185.0 1579.0,1189.2 1579.0,1190.8 1603.0,1195.0"/>
<path fill="none" stroke="#000" stroke-width="1.9" d="M3047.3 22.0H3044.9V23.5H3046.8M3047.2 24.9H3045.0V26.4H3047.1M3044.9 22.7H3041.3V25.6H3045.0M3041.3 24.2H3030.3V28.3H3038.7M3046.7 32.0H3044.9V33.4H3047.1M3046.2 30.5H3041.7V32.7H3044.9M3041.7 31.6H3032.3V35.3H3041.4M3047.4 38.1H3044.9V40.7H3047.2M3047.1 42.7H3044.2V44.5H3047.1M3044.9 39.4H3040.5V43.6H3044.2M3047.7 45.5H3045.8V47.0H3047.3M3045.8 46.2H3041.4V49.0H3045.6M3040.5 41.5H3031.6V47.6H3041.4M3032.3 33.4H3018.7V44.6H3031.6M3030.3 26.3H3005.0V39.0H3018.7M3047.3 50.9H3045.6V52.4H3047.1M3045.6 51.7H3040.1V53.7H3045.5M3047.4 55.3H3046.3V56.6H3047.6M3046.3 55.9H3044.2V58.1H3046.2M3044.2 57.0H3041.2V60.2H3046.0M3040.1 52.7H3031.1V58.6H3041.2M3041.5 62.1H3036.6V63.5H3044.0M3045.3 64.6H3042.2V66.3H3045.6M3046.6 68.3H3043.6V69.6H3045.8M3042.2 65.4H3036.8V68.9H3043.6M3036.6 62.8H3027.9V67.2H3036.8M3031.1 55.7H3010.0V65.0H3027.9M3005.0 32.6H2985.0V60.3H3010.0M3042.9 70.9H3037.5V72.9H3043.3M3045.6 74.7H3042.5V76.6H3045.1M3046.0 78.3H3042.9V79.8H3045.5M3042.5 75.6H3036.6V79.1H3042.9M3037.5 71.9H3026.8V77.3H3036.6M3043.8 81.6H3039.6V83.5H3045.1M3046.2 86.9H3043.6V88.6H3046.9M3045.1 85.3H3039.1V87.7H3043.6M3039.6 82.5H3029.9V86.5H3039.1M3026.8 74.6H3015.0V84.5H3029.9M3044.9 92.8H3041.6V94.1H3045.1M3043.9 90.8H3036.8V93.5H3041.6M3043.3 95.5H3037.5V97.3H3043.5M3036.8 92.1H3019.0V96.4H3037.5M3015.0 79.6H3000.0V94.3H3019.0M3044.1 99.9H3039.5V101.4H3045.4M3039.6 98.7H3031.8V100.7H3039.5M3046.8 103.6H3045.1V106.0H3047.3M3045.1 104.8H3039.9V108.6H3043.8M3046.0 110.9H3043.5V112.8H3046.9M3039.9 106.7H3034.8V111.9H3043.5M3031.8 99.7H3021.6V109.3H3034.8M3048.0 116.6H3046.9V118.4H3048.0M3047.5 114.7H3045.1V117.5H3046.9M3047.4 120.0H3045.2V121.3H3047.1M3045.1 116.1H3042.7V120.6H3045.2M3047.5 122.7H3045.9V124.0H3047.2M3045.9 123.4H3043.7V125.6H3046.7M3042.7 118.4H3036.9V124.5H3043.7M3046.1 127.3H3044.1V128.8H3046.3M3047.5 130.3H3045.9V131.7H3047.6M3044.1 128.0H3041.1V131.0H3045.9M3045.5 132.8H3043.3V134.2H3045.6M3041.1 129.5H3036.0V133.5H3043.3M3036.9 121.4H3025.5V131.5H3036.0M3021.6 104.5H3004.0V126.5H3025.5M3000.0 86.9H2978.0V115.5H3004.0M2985.0 46.5H2967.0V101.2H2978.0M3043.2 135.9H3038.5V137.4H3044.2M3040.2 138.9H3034.2V140.7H3042.5M3038.5 136.6H3025.0V139.8H3034.2M3044.6 142.3H3039.5V143.9H3044.7M3047.4 145.9H3044.9V147.6H3047.1M3044.9 146.7H3041.6V149.2H3045.6M3041.6 148.0H3036.3V151.0H3041.5M3039.5 143.1H3026.7V149.5H3036.3M3025.0 138.2H3010.0V146.3H3026.7M3046.5 154.0H3044.2V155.5H3046.4M3043.8 152.7H3038.9V154.7H3044.2M3044.6 157.5H3038.1V159.7H3044.8M3038.9 153.7H3026.3V158.6H3038.1M3045.4 161.9H3041.5V163.3H3044.5M3041.5 162.6H3032.6V164.9H3042.6M3026.3 156.2H3012.0V163.7H3032.6M3010.0 142.3H2991.0V160.0H3012.0M3046.9 166.8H3045.3V168.2H3047.0M3045.3 167.5H3042.6V169.6H3045.9M3048.1 171.1H3047.0V172.7H3048.2M3047.0 171.9H3043.8V174.5H3046.7M3042.6 168.6H3036.6V173.2H3043.8M3048.0 176.0H3046.6V177.2H3047.8M3046.6 176.6H3042.8V178.5H3045.6M3047.9 179.6H3046.4V181.0H3047.8M3047.6 183.0H3046.5V185.5H3048.0M3046.4 180.3H3043.9V184.2H3046.5M3042.8 177.6H3038.9V182.3H3043.9M3036.6 170.9H3029.5V179.9H3038.9M3046.5 187.6H3043.0V189.6H3046.1M3047.2 192.1H3044.6V194.2H3046.8M3043.0 188.6H3038.3V193.2H3044.6M3047.4 198.0H3045.3V200.0H3046.9M3045.3 195.9H3042.7V199.0H3045.3M3047.0 201.7H3044.0V203.8H3046.4M3047.8 205.8H3046.8V208.2H3047.8M3047.7 210.9H3046.4V213.0H3048.0M3046.8 207.0H3044.5V212.0H3046.4M3044.0 202.7H3041.0V209.5H3044.5M3042.7 197.5H3037.3V206.1H3041.0M3038.3 190.9H3030.6V201.8H3037.3M3029.5 175.4H3020.0V196.3H3030.6M3046.5 215.2H3044.8V217.6H3047.1M3047.9 219.6H3046.1V221.6H3047.8M3047.7 223.7H3046.3V225.4H3047.7M3046.1 220.6H3043.1V224.5H3046.3M3044.8 216.4H3039.8V222.6H3043.1M3046.9 227.1H3045.1V228.9H3047.1M3045.1 228.0H3040.8V231.0H3045.0M3039.8 219.5H3034.0V229.5H3040.8M3047.8 232.4H3046.0V234.0H3047.2M3046.0 233.2H3042.4V236.0H3045.1M3047.9 237.8H3046.7V239.9H3047.9M3046.7 238.8H3044.5V242.2H3047.2M3047.8 247.3H3046.5V249.6H3047.5M3047.1 244.6H3044.7V248.5H3046.5M3044.5 240.5H3041.7V246.5H3044.7M3042.4 234.6H3037.1V243.5H3041.7M3034.0 224.5H3026.9V239.1H3037.1M3047.7 251.5H3046.1V253.0H3047.9M3047.9 254.4H3046.3V256.2H3047.4M3046.1 252.3H3043.4V255.3H3046.3M3046.7 257.9H3045.1V259.4H3046.8M3043.4 253.8H3039.2V258.7H3045.1M3047.8 261.0H3046.8V262.6H3047.9M3046.8 261.8H3044.8V264.6H3046.9M3047.7 266.6H3046.1V267.8H3047.4M3044.8 263.2H3041.9V267.2H3046.1M3039.2 256.2H3032.6V265.2H3041.9M3026.9 231.8H3022.7V260.7H3032.6M3047.1 269.3H3044.9V271.0H3046.7M3047.0 272.4H3045.2V273.9H3047.4M3044.9 270.2H3042.2V273.1H3045.2M3047.2 275.8H3044.7V277.8H3047.4M3047.9 280.1H3046.6V282.1H3047.7M3046.6 281.1H3044.2V285.1H3047.0M3044.7 276.8H3041.2V283.1H3044.2M3042.2 271.7H3033.8V279.9H3041.2M3047.0 288.4H3045.5V290.7H3047.7M3047.9 296.4H3046.8V298.8H3048.0M3047.1 293.9H3045.2V297.6H3046.8M3045.5 289.5H3041.3V295.8H3045.2M3048.2 303.6H3046.9V304.9H3047.9M3047.0 301.7H3045.2V304.2H3046.9M3047.2 307.3H3045.8V311.1H3047.1M3045.2 303.0H3042.0V309.2H3045.8M3041.3 292.7H3034.7V306.1H3042.0M3033.8 275.8H3023.7V299.4H3034.7M3022.7 246.2H3018.0V287.6H3023.7M3020.0 185.9H3005.0V266.9H3018.0M3047.6 316.4H3045.7V318.5H3047.6M3044.5 314.2H3041.3V317.5H3045.7M3047.5 320.8H3045.5V323.9H3047.1M3047.9 326.2H3047.0V327.6H3048.2M3048.2 329.4H3046.9V331.0H3047.7M3047.0 326.9H3044.6V330.2H3046.9M3045.5 322.4H3040.5V328.5H3044.6M3041.3 315.8H3035.9V325.5H3040.5M3046.8 332.2H3044.9V333.8H3046.9M3044.9 333.0H3041.8V335.8H3046.1M3047.2 337.8H3045.1V340.2H3047.5M3047.9 345.0H3046.3V346.7H3047.6M3046.8 342.8H3044.5V345.8H3046.3M3045.1 339.0H3041.4V344.3H3044.5M3041.8 334.4H3033.5V341.7H3041.4M3035.9 320.6H3025.7V338.0H3033.5M3047.9 350.9H3047.0V352.5H3047.9M3047.3 348.7H3045.3V351.7H3047.0M3047.0 354.8H3045.5V357.7H3047.5M3048.2 359.5H3047.0V360.9H3048.1M3048.1 362.3H3047.0V364.0H3048.1M3047.0 360.2H3045.4V363.2H3047.0M3045.5 356.2H3043.3V361.7H3045.4M3045.3 350.2H3039.8V359.0H3043.3M3048.1 365.7H3046.8V367.3H3047.9M3046.8 366.5H3044.1V369.1H3046.3M3048.2 370.4H3047.0V371.7H3048.1M3047.0 371.1H3045.5V373.0H3047.4M3048.0 375.1H3046.7V377.4H3048.1M3045.5 372.1H3043.1V376.2H3046.7M3044.1 367.8H3038.4V374.1H3043.1M3039.8 354.6H3030.6V371.0H3038.4M3047.7 383.7H3046.8V385.3H3047.8M3045.9 381.8H3043.8V384.5H3046.8M3044.0 379.4H3040.5V383.1H3043.8M3046.4 387.4H3044.6V389.6H3046.7M3044.6 388.5H3041.2V391.8H3045.2M3040.5 381.2H3033.7V390.2H3041.2M3030.6 362.8H3023.9V385.7H3033.7M3025.7 329.3H3016.0V374.2H3023.9M3047.4 394.2H3045.8V396.1H3047.4M3047.3 398.1H3045.9V400.1H3047.5M3045.8 395.2H3041.6V399.1H3045.9M3047.8 402.1H3046.2V404.4H3047.9M3047.6 406.2H3046.6V408.4H3047.8M3046.2 403.2H3043.3V407.3H3046.6M3041.6 397.1H3035.5V405.3H3043.3M3047.3 411.2H3046.3V413.4H3047.4M3047.6 415.1H3045.3V416.9H3047.6M3046.3 412.3H3042.9V416.0H3045.3M3047.4 419.5H3046.1V420.9H3047.9M3047.1 418.4H3043.9V420.2H3046.1M3042.9 414.2H3036.9V419.3H3043.9M3035.5 401.2H3025.1V416.7H3036.9M3046.6 423.1H3044.4V424.6H3047.0M3046.3 425.7H3044.4V427.5H3046.7M3044.4 423.9H3040.8V426.6H3044.4M3047.8 431.2H3046.2V433.2H3047.7M3046.8 429.6H3043.7V432.2H3046.2M3047.7 435.1H3046.8V437.1H3048.0M3046.8 436.1H3044.1V439.2H3047.2M3043.7 430.9H3039.7V437.6H3044.1M3040.8 425.2H3029.7V434.3H3039.7M3025.1 409.0H3018.0V429.8H3029.7M3016.0 351.8H3000.0V419.4H3018.0M3005.0 226.4H2988.7V385.6H3000.0M3045.2 441.0H3040.0V442.8H3044.5M3047.4 447.0H3045.7V448.4H3047.1M3045.6 444.9H3042.9V447.7H3045.7M3040.0 441.9H3033.6V446.3H3042.9M3047.7 450.0H3045.8V451.9H3047.2M3047.9 455.9H3046.5V458.4H3047.7M3047.0 453.5H3044.9V457.2H3046.5M3045.8 450.9H3041.8V455.4H3044.9M3046.7 460.7H3043.7V462.4H3046.5M3047.8 463.8H3046.8V465.2H3047.7M3046.8 464.5H3045.3V466.7H3046.9M3043.7 461.5H3040.1V465.6H3045.3M3041.8 453.1H3034.2V463.6H3040.1M3033.6 444.1H3022.4V458.3H3034.2M3047.7 468.7H3046.5V470.6H3047.5M3046.5 469.6H3044.7V472.1H3047.3M3047.5 473.9H3046.0V475.8H3047.3M3044.7 470.9H3042.2V474.9H3046.0M3047.9 477.6H3046.4V479.3H3047.6M3046.4 478.4H3042.9V481.0H3046.3M3042.2 472.9H3033.7V479.7H3042.9M3046.3 483.1H3043.5V485.1H3045.9M3048.0 486.6H3046.5V488.1H3047.7M3046.5 487.3H3044.6V490.6H3047.2M3043.5 484.1H3038.9V489.0H3044.6M3047.2 493.0H3045.7V495.1H3047.7M3047.5 496.8H3046.4V498.1H3047.9M3046.4 497.4H3044.7V500.5H3047.0M3045.7 494.1H3041.8V499.0H3044.7M3038.9 486.5H3033.7V496.5H3041.8M3033.7 476.3H3022.1V491.5H3033.7M3022.4 451.2H3014.0V483.9H3022.1M3048.1 504.6H3046.9V505.9H3048.1M3046.9 505.3H3045.1V507.6H3046.8M3044.6 503.1H3040.9V506.5H3045.1M3047.9 509.5H3046.9V511.0H3047.9M3046.9 510.2H3044.9V514.5H3047.2M3047.7 518.4H3046.8V519.9H3048.1M3046.8 519.2H3044.3V521.1H3046.2M3044.9 512.4H3039.9V520.1H3044.3M3040.9 504.8H3032.4V516.2H3039.9M3048.1 523.8H3046.7V525.2H3047.9M3047.5 522.4H3045.2V524.5H3046.7M3046.9 526.9H3044.9V529.4H3047.1M3045.2 523.5H3040.9V528.1H3044.9M3047.9 531.9H3046.7V534.4H3047.8M3047.7 536.8H3046.9V539.0H3047.7M3046.7 533.2H3044.2V537.9H3046.9M3048.0 541.2H3047.0V542.7H3048.0M3047.9 545.2H3046.9V548.3H3048.1M3047.0 542.0H3044.0V546.7H3046.9M3044.2 535.5H3040.2V544.3H3044.0M3040.9 525.8H3036.7V539.9H3040.2M3047.3 550.2H3045.4V552.0H3047.3M3047.6 554.0H3045.9V555.4H3047.1M3045.4 551.1H3042.9V554.7H3045.9M3047.4 556.9H3045.6V558.9H3047.1M3047.9 564.3H3046.9V566.7H3048.1M3047.5 561.6H3045.7V565.5H3046.9M3045.6 557.9H3041.8V563.6H3045.7M3042.9 552.9H3036.3V560.7H3041.8M3036.7 532.9H3027.6V556.8H3036.3M3032.4 510.5H3024.5V544.8H3027.6M3047.4 568.8H3045.7V570.2H3047.1M3047.8 571.5H3046.8V572.9H3048.1M3045.7 569.5H3043.5V572.2H3046.8M3047.6 580.1H3046.3V581.4H3047.7M3047.0 576.5H3044.4V580.7H3046.3M3047.5 582.4H3045.0V584.4H3047.4M3044.4 578.6H3041.5V583.4H3045.0M3043.5 570.8H3036.3V581.0H3041.5M3047.8 586.4H3045.9V587.8H3047.4M3047.6 589.7H3045.6V591.3H3047.7M3045.9 587.1H3041.3V590.5H3045.6M3047.4 594.7H3045.8V599.0H3047.7M3047.3 601.3H3044.9V603.0H3047.2M3045.8 596.9H3041.8V602.1H3044.9M3041.3 588.8H3034.7V599.5H3041.8M3036.3 575.9H3023.5V594.1H3034.7M3024.5 527.7H3016.0V585.0H3023.5M3014.0 467.6H2998.0V556.4H3016.0M3048.0 604.8H3046.7V606.8H3047.7M3047.8 608.7H3046.7V610.7H3048.1M3046.7 605.8H3043.4V609.7H3046.7M3047.1 612.6H3045.9V613.8H3047.1M3045.9 613.2H3043.6V614.9H3046.6M3043.4 607.8H3038.1V614.1H3043.6M3047.8 617.4H3046.2V618.7H3047.9M3046.4 616.2H3044.2V618.0H3046.2M3048.1 624.1H3046.7V625.6H3047.9M3047.3 621.6H3044.7V624.9H3046.7M3044.2 617.1H3039.5V623.2H3044.7M3038.1 610.9H3031.4V620.2H3039.5M3048.0 627.5H3046.8V630.5H3048.0M3047.9 633.4H3046.7V634.9H3047.8M3046.8 629.0H3044.3V634.1H3046.7M3047.3 638.5H3046.2V639.8H3047.3M3046.2 636.7H3044.1V639.1H3046.2M3044.3 631.6H3040.4V637.9H3044.1M3048.1 641.6H3046.7V643.5H3047.8M3046.7 642.6H3044.5V645.1H3046.3M3047.5 647.2H3045.4V649.5H3047.3M3044.5 643.8H3041.9V648.4H3045.4M3040.4 634.7H3035.8V646.1H3041.9M3048.1 653.4H3047.0V654.8H3048.0M3046.7 651.7H3045.3V654.1H3047.0M3047.5 656.2H3045.1V657.7H3047.5M3045.3 652.9H3041.6V656.9H3045.1M3047.8 659.2H3046.6V660.8H3047.9M3046.6 660.0H3044.9V663.2H3047.4M3047.7 665.1H3046.9V666.7H3047.9M3046.9 665.9H3044.8V669.1H3046.6M3044.9 661.6H3042.2V667.5H3044.8M3047.5 671.1H3045.3V672.3H3047.5M3045.3 671.7H3043.0V673.9H3046.7M3042.2 664.6H3038.8V672.8H3043.0M3041.6 654.9H3034.2V668.7H3038.8M3035.8 640.4H3025.8V661.8H3034.2M3031.4 615.5H3022.8V651.1H3025.8M3047.7 676.9H3046.7V678.3H3048.0M3046.9 675.6H3044.0V677.6H3046.7M3046.9 679.9H3044.6V681.6H3047.3M3044.0 676.6H3039.1V680.7H3044.6M3047.9 684.6H3046.4V685.9H3047.6M3046.5 683.2H3044.5V685.2H3046.4M3047.1 687.3H3044.6V689.3H3047.0M3044.5 684.2H3039.6V688.3H3044.6M3039.1 678.6H3032.8V686.3H3039.6M3047.6 691.2H3046.6V693.1H3048.0M3046.6 692.2H3044.9V695.5H3046.6M3047.5 697.8H3046.3V701.1H3047.6M3044.9 693.8H3042.6V699.5H3046.3M3048.0 705.1H3046.4V706.9H3047.8M3046.4 703.8H3044.4V706.0H3046.4M3047.3 709.5H3045.2V711.9H3047.3M3044.4 704.9H3041.6V710.7H3045.2M3042.6 696.7H3035.2V707.8H3041.6M3047.1 713.8H3045.7V715.4H3047.5M3047.9 717.5H3046.2V719.9H3047.6M3045.7 714.6H3043.0V718.7H3046.2M3046.9 723.9H3045.3V725.9H3046.8M3045.9 721.9H3043.0V724.9H3045.3M3043.0 716.6H3035.5V723.4H3043.0M3035.2 702.2H3029.3V720.0H3035.5M3032.8 682.5H3025.3V711.1H3029.3M3022.8 633.3H3014.0V696.8H3025.3M3047.2 727.6H3044.8V729.3H3046.7M3044.8 728.4H3042.2V731.2H3045.0M3047.4 733.3H3045.4V735.7H3047.1M3047.9 737.8H3046.5V739.1H3048.0M3046.5 738.4H3044.6V740.7H3047.2M3045.4 734.5H3041.1V739.5H3044.6M3042.2 729.8H3035.1V737.0H3041.1M3047.9 745.0H3046.1V746.9H3047.7M3045.1 742.9H3042.4V745.9H3046.1M3047.4 748.6H3046.0V750.2H3047.2M3047.3 752.9H3046.1V756.3H3047.6M3046.0 749.4H3042.8V754.6H3046.1M3042.4 744.4H3037.7V752.0H3042.8M3035.1 733.4H3029.1V748.2H3037.7M3047.1 761.4H3045.8V763.3H3047.0M3046.8 759.2H3043.8V762.3H3045.8M3047.9 764.7H3047.0V766.1H3047.8M3047.3 768.0H3046.1V769.9H3047.3M3047.0 765.4H3044.0V769.0H3046.1M3043.8 760.8H3038.3V767.2H3044.0M3046.5 772.0H3043.8V773.9H3046.0M3043.8 773.0H3040.0V775.5H3045.4M3038.3 764.0H3029.3V774.2H3040.0M3029.1 740.8H3021.2V769.1H3029.3M3046.3 777.3H3042.4V779.3H3046.3M3047.8 782.3H3046.0V785.1H3047.8M3046.0 783.7H3041.9V787.3H3045.2M3042.4 778.3H3036.2V785.5H3041.9M3047.3 789.0H3045.6V790.8H3047.3M3048.1 796.7H3046.8V798.3H3048.2M3047.1 793.8H3045.4V797.5H3046.8M3045.6 789.9H3042.9V795.6H3045.4M3047.6 800.7H3045.8V803.8H3047.4M3047.3 806.7H3045.5V809.2H3047.6M3045.8 802.2H3043.5V808.0H3045.5M3042.9 792.8H3037.8V805.1H3043.5M3036.2 781.9H3028.4V798.9H3037.8M3021.2 755.0H3016.0V790.4H3028.4M3014.0 665.1H2996.0V772.7H3016.0M2998.0 512.0H2985.0V718.9H2996.0M2988.7 306.0H2968.7V615.4H2985.0M2991.0 151.1H2944.8V460.7H2968.7M2967.0 73.8H2943.2V305.9H2944.8M3038.7 810.9H3024.8V812.2H3036.3M3024.8 811.5H3000.0V813.4H3019.3M3045.1 815.0H3042.3V816.9H3045.7M3043.7 818.2H3040.0V819.6H3044.0M3042.3 815.9H3032.0V818.9H3040.0M3045.6 821.0H3042.9V822.4H3046.4M3042.9 821.7H3033.1V823.8H3042.5M3032.0 817.4H3015.8V822.8H3033.1M3043.8 825.5H3039.0V827.5H3044.2M3047.0 829.1H3044.8V830.9H3047.2M3046.5 832.8H3044.9V834.5H3046.9M3044.9 833.7H3042.3V836.5H3045.5M3044.8 830.0H3038.1V835.1H3042.3M3039.0 826.5H3027.8V832.5H3038.1M3044.5 838.2H3040.0V839.8H3044.2M3046.4 842.9H3043.9V844.2H3047.1M3044.9 841.6H3040.3V843.6H3043.9M3040.0 839.0H3033.4V842.6H3040.3M3027.8 829.5H3012.4V840.8H3033.4M3015.8 820.1H2996.0V835.2H3012.4M3046.7 846.2H3044.9V847.9H3047.0M3046.2 849.3H3043.5V851.2H3046.0M3044.9 847.0H3038.9V850.2H3043.5M3045.0 853.1H3041.5V854.6H3044.7M3038.9 848.6H3032.0V853.9H3041.5M3045.5 858.4H3042.4V859.8H3045.5M3042.5 856.4H3034.9V859.1H3042.4M3032.0 851.2H3016.7V857.8H3034.9M3045.5 860.9H3040.0V862.3H3045.2M3047.7 863.6H3046.0V864.9H3047.7M3046.0 864.3H3043.8V866.3H3046.6M3045.8 867.9H3042.9V869.4H3045.9M3043.8 865.3H3036.8V868.7H3042.9M3040.0 861.6H3026.9V867.0H3036.8M3016.7 854.5H2998.0V864.3H3026.9M2996.0 827.6H2982.0V859.4H2998.0M3000.0 812.4H2957.4V843.5H2982.0M3041.1 871.1H3034.0V873.0H3043.4M3046.3 876.3H3042.9V877.9H3046.2M3042.0 874.6H3035.2V877.1H3042.9M3034.0 872.0H3016.5V875.9H3035.2M3044.0 881.1H3039.2V882.8H3043.5M3038.7 879.4H3032.0V881.9H3039.2M3047.4 888.1H3045.7V889.4H3047.2M3045.9 886.5H3042.7V888.7H3045.7M3040.5 884.5H3035.0V887.6H3042.7M3032.0 880.7H3016.3V886.1H3035.0M3016.5 874.0H2990.0V883.4H3016.3M3046.8 891.1H3044.8V893.3H3047.0M3044.8 892.2H3040.7V895.5H3043.9M3047.1 899.3H3045.8V900.8H3047.5M3046.1 897.4H3043.6V900.1H3045.8M3043.6 898.7H3037.9V902.4H3044.8M3040.7 893.9H3029.7V900.6H3037.9M3043.3 906.7H3037.5V908.5H3043.6M3037.1 904.6H3026.7V907.6H3037.5M3029.7 897.2H3014.2V906.1H3026.7M3045.9 912.0H3043.7V913.5H3046.3M3044.4 910.3H3037.7V912.8H3043.7M3045.9 914.7H3043.8V916.6H3046.6M3047.9 919.8H3046.8V921.4H3047.7M3047.0 918.4H3044.2V920.6H3046.8M3043.8 915.7H3037.7V919.5H3044.2M3037.7 911.5H3027.6V917.6H3037.7M3045.9 923.4H3043.7V925.5H3046.9M3047.1 927.1H3045.3V928.9H3047.2M3043.7 924.4H3039.4V928.0H3045.3M3044.4 930.6H3041.2V931.9H3045.8M3041.2 931.2H3036.1V933.8H3043.4M3039.4 926.2H3027.5V932.5H3036.1M3027.6 914.5H3005.2V929.4H3027.5M3014.2 901.7H2990.0V922.0H3005.2M3046.3 937.7H3044.0V939.6H3046.5M3043.6 935.9H3038.6V938.7H3044.0M3047.6 941.5H3046.6V943.2H3047.5M3047.8 944.7H3046.5V946.1H3047.7M3046.6 942.3H3043.6V945.4H3046.5M3046.8 947.4H3044.7V948.8H3047.1M3043.6 943.9H3039.5V948.1H3044.7M3038.6 937.3H3029.2V946.0H3039.5M3048.0 950.6H3046.6V952.5H3047.9M3047.4 954.4H3046.4V956.6H3047.7M3046.6 951.5H3043.9V955.5H3046.4M3047.5 958.5H3046.4V959.8H3047.9M3046.4 959.1H3044.3V961.2H3046.2M3043.9 953.5H3040.0V960.1H3044.3M3047.0 962.3H3045.6V963.9H3047.6M3045.6 963.1H3040.1V966.0H3045.5M3040.0 956.8H3033.1V964.5H3040.1M3029.2 941.6H3017.7V960.7H3033.1M3046.4 968.2H3044.5V970.3H3046.3M3047.9 971.9H3046.1V973.4H3047.8M3046.1 972.6H3044.1V975.2H3047.1M3044.5 969.3H3040.7V973.9H3044.1M3046.5 977.1H3042.6V979.1H3045.4M3040.7 971.6H3035.3V978.1H3042.6M3047.5 980.6H3045.1V982.0H3046.9M3045.1 981.3H3041.3V983.7H3045.9M3045.3 985.3H3042.0V986.8H3044.8M3041.3 982.5H3036.6V986.1H3042.0M3035.3 974.8H3028.4V984.3H3036.6M3047.0 990.2H3044.4V991.9H3047.3M3043.0 988.4H3038.4V991.0H3044.4M3046.5 993.5H3044.3V994.9H3046.3M3044.3 994.2H3038.8V996.8H3043.8M3038.4 989.7H3029.1V995.5H3038.8M3028.4 979.6H3014.0V992.6H3029.1M3017.7 951.2H3000.0V986.1H3014.0M3046.4 998.8H3044.6V1000.1H3046.7M3047.2 1001.3H3044.6V1002.8H3046.3M3044.6 999.4H3040.8V1002.1H3044.6M3040.8 1000.8H3033.8V1004.9H3040.1M3044.5 1007.2H3041.4V1009.5H3046.0M3047.8 1013.3H3046.9V1015.3H3048.0M3047.0 1011.6H3044.9V1014.3H3046.9M3047.8 1019.4H3046.7V1021.2H3048.0M3046.6 1017.5H3044.9V1020.3H3046.7M3044.9 1012.9H3041.6V1018.9H3044.9M3041.4 1008.4H3032.6V1015.9H3041.6M3033.8 1002.8H3024.6V1012.1H3032.6M3047.5 1023.0H3045.4V1024.7H3047.0M3045.4 1023.8H3042.9V1026.9H3046.1M3046.5 1029.1H3043.1V1031.1H3045.5M3047.8 1032.4H3046.7V1034.2H3047.9M3046.7 1033.3H3045.0V1036.1H3046.8M3043.1 1030.1H3039.5V1034.7H3045.0M3042.9 1025.3H3033.8V1032.4H3039.5M3047.5 1038.0H3046.0V1039.7H3047.7M3046.0 1038.9H3041.6V1041.1H3045.0M3047.3 1043.2H3046.0V1045.0H3047.6M3046.0 1044.1H3043.9V1046.7H3045.9M3041.6 1040.0H3036.5V1045.4H3043.9M3033.8 1028.9H3024.3V1042.7H3036.5M3024.6 1007.5H3008.5V1035.8H3024.3M3047.0 1049.7H3044.1V1051.2H3046.5M3043.9 1048.6H3039.5V1050.5H3044.1M3046.8 1052.7H3044.9V1054.4H3047.4M3047.5 1058.2H3046.6V1059.8H3048.0M3046.7 1056.5H3044.7V1059.0H3046.6M3044.9 1053.6H3038.2V1057.8H3044.7M3039.5 1049.5H3028.0V1055.7H3038.2M3046.2 1061.9H3042.9V1064.0H3045.9M3047.9 1065.7H3046.2V1067.3H3047.8M3048.0 1068.9H3046.6V1071.4H3048.0M3046.2 1066.5H3042.8V1070.1H3046.6M3042.9 1062.9H3038.8V1068.3H3042.8M3047.2 1075.9H3044.7V1077.2H3046.6M3044.6 1074.2H3040.9V1076.6H3044.7M3038.8 1065.6H3031.4V1075.4H3040.9M3028.0 1052.6H3011.9V1070.5H3031.4M3008.5 1021.6H2998.0V1061.5H3011.9M3000.0 968.6H2986.0V1041.6H2998.0M2990.0 911.8H2969.7V1005.1H2986.0M2990.0 878.7H2965.6V958.5H2969.7M3035.1 1078.9H3019.5V1080.8H3033.8M3043.8 1082.7H3036.1V1084.2H3043.6M3036.1 1083.5H3027.5V1085.4H3037.0M3019.5 1079.9H3000.0V1084.4H3027.5M3047.1 1087.0H3045.8V1088.6H3047.7M3045.8 1087.8H3041.9V1089.9H3045.5M3045.1 1091.7H3042.0V1093.5H3044.8M3041.9 1088.8H3034.2V1092.6H3042.0M3043.3 1095.0H3037.5V1097.0H3042.7M3034.2 1090.7H3020.0V1096.0H3037.5M3046.0 1099.0H3042.4V1100.4H3046.4M3045.8 1102.9H3043.5V1104.6H3045.7M3043.3 1101.6H3038.8V1103.7H3043.5M3042.4 1099.7H3032.5V1102.7H3038.8M3047.6 1107.9H3045.6V1109.7H3047.2M3046.2 1106.4H3043.0V1108.8H3045.6M3043.0 1107.6H3039.1V1111.9H3043.5M3045.7 1113.9H3042.3V1115.5H3046.4M3047.1 1118.6H3045.9V1120.3H3047.6M3045.8 1117.0H3042.3V1119.4H3045.9M3042.3 1114.7H3036.3V1118.2H3042.3M3039.1 1109.8H3028.1V1116.4H3036.3M3032.5 1101.2H3014.9V1113.1H3028.1M3020.0 1093.4H2998.0V1107.1H3014.9M3000.0 1082.2H2982.0V1100.3H2998.0M3044.7 1123.2H3041.8V1124.9H3045.2M3041.7 1121.7H3035.2V1124.0H3041.8M3046.2 1126.6H3043.8V1127.9H3046.1M3046.6 1129.5H3045.0V1131.2H3046.6M3043.8 1127.2H3040.4V1130.4H3045.0M3044.3 1132.5H3039.7V1134.3H3045.1M3040.4 1128.8H3030.2V1133.4H3039.7M3035.2 1122.9H3015.0V1131.1H3030.2M3044.7 1136.6H3038.9V1138.7H3043.3M3047.7 1140.0H3045.3V1141.3H3047.3M3045.3 1140.6H3042.6V1143.0H3046.4M3047.8 1144.5H3045.9V1145.8H3047.6M3045.9 1145.2H3043.0V1147.3H3045.7M3042.6 1141.8H3036.1V1146.2H3043.0M3038.9 1137.6H3029.0V1144.0H3036.1M3045.4 1149.2H3042.8V1150.8H3046.1M3042.8 1150.0H3038.5V1152.4H3043.5M3046.3 1156.6H3043.1V1158.3H3045.8M3044.9 1154.4H3038.0V1157.4H3043.1M3038.5 1151.2H3031.1V1155.9H3038.0M3029.0 1140.8H3017.6V1153.6H3031.1M3015.0 1127.0H2994.0V1147.2H3017.6M3046.7 1161.9H3044.3V1163.4H3046.7M3044.3 1162.6H3040.8V1165.3H3045.0M3043.6 1160.2H3035.7V1164.0H3040.8M3048.1 1167.4H3046.7V1168.9H3047.7M3046.7 1168.2H3044.1V1170.0H3046.2M3047.5 1173.4H3045.8V1175.5H3047.3M3046.1 1171.5H3042.9V1174.4H3045.8M3044.1 1169.1H3036.9V1173.0H3042.9M3035.7 1162.1H3021.1V1171.0H3036.9M3046.3 1177.6H3044.0V1179.0H3046.9M3047.6 1179.9H3045.8V1181.4H3047.7M3045.8 1180.6H3043.5V1182.9H3046.5M3044.0 1178.3H3040.1V1181.8H3043.5M3043.1 1184.1H3038.1V1185.5H3044.9M3040.1 1180.0H3029.1V1184.8H3038.1M3045.2 1187.6H3042.6V1189.4H3045.2M3042.6 1188.5H3033.8V1191.0H3040.8M3029.1 1182.4H3017.7V1189.8H3033.8M3021.1 1166.6H2996.0V1186.1H3017.7M2994.0 1137.1H2977.9V1176.3H2996.0M2982.0 1091.2H2962.8V1156.7H2977.9M2965.6 918.6H2952.5V1124.0H2962.8M2957.4 828.0H2942.3V1021.3H2952.5M2943.2 189.9H2915.4V924.6H2942.3"/>
<rect x="3044.0" y="21.3" width="9.5" height="1170.7" fill="#060000"/>
<path fill="none" stroke="#000" stroke-width="1.6" d="M3036.0 21.3h9.0M3042.0 23.9h3.0M3040.0 25.5h5.0M3041.0 27.9h4.0M3038.0 29.3h7.0M3042.0 30.9h3.0M3043.0 32.9h2.0M3040.0 35.2h5.0M3041.0 36.7h4.0M3036.0 39.3h9.0M3038.0 41.2h7.0M3041.0 42.6h4.0M3039.0 43.9h6.0M3043.0 45.3h2.0M3036.0 47.4h9.0M3036.0 49.7h9.0M3040.0 52.2h5.0M3040.0 54.4h5.0M3039.0 56.5h6.0M3043.0 58.8h2.0M3039.0 60.8h6.0M3036.0 63.2h9.0M3042.0 65.7h3.0M3043.0 67.5h2.0M3039.0 68.8h6.0M3039.0 71.5h6.0M3040.0 74.2h5.0M3036.0 76.0h9.0M3040.0 78.4h5.0M3036.0 81.4h9.0M3039.0 83.6h6.0M3040.0 85.0h5.0M3042.0 86.7h3.0M3039.0 88.0h6.0M3034.5 90.5h10.5M3043.0 92.0h2.0M3042.0 94.0h3.0M3035.8 96.4h9.2M3036.0 97.6h9.0M3040.0 99.9h5.0M3041.0 101.2h4.0M3039.0 103.9h6.0M3038.0 106.8h7.0M3041.0 109.5h4.0M3042.0 111.4h3.0M3043.0 114.0h2.0M3040.0 116.3h5.0M3040.0 118.9h5.0M3039.0 120.2h6.0M3039.0 122.9h6.0M3039.0 125.7h6.0M3030.5 127.7h14.5M3040.0 130.2h5.0M3042.0 132.7h3.0M3041.0 134.9h4.0M3040.0 136.1h5.0M3034.9 138.6h10.1M3042.0 141.4h3.0M3036.0 143.4h9.0M3040.0 146.2h5.0M3034.0 148.7h11.0M3041.0 150.1h4.0M3043.0 151.4h2.0M3040.0 153.6h5.0M3041.0 154.9h4.0M3043.0 157.5h2.0M3038.0 159.9h7.0M3036.0 161.5h9.0M3039.0 163.0h6.0M3042.0 165.2h3.0M3038.0 166.9h7.0M3043.0 169.9h2.0M3030.4 172.5h14.6M3039.0 174.8h6.0M3036.0 176.6h9.0M3040.0 178.6h5.0M3032.1 181.1h12.9M3040.0 183.0h5.0M3036.0 184.4h9.0M3040.0 186.1h5.0M3039.0 188.5h6.0M3031.9 190.4h13.1M3036.0 192.7h9.0M3039.0 195.3h6.0M3038.0 197.0h7.0M3038.0 199.1h7.0M3036.0 201.2h9.0M3043.0 204.0h2.0M3036.0 206.4h9.0M3043.0 209.2h2.0M3042.0 211.8h3.0M3035.2 214.6h9.8M3038.0 216.0h7.0M3041.0 218.9h4.0M3043.0 220.1h2.0M3042.0 221.5h3.0M3040.0 223.7h5.0M3038.0 226.1h7.0M3042.0 228.1h3.0M3036.0 229.8h9.0M3036.0 231.5h9.0M3040.0 234.3h5.0M3040.0 236.1h5.0M3036.0 237.6h9.0M3043.0 239.6h2.0M3038.0 241.0h7.0M3040.0 243.1h5.0M3036.0 245.9h9.0M3039.0 248.2h6.0M3035.8 249.8h9.2M3038.0 252.7h7.0M3040.0 255.2h5.0M3031.8 257.5h13.2M3036.0 259.2h9.0M3043.0 260.4h2.0M3040.0 262.9h5.0M3043.0 265.7h2.0M3042.0 268.7h3.0M3041.0 271.1h4.0M3038.0 273.9h7.0M3038.0 275.5h7.0M3034.3 276.8h10.7M3042.0 278.8h3.0M3040.0 280.5h5.0M3042.0 281.7h3.0M3043.0 284.2h2.0M3040.0 287.2h5.0M3042.0 289.6h3.0M3038.0 292.1h7.0M3043.0 293.8h2.0M3041.0 295.9h4.0M3043.0 297.7h2.0M3042.0 299.5h3.0M3042.0 301.5h3.0M3038.0 304.0h7.0M3033.9 306.2h11.1M3043.0 309.1h2.0M3036.0 311.9h9.0M3043.0 313.9h2.0M3036.0 316.0h9.0M3039.0 319.0h6.0M3039.0 321.0h6.0M3041.0 322.7h4.0M3038.0 325.4h7.0M3042.0 327.0h3.0M3032.9 328.6h12.1M3039.0 330.5h6.0M3041.0 332.9h4.0M3039.0 335.0h6.0M3033.4 337.7h11.6M3036.0 340.6h9.0M3041.0 343.0h4.0M3036.0 345.0h9.0M3036.0 346.6h9.0M3043.0 349.0h2.0M3028.2 350.5h16.8M3043.0 352.5h2.0M3036.0 354.8h9.0M3040.0 356.3h5.0M3040.0 358.4h5.0M3039.0 361.3h6.0M3040.0 363.6h5.0M3036.0 365.3h9.0M3040.0 367.6h5.0M3030.0 368.9h15.0M3036.0 371.8h9.0M3040.0 374.2h5.0M3038.0 376.2h7.0M3034.8 378.0h10.2M3029.5 380.3h15.5M3043.0 382.5h2.0M3042.0 384.9h3.0M3042.0 387.8h3.0M3040.0 389.3h5.0M3038.0 391.7h7.0M3042.0 393.6h3.0M3038.0 396.5h7.0M3036.0 399.1h9.0M3038.0 401.8h7.0M3042.0 403.3h3.0M3040.0 405.8h5.0M3039.0 408.8h6.0M3041.0 410.5h4.0M3038.0 412.0h7.0M3036.0 413.6h9.0M3042.0 416.1h3.0M3042.0 418.2h3.0M3036.0 420.3h9.0M3043.0 422.6h2.0M3040.0 424.2h5.0M3043.0 425.5h2.0M3043.0 428.0h2.0M3038.0 429.6h7.0M3038.0 431.6h7.0M3038.0 433.0h7.0M3043.0 434.5h2.0M3041.0 436.2h4.0M3041.0 437.9h4.0M3038.0 440.8h7.0M3041.0 442.8h4.0M3040.0 444.3h5.0M3038.0 445.6h7.0M3039.0 448.4h6.0M3038.0 450.6h7.0M3040.0 452.2h5.0M3039.0 454.4h6.0M3036.0 456.5h9.0M3035.4 459.3h9.6M3043.0 460.6h2.0M3038.0 462.8h7.0M3038.0 465.3h7.0M3036.0 466.7h9.0M3029.9 468.6h15.1M3039.0 471.6h6.0M3039.0 473.5h6.0M3041.0 475.9h4.0M3042.0 477.4h3.0M3036.0 478.9h9.0M3036.0 481.7h9.0M3043.0 484.2h2.0M3043.0 486.5h2.0M3038.0 489.5h7.0M3040.0 491.6h5.0M3036.0 493.4h9.0M3038.0 495.2h7.0M3038.0 497.9h7.0M3042.0 500.0h3.0M3042.0 501.5h3.0M3040.0 503.0h5.0M3041.0 504.5h4.0M3038.0 507.0h7.0M3041.0 508.5h4.0M3036.0 509.9h9.0M3040.0 512.4h5.0M3043.0 514.5h2.0M3040.0 516.4h5.0M3039.0 517.8h6.0M3043.0 519.7h2.0M3041.0 522.5h4.0M3034.7 525.1h10.3M3033.4 527.7h11.6M3036.0 529.9h9.0M3040.0 531.4h5.0M3040.0 534.2h5.0M3040.0 536.8h5.0M3041.0 538.2h4.0M3030.7 541.1h14.3M3040.0 543.9h5.0M3036.0 546.8h9.0M3041.0 548.3h4.0M3036.0 550.9h9.0M3033.4 552.2h11.6M3036.0 554.9h9.0M3039.0 556.9h6.0M3042.0 558.6h3.0M3034.2 560.1h10.8M3039.0 563.0h6.0M3039.0 564.8h6.0M3038.0 567.1h7.0M3039.0 569.9h6.0M3041.0 571.5h4.0M3036.0 574.0h9.0M3038.0 576.1h7.0M3042.0 578.7h3.0M3039.0 581.1h6.0M3043.0 582.4h2.0M3041.0 585.2h4.0M3036.0 587.1h9.0M3036.0 589.1h9.0M3040.0 590.6h5.0M3039.0 592.9h6.0M3041.0 595.4h4.0M3041.0 598.3h4.0M3039.0 599.8h6.0M3041.0 601.3h4.0M3033.3 602.5h11.7M3042.0 603.9h3.0M3041.0 606.4h4.0M3039.0 608.3h6.0M3032.7 610.6h12.3M3041.0 613.5h4.0M3036.0 616.1h9.0M3039.0 617.4h6.0M3038.0 619.5h7.0M3040.0 621.2h5.0M3036.0 622.5h9.0M3038.0 624.0h7.0M3041.0 625.8h4.0M3041.0 627.8h4.0M3043.0 629.4h2.0M3041.0 631.3h4.0M3030.4 632.9h14.6M3038.0 635.3h7.0M3041.0 637.3h4.0M3040.0 639.0h5.0M3038.0 641.1h7.0M3040.0 643.7h5.0M3040.0 646.2h5.0M3042.0 648.0h3.0M3038.0 649.9h7.0M3042.0 652.4h3.0M3040.0 655.0h5.0M3043.0 656.2h2.0M3038.0 658.1h7.0M3036.0 659.8h9.0M3042.0 661.2h3.0M3042.0 663.5h3.0M3039.0 665.9h6.0M3043.0 667.9h2.0M3039.0 669.3h6.0M3043.0 670.7h2.0M3041.0 672.6h4.0M3043.0 675.3h2.0M3043.0 677.1h2.0M3043.0 679.2h2.0M3043.0 680.6h2.0M3040.0 681.9h5.0M3043.0 684.1h2.0M3042.0 685.8h3.0M3041.0 688.6h4.0M3043.0 690.7h2.0M3039.0 692.1h6.0M3042.0 694.4h3.0M3036.0 695.9h9.0M3036.0 697.5h9.0M3038.0 700.2h7.0M3041.0 702.5h4.0M3041.0 704.8h4.0M3043.0 706.5h2.0M3040.0 708.1h5.0M3028.2 710.6h16.8M3036.0 712.6h9.0M3043.0 714.7h2.0M3042.0 717.1h3.0M3034.6 719.6h10.4M3036.0 722.4h9.0M3041.0 724.4h4.0M3043.0 726.2h2.0M3042.0 728.4h3.0M3041.0 731.0h4.0M3043.0 733.7h2.0M3036.0 736.4h9.0M3036.0 737.7h9.0M3028.3 740.1h16.7M3039.0 743.1h6.0M3043.0 744.4h2.0M3043.0 745.9h2.0M3041.0 748.1h4.0M3029.3 749.5h15.7M3032.3 752.2h12.7M3040.0 754.3h5.0M3043.0 756.4h2.0M3042.0 758.6h3.0M3040.0 761.2h5.0M3030.8 762.6h14.2M3038.0 765.4h7.0M3038.0 768.3h7.0M3038.0 770.2h7.0M3041.0 772.7h4.0M3042.0 774.5h3.0M3041.0 777.5h4.0M3042.0 778.9h3.0M3043.0 780.4h2.0M3036.0 782.8h9.0M3036.0 785.1h9.0M3041.0 787.5h4.0M3041.0 788.9h4.0M3043.0 791.1h2.0M3041.0 793.0h4.0M3029.5 795.7h15.5M3042.0 797.2h3.0M3036.0 799.7h9.0M3031.0 801.4h14.0M3031.5 803.0h13.5M3036.0 804.5h9.0M3036.0 806.3h9.0M3042.0 807.8h3.0M3043.0 809.5h2.0M3032.9 812.3h12.1M3036.0 814.8h9.0M3038.0 816.3h7.0M3043.0 817.6h2.0M3039.0 819.8h6.0M3040.0 821.4h5.0M3041.0 823.7h4.0M3043.0 825.5h2.0M3038.0 828.2h7.0M3038.0 830.3h7.0M3043.0 833.2h2.0M3043.0 836.1h2.0M3041.0 837.6h4.0M3038.0 839.1h7.0M3038.0 840.3h7.0M3040.0 841.6h5.0M3035.0 843.8h10.0M3041.0 846.3h4.0M3038.0 847.7h7.0M3036.0 849.2h9.0M3041.0 850.4h4.0M3038.0 853.1h7.0M3042.0 855.4h3.0M3040.0 856.8h5.0M3036.0 858.2h9.0M3043.0 860.1h2.0M3042.0 862.8h3.0M3043.0 865.6h2.0M3040.0 867.1h5.0M3038.0 868.9h7.0M3036.0 870.9h9.0M3036.0 872.2h9.0M3040.0 873.5h5.0M3038.0 876.4h7.0M3043.0 879.0h2.0M3036.0 881.7h9.0M3042.0 884.6h3.0M3043.0 887.2h2.0M3038.0 889.3h7.0M3039.0 890.8h6.0M3040.0 892.1h5.0M3039.0 894.1h6.0M3041.0 895.7h4.0M3040.0 896.9h5.0M3043.0 898.2h2.0M3038.0 900.7h7.0M3039.0 903.0h6.0M3038.0 905.8h7.0M3040.0 907.9h5.0M3036.0 909.5h9.0M3041.0 911.4h4.0M3036.0 912.9h9.0M3036.0 914.1h9.0M3040.0 916.0h5.0M3043.0 918.8h2.0M3032.1 920.7h12.9M3038.0 923.7h7.0M3038.0 926.6h7.0M3038.0 929.2h7.0M3040.0 930.6h5.0M3041.0 933.4h4.0M3040.0 934.8h5.0M3038.0 937.6h7.0M3042.0 939.7h3.0M3038.0 942.2h7.0M3040.0 945.0h5.0M3041.0 947.8h4.0M3038.0 949.3h7.0M3028.7 951.0h16.3M3036.0 952.5h9.0M3038.0 955.0h7.0M3041.0 957.9h4.0M3036.0 959.1h9.0M3040.0 962.0h5.0M3042.0 963.5h3.0M3042.0 965.6h3.0M3042.0 968.2h3.0M3043.0 970.5h2.0M3036.0 972.6h9.0M3029.1 974.2h15.9M3033.5 975.9h11.5M3043.0 978.8h2.0M3043.0 980.8h2.0M3039.0 982.7h6.0M3038.0 984.4h7.0M3042.0 986.9h3.0M3042.0 988.6h3.0M3043.0 991.2h2.0M3038.0 993.9h7.0M3039.0 996.4h6.0M3041.0 997.8h4.0M3036.0 1000.3h9.0M3042.0 1002.4h3.0M3042.0 1003.6h3.0M3038.0 1004.8h7.0M3031.9 1006.9h13.1M3038.0 1008.2h7.0M3043.0 1010.8h2.0M3042.0 1013.3h3.0M3036.0 1014.7h9.0M3041.0 1016.5h4.0M3038.0 1018.8h7.0M3039.0 1021.1h6.0M3036.0 1023.4h9.0M3032.4 1025.0h12.6M3040.0 1027.1h5.0M3042.0 1029.5h3.0M3042.0 1032.2h3.0M3043.0 1033.9h2.0M3041.0 1036.7h4.0M3038.0 1039.6h7.0M3036.0 1041.2h9.0M3040.0 1043.2h5.0M3032.2 1044.6h12.8M3036.0 1046.2h9.0M3040.0 1047.6h5.0M3041.0 1049.8h4.0M3039.0 1051.8h6.0M3028.8 1054.0h16.2M3036.0 1056.5h9.0M3043.0 1058.1h2.0M3040.0 1060.2h5.0M3040.0 1062.9h5.0M3036.0 1065.0h9.0M3038.0 1066.5h7.0M3032.6 1067.9h12.4M3040.0 1070.4h5.0M3040.0 1072.3h5.0M3041.0 1074.0h4.0M3041.0 1075.5h4.0M3040.0 1077.6h5.0M3042.0 1079.3h3.0M3039.0 1081.5h6.0M3043.0 1082.9h2.0M3039.0 1085.3h6.0M3043.0 1086.7h2.0M3039.0 1088.5h6.0M3040.0 1091.0h5.0M3042.0 1092.6h3.0M3042.0 1094.6h3.0M3036.0 1097.1h9.0M3043.0 1099.2h2.0M3042.0 1101.0h3.0M3041.0 1103.2h4.0M3040.0 1105.6h5.0M3040.0 1108.5h5.0M3036.0 1111.0h9.0M3034.8 1113.6h10.2M3040.0 1115.9h5.0M3039.0 1117.9h6.0M3043.0 1119.4h2.0M3038.0 1122.3h7.0M3042.0 1123.9h3.0M3031.1 1125.5h13.9M3038.0 1127.4h7.0M3039.0 1129.3h6.0M3043.0 1131.8h2.0M3035.8 1134.6h9.2M3041.0 1137.1h4.0M3040.0 1138.7h5.0M3043.0 1140.3h2.0M3029.1 1141.8h15.9M3043.0 1144.3h2.0M3040.0 1145.7h5.0M3030.8 1147.4h14.2M3036.0 1149.8h9.0M3040.0 1152.3h5.0M3043.0 1154.3h2.0M3038.0 1155.6h7.0M3042.0 1156.9h3.0M3042.0 1158.9h3.0M3043.0 1161.5h2.0M3043.0 1162.9h2.0M3043.0 1165.3h2.0M3042.0 1167.5h3.0M3036.0 1168.9h9.0M3043.0 1170.1h2.0M3039.0 1172.8h6.0M3042.0 1175.5h3.0M3036.0 1177.6h9.0M3038.0 1178.9h7.0M3041.0 1180.9h4.0M3042.0 1183.3h3.0M3038.0 1184.5h7.0M3041.0 1186.8h4.0M3036.0 1189.1h9.0M3042.0 1190.4h3.0"/>
<polygon fill="#060000" points="3053.0,810.0 3026.6,810.0 3026.2,813.9 3028.6,816.3 3030.7,821.5 3028.6,824.8 3031.2,829.2 3028.1,834.0 3027.4,838.2 3029.3,842.9 3024.2,848.6 3027.5,853.1 3027.1,855.8 3032.0,860.4 3027.0,865.4 3029.5,871.1 3024.5,873.4 3029.5,879.2 3025.5,884.4 3024.2,886.7 3033.6,890.9 3033.5,893.5 3028.5,898.3 3031.5,903.4 3033.5,908.1 3027.2,911.1 3027.3,916.3 3029.5,921.3 3030.2,924.8 3032.7,930.4 3033.3,932.6 3030.1,938.3 3028.1,940.4 3027.6,944.0 3026.8,949.8 3024.1,953.1 3030.0,957.2 3027.1,961.0 3025.4,964.8 3028.2,970.6 3029.0,974.0 3027.8,977.0 3031.5,980.6 3033.8,982.7 3024.6,988.7 3027.5,991.5 3027.4,993.6 3024.7,995.7 3025.6,998.3 3024.9,1001.7 3030.1,1003.8 3027.3,1008.8 3031.5,1012.7 3030.3,1017.4 3033.3,1022.9 3031.1,1026.3 3024.5,1030.6 3025.8,1034.2 3029.7,1037.2 3033.7,1040.4 3027.3,1045.5 3026.0,1051.1 3029.8,1053.1 3026.2,1055.4 3032.0,1061.4 3031.8,1066.9 3033.6,1070.5 3027.6,1076.1 3033.7,1078.5 3030.1,1084.0 3028.7,1089.4 3029.5,1095.1 3025.7,1099.9 3028.2,1104.1 3024.9,1106.5 3025.1,1109.0 3024.2,1112.3 3028.4,1115.3 3029.7,1118.7 3026.1,1123.7 3033.7,1128.8 3033.5,1134.0 3024.9,1136.4 3032.8,1141.7 3031.8,1146.7 3027.3,1152.3 3028.5,1156.9 3031.8,1161.5 3029.1,1166.2 3033.7,1169.2 3027.5,1174.4 3029.9,1177.4 3026.5,1180.4 3025.8,1183.6 3025.5,1186.5 3024.6,1191.3 3053.0,1192.0"/>
<polygon fill="#060000" points="3049.0,806.0 2995.0,811.2 2995.0,812.8 3049.0,818.0"/>
<polygon fill="#060000" points="3049.0,861.0 3005.0,869.2 3005.0,870.8 3049.0,879.0"/>
<polygon fill="#060000" points="3049.0,881.0 3009.0,887.2 3009.0,888.8 3049.0,895.0"/>
<polygon fill="#060000" points="3049.0,1044.0 3007.0,1052.2 3007.0,1053.8 3049.0,1062.0"/>
<polygon fill="#060000" points="3049.0,1076.0 3003.0,1085.2 3003.0,1086.8 3049.0,1096.0"/>
<polygon fill="#060000" points="3049.0,1093.0 3009.0,1099.2 3009.0,1100.8 3049.0,1107.0"/>
<polygon fill="#060000" points="3049.0,934.0 3017.0,939.2 3017.0,940.8 3049.0,946.0"/>
<polygon fill="#060000" points="3049.0,1144.0 3017.0,1149.2 3017.0,1150.8 3049.0,1156.0"/>
<polygon fill="#060000" points="3049.0,88.0 3029.0,91.2 3029.0,92.8 3049.0,96.0"/>
<rect x="1252.0" y="27.0" width="26.0" height="411.0" fill="url(#cb)"/>
<text x="1331.5" y="62.5" font-size="34.5" font-family="Liberation Serif, serif" text-anchor="end" textLength="22.0" lengthAdjust="spacingAndGlyphs" fill="#111" stroke="#fff" stroke-width="0.35">2</text>
<text x="1331.5" y="159.5" font-size="34.5" font-family="Liberation Serif, serif" text-anchor="end" textLength="22.0" lengthAdjust="spacingAndGlyphs" fill="#111" stroke="#fff" stroke-width="0.35">1</text>
<text x="1331.5" y="248.5" font-size="34.5" font-family="Liberation Serif, serif" text-anchor="end" textLength="22.0" lengthAdjust="spacingAndGlyphs" fill="#111" stroke="#fff" stroke-width="0.35">0</text>
<text x="1331.5" y="351.5" font-size="34.5" font-family="Liberation Serif, serif" text-anchor="end" textLength="36.0" lengthAdjust="spacingAndGlyphs" fill="#111" stroke="#fff" stroke-width="0.35">-1</text>
<text x="1331.5" y="431.5" font-size="34.5" font-family="Liberation Serif, serif" text-anchor="end" textLength="36.0" lengthAdjust="spacingAndGlyphs" fill="#111" stroke="#fff" stroke-width="0.35">-2</text>
<rect x="2697.0" y="47.0" width="26.0" height="399.0" fill="url(#cb)"/>
<text x="2765.5" y="71.3" font-size="34.5" font-family="Liberation Serif, serif" text-anchor="end" textLength="22.0" lengthAdjust="spacingAndGlyphs" fill="#111" stroke="#fff" stroke-width="0.35">2</text>
<text x="2765.5" y="169.5" font-size="34.5" font-family="Liberation Serif, serif" text-anchor="end" textLength="22.0" lengthAdjust="spacingAndGlyphs" fill="#111" stroke="#fff" stroke-width="0.35">1</text>
<text x="2765.5" y="260.1" font-size="34.5" font-family="Liberation Serif, serif" text-anchor="end" textLength="22.0" lengthAdjust="spacingAndGlyphs" fill="#111" stroke="#fff" stroke-width="0.35">0</text>
<text x="2765.5" y="363.5" font-size="34.5" font-family="Liberation Serif, serif" text-anchor="end" textLength="36.0" lengthAdjust="spacingAndGlyphs" fill="#111" stroke="#fff" stroke-width="0.35">-1</text>
<text x="2765.5" y="445.5" font-size="34.5" font-family="Liberation Serif, serif" text-anchor="end" textLength="36.0" lengthAdjust="spacingAndGlyphs" fill="#111" stroke="#fff" stroke-width="0.35">-2</text>
<rect x="4157.0" y="21.3" width="26.0" height="398.4" fill="url(#cb)"/>
<text x="4229.5" y="43.3" font-size="34.5" font-family="Liberation Serif, serif" text-anchor="end" textLength="22.0" lengthAdjust="spacingAndGlyphs" fill="#111" stroke="#fff" stroke-width="0.35">2</text>
<text x="4229.5" y="140.3" font-size="34.5" font-family="Liberation Serif, serif" text-anchor="end" textLength="22.0" lengthAdjust="spacingAndGlyphs" fill="#111" stroke="#fff" stroke-width="0.35">1</text>
<text x="4229.5" y="232.5" font-size="34.5" font-family="Liberation Serif, serif" text-anchor="end" textLength="22.0" lengthAdjust="spacingAndGlyphs" fill="#111" stroke="#fff" stroke-width="0.35">0</text>
<text x="4229.5" y="335.8" font-size="34.5" font-family="Liberation Serif, serif" text-anchor="end" textLength="36.0" lengthAdjust="spacingAndGlyphs" fill="#111" stroke="#fff" stroke-width="0.35">-1</text>
<text x="4229.5" y="416.9" font-size="34.5" font-family="Liberation Serif, serif" text-anchor="end" textLength="36.0" lengthAdjust="spacingAndGlyphs" fill="#111" stroke="#fff" stroke-width="0.35">-2</text>
<text x="212.7" y="1245.0" font-size="54.5" font-family="Liberation Serif, serif" font-weight="bold" textLength="245.0" lengthAdjust="spacingAndGlyphs" transform="rotate(90 212.7 1245.0)" fill="#1a1311">Ro-1-RH-1</text>
<text x="408.7" y="1244.0" font-size="54.5" font-family="Liberation Serif, serif" font-weight="bold" textLength="245.0" lengthAdjust="spacingAndGlyphs" transform="rotate(90 408.7 1244.0)" fill="#1a1311">Ro-1-RH-2</text>
<text x="592.7" y="1240.3" font-size="54.5" font-family="Liberation Serif, serif" font-weight="bold" textLength="245.0" lengthAdjust="spacingAndGlyphs" transform="rotate(90 592.7 1240.3)" fill="#1a1311">Ro-1-RH-3</text>
<text x="771.2" y="1245.0" font-size="54.5" font-family="Liberation Serif, serif" font-weight="bold" textLength="245.0" lengthAdjust="spacingAndGlyphs" transform="rotate(90 771.2 1245.0)" fill="#1a1311">Ro-2-RH-1</text>
<text x="954.0" y="1244.0" font-size="54.5" font-family="Liberation Serif, serif" font-weight="bold" textLength="245.0" lengthAdjust="spacingAndGlyphs" transform="rotate(90 954.0 1244.0)" fill="#1a1311">Ro-2-RH-2</text>
<text x="1144.2" y="1240.3" font-size="54.5" font-family="Liberation Serif, serif" font-weight="bold" textLength="245.0" lengthAdjust="spacingAndGlyphs" transform="rotate(90 1144.2 1240.3)" fill="#1a1311">Ro-2-RH-3</text>
<text x="1684.0" y="1230.0" font-size="54.5" font-family="Liberation Serif, serif" font-weight="bold" textLength="245.0" lengthAdjust="spacingAndGlyphs" transform="rotate(90 1684.0 1230.0)" fill="#1a1311">Ro-1-RH-1</text>
<text x="1880.0" y="1229.0" font-size="54.5" font-family="Liberation Serif, serif" font-weight="bold" textLength="245.0" lengthAdjust="spacingAndGlyphs" transform="rotate(90 1880.0 1229.0)" fill="#1a1311">Ro-1-RH-2</text>
<text x="2064.0" y="1225.3" font-size="54.5" font-family="Liberation Serif, serif" font-weight="bold" textLength="245.0" lengthAdjust="spacingAndGlyphs" transform="rotate(90 2064.0 1225.3)" fill="#1a1311">Ro-1-RH-3</text>
<text x="2242.5" y="1230.0" font-size="54.5" font-family="Liberation Serif, serif" font-weight="bold" textLength="245.0" lengthAdjust="spacingAndGlyphs" transform="rotate(90 2242.5 1230.0)" fill="#1a1311">Ro-2-RH-1</text>
<text x="2425.3" y="1229.0" font-size="54.5" font-family="Liberation Serif, serif" font-weight="bold" textLength="245.0" lengthAdjust="spacingAndGlyphs" transform="rotate(90 2425.3 1229.0)" fill="#1a1311">Ro-2-RH-2</text>
<text x="2615.5" y="1225.3" font-size="54.5" font-family="Liberation Serif, serif" font-weight="bold" textLength="245.0" lengthAdjust="spacingAndGlyphs" transform="rotate(90 2615.5 1225.3)" fill="#1a1311">Ro-2-RH-3</text>
<text x="3135.0" y="1198.6" font-size="54.5" font-family="Liberation Serif, serif" font-weight="bold" textLength="245.0" lengthAdjust="spacingAndGlyphs" transform="rotate(90 3135.0 1198.6)" fill="#1a1311">Ro-1-RH-1</text>
<text x="3331.0" y="1197.6" font-size="54.5" font-family="Liberation Serif, serif" font-weight="bold" textLength="245.0" lengthAdjust="spacingAndGlyphs" transform="rotate(90 3331.0 1197.6)" fill="#1a1311">Ro-1-RH-2</text>
<text x="3515.0" y="1193.9" font-size="54.5" font-family="Liberation Serif, serif" font-weight="bold" textLength="245.0" lengthAdjust="spacingAndGlyphs" transform="rotate(90 3515.0 1193.9)" fill="#1a1311">Ro-1-RH-3</text>
<text x="3693.5" y="1198.6" font-size="54.5" font-family="Liberation Serif, serif" font-weight="bold" textLength="245.0" lengthAdjust="spacingAndGlyphs" transform="rotate(90 3693.5 1198.6)" fill="#1a1311">Ro-2-RH-1</text>
<text x="3876.3" y="1197.6" font-size="54.5" font-family="Liberation Serif, serif" font-weight="bold" textLength="245.0" lengthAdjust="spacingAndGlyphs" transform="rotate(90 3876.3 1197.6)" fill="#1a1311">Ro-2-RH-2</text>
<text x="4066.5" y="1193.9" font-size="54.5" font-family="Liberation Serif, serif" font-weight="bold" textLength="245.0" lengthAdjust="spacingAndGlyphs" transform="rotate(90 4066.5 1193.9)" fill="#1a1311">Ro-2-RH-3</text>
<text x="7.5" y="73.5" font-size="84" font-family="Liberation Serif, serif">a</text>
<text x="1451.0" y="73.5" font-size="86" font-family="Liberation Serif, serif">b</text>
<text x="2870.0" y="73.5" font-size="84" font-family="Liberation Serif, serif">c</text>
<text x="53.0" y="1647.5" font-size="82" font-family="Liberation Serif, serif">d</text>
<text x="1221.0" y="1647.0" font-size="84" font-family="Liberation Serif, serif">e</text>
<text x="2810.0" y="1591.5" font-size="84" font-family="Liberation Serif, serif">f</text>
<g stroke="#000" stroke-width="5.2">
<circle cx="373.5" cy="2378" r="362.3" fill="#7eaace"/>
<circle cx="809.2" cy="2378" r="362.3" fill="#db5019" fill-opacity="0.6"/>
<circle cx="592" cy="2015.3" r="362" fill="#999" fill-opacity="0.63"/>
</g>
<text x="341.5" y="1632.0" font-size="50.3" font-family="Liberation Sans" font-weight="bold" textLength="492.0" lengthAdjust="spacingAndGlyphs">Ro-1-RH-vs-Ro-2-RH</text>
<text x="101.4" y="2816.4" font-size="50.3" font-family="Liberation Sans" font-weight="bold" textLength="454.6" lengthAdjust="spacingAndGlyphs">Ro-1-R-vs-Ro-1-RH</text>
<text x="710.8" y="2816.4" font-size="50.3" font-family="Liberation Sans" font-weight="bold" textLength="492.5" lengthAdjust="spacingAndGlyphs">Ro-2-RH-vs-Ro-3-RH</text>
<text x="593.7" y="1889.8" font-size="51.5" font-family="Liberation Sans" text-anchor="middle">7173</text>
<text x="411.2" y="2196.0" font-size="51.5" font-family="Liberation Sans" text-anchor="middle">3603</text>
<text x="774.5" y="2196.0" font-size="51.5" font-family="Liberation Sans" text-anchor="middle">2878</text>
<text x="595.0" y="2288.0" font-size="51.5" font-family="Liberation Sans" text-anchor="middle">1224</text>
<text x="230.3" y="2504.0" font-size="51.5" font-family="Liberation Sans" text-anchor="middle">6792</text>
<text x="593.6" y="2504.0" font-size="51.5" font-family="Liberation Sans" text-anchor="middle">569</text>
<text x="959.2" y="2504.0" font-size="51.5" font-family="Liberation Sans" text-anchor="middle">1838</text>
<text x="1812.6" y="1657.9" font-size="37.3" font-family="Liberation Sans" textLength="203.6" lengthAdjust="spacingAndGlyphs">Photosynthesis</text>
<rect x="2041" y="1644.4" width="6.5" height="4.4" fill="#444"/>
<rect x="2075.1" y="1633.1" width="61.2" height="27" fill="#152d47"/>
<text x="2148.8" y="1654.2" font-size="21" font-family="Liberation Sans" textLength="95.6" lengthAdjust="spacingAndGlyphs" fill="#111">825 (4e-127)</text>
<text x="1889.0" y="1713.0" font-size="37.3" font-family="Liberation Sans" textLength="133.8" lengthAdjust="spacingAndGlyphs">Ribosome</text>
<rect x="2041" y="1699.5" width="6.5" height="4.4" fill="#444"/>
<rect x="2075.1" y="1688.2" width="75.1" height="27" fill="#152d47"/>
<text x="2165.6" y="1709.3" font-size="21" font-family="Liberation Sans" textLength="118.8" lengthAdjust="spacingAndGlyphs" fill="#111">1012 (1.1e-101)</text>
<text x="1538.1" y="1768.2" font-size="37.3" font-family="Liberation Sans" textLength="452.9" lengthAdjust="spacingAndGlyphs">Photosynthesis - antenna proteins</text>
<rect x="2041" y="1754.7" width="6.5" height="4.4" fill="#444"/>
<rect x="2075.1" y="1743.4" width="15.6" height="27" fill="#152d47"/>
<text x="2103.7" y="1764.5" font-size="21" font-family="Liberation Sans" textLength="100.2" lengthAdjust="spacingAndGlyphs" fill="#111">210 (4.8e-34)</text>
<text x="1395.8" y="1823.3" font-size="37.3" font-family="Liberation Sans" textLength="583.6" lengthAdjust="spacingAndGlyphs">Carbon fixation in photosynthetic organisms</text>
<rect x="2041" y="1809.8" width="6.5" height="4.4" fill="#444"/>
<rect x="2075.1" y="1798.5" width="37.2" height="27" fill="#152d47"/>
<text x="2125.3" y="1819.6" font-size="21" font-family="Liberation Sans" textLength="100.2" lengthAdjust="spacingAndGlyphs" fill="#111">501 (9.2e-31)</text>
<text x="1435.8" y="1878.4" font-size="37.3" font-family="Liberation Sans" textLength="546.2" lengthAdjust="spacingAndGlyphs">Glyoxylate and dicarboxylate metabolism</text>
<rect x="2041" y="1864.9" width="6.5" height="4.4" fill="#444"/>
<rect x="2075.1" y="1853.6" width="41.7" height="27" fill="#152d47"/>
<text x="2129.8" y="1874.7" font-size="21" font-family="Liberation Sans" textLength="100.2" lengthAdjust="spacingAndGlyphs" fill="#111">562 (8.9e-30)</text>
<text x="1485.8" y="1933.5" font-size="37.3" font-family="Liberation Sans" textLength="501.2" lengthAdjust="spacingAndGlyphs">Porphyrin and chlorophyll metabolism</text>
<rect x="2041" y="1920.0" width="6.5" height="4.4" fill="#444"/>
<rect x="2075.1" y="1908.8" width="19.4" height="27" fill="#152d47"/>
<text x="2105.8" y="1929.8" font-size="21" font-family="Liberation Sans" textLength="86.3" lengthAdjust="spacingAndGlyphs" fill="#111">262 (7e-23)</text>
<text x="1746.7" y="1988.7" font-size="37.3" font-family="Liberation Sans" textLength="263.7" lengthAdjust="spacingAndGlyphs">Metabolic pathways</text>
<rect x="2041" y="1975.2" width="6.5" height="4.4" fill="#444"/>
<rect x="2075.1" y="1963.9" width="391.6" height="27" fill="#152d47"/>
<text x="2480.9" y="1985.0" font-size="21" font-family="Liberation Sans" textLength="109.5" lengthAdjust="spacingAndGlyphs" fill="#111">5277 (4.4e-22)</text>
<text x="1474.5" y="2043.8" font-size="37.3" font-family="Liberation Sans" textLength="511.8" lengthAdjust="spacingAndGlyphs">Biosynthesis of secondary metabolites</text>
<rect x="2041" y="2030.3" width="6.5" height="4.4" fill="#444"/>
<rect x="2075.1" y="2019.0" width="204.4" height="27" fill="#152d47"/>
<text x="2293.8" y="2040.1" font-size="21" font-family="Liberation Sans" textLength="109.5" lengthAdjust="spacingAndGlyphs" fill="#111">2755 (2.5e-14)</text>
<text x="1788.2" y="2098.9" font-size="37.3" font-family="Liberation Sans" textLength="225.3" lengthAdjust="spacingAndGlyphs">RNA polymerase</text>
<rect x="2041" y="2085.4" width="6.5" height="4.4" fill="#444"/>
<rect x="2075.1" y="2074.1" width="14.0" height="27" fill="#152d47"/>
<text x="2102.2" y="2095.2" font-size="21" font-family="Liberation Sans" textLength="100.2" lengthAdjust="spacingAndGlyphs" fill="#111">189 (2.4e-12)</text>
<text x="1684.7" y="2154.1" font-size="37.3" font-family="Liberation Sans" textLength="319.9" lengthAdjust="spacingAndGlyphs">Carotenoid biosynthesis</text>
<rect x="2041" y="2140.6" width="6.5" height="4.4" fill="#444"/>
<rect x="2075.1" y="2129.3" width="8.7" height="27" fill="#152d47"/>
<text x="2096.7" y="2150.4" font-size="21" font-family="Liberation Sans" textLength="99.0" lengthAdjust="spacingAndGlyphs" fill="#111">117 (3.1e-12)</text>
<text x="1734.3" y="2209.2" font-size="37.3" font-family="Liberation Sans" textLength="274.9" lengthAdjust="spacingAndGlyphs">Nitrogen metabolism</text>
<rect x="2041" y="2195.7" width="6.5" height="4.4" fill="#444"/>
<rect x="2075.1" y="2184.4" width="14.7" height="27" fill="#152d47"/>
<text x="2102.8" y="2205.5" font-size="21" font-family="Liberation Sans" textLength="100.2" lengthAdjust="spacingAndGlyphs" fill="#111">198 (5.9e-12)</text>
<text x="1676.9" y="2264.3" font-size="37.3" font-family="Liberation Sans" textLength="327.7" lengthAdjust="spacingAndGlyphs">Linoleic acid metabolism</text>
<rect x="2041" y="2250.8" width="6.5" height="4.4" fill="#444"/>
<rect x="2075.1" y="2239.5" width="6.4" height="27" fill="#152d47"/>
<text x="2093.3" y="2260.6" font-size="21" font-family="Liberation Sans" textLength="91.0" lengthAdjust="spacingAndGlyphs" fill="#111">86 (7.6e-12)</text>
<text x="1750.6" y="2319.5" font-size="37.3" font-family="Liberation Sans" textLength="259.0" lengthAdjust="spacingAndGlyphs">Carbon metabolism</text>
<rect x="2041" y="2306.0" width="6.5" height="4.4" fill="#444"/>
<rect x="2075.1" y="2294.7" width="82.2" height="27" fill="#152d47"/>
<text x="2171.4" y="2315.8" font-size="21" font-family="Liberation Sans" textLength="108.3" lengthAdjust="spacingAndGlyphs" fill="#111">1108 (2.2e-09)</text>
<text x="1619.9" y="2374.6" font-size="37.3" font-family="Liberation Sans" textLength="379.6" lengthAdjust="spacingAndGlyphs">Pentose phosphate pathway</text>
<rect x="2041" y="2361.1" width="6.5" height="4.4" fill="#444"/>
<rect x="2075.1" y="2349.8" width="18.7" height="27" fill="#152d47"/>
<text x="2105.0" y="2370.9" font-size="21" font-family="Liberation Sans" textLength="86.3" lengthAdjust="spacingAndGlyphs" fill="#111">252 (2e-06)</text>
<text x="1702.9" y="2429.7" font-size="37.3" font-family="Liberation Sans" textLength="303.6" lengthAdjust="spacingAndGlyphs">Flavonoid biosynthesis</text>
<rect x="2041" y="2416.2" width="6.5" height="4.4" fill="#444"/>
<rect x="2075.1" y="2404.9" width="6.7" height="27" fill="#152d47"/>
<text x="2093.6" y="2426.0" font-size="21" font-family="Liberation Sans" textLength="91.0" lengthAdjust="spacingAndGlyphs" fill="#111">90 (6.3e-06)</text>
<text x="1428.8" y="2484.9" font-size="37.3" font-family="Liberation Sans" textLength="553.3" lengthAdjust="spacingAndGlyphs">Glycine, serine and threonine metabolism</text>
<rect x="2041" y="2471.4" width="6.5" height="4.4" fill="#444"/>
<rect x="2075.1" y="2460.1" width="17.9" height="27" fill="#152d47"/>
<text x="2106.0" y="2481.2" font-size="21" font-family="Liberation Sans" textLength="100.2" lengthAdjust="spacingAndGlyphs" fill="#111">241 (2.7e-05)</text>
<text x="1598.2" y="2540.0" font-size="37.3" font-family="Liberation Sans" textLength="399.4" lengthAdjust="spacingAndGlyphs">Phenylpropanoid biosynthesis</text>
<rect x="2041" y="2526.5" width="6.5" height="4.4" fill="#444"/>
<rect x="2075.1" y="2515.2" width="13.3" height="27" fill="#152d47"/>
<text x="2101.4" y="2536.3" font-size="21" font-family="Liberation Sans" textLength="100.2" lengthAdjust="spacingAndGlyphs" fill="#111">179 (4.2e-05)</text>
<text x="1573.4" y="2595.1" font-size="37.3" font-family="Liberation Sans" textLength="421.5" lengthAdjust="spacingAndGlyphs">Starch and sucrose metabolism</text>
<rect x="2041" y="2581.6" width="6.5" height="4.4" fill="#444"/>
<rect x="2075.1" y="2570.3" width="31.5" height="27" fill="#17314c"/>
<text x="2120.2" y="2591.4" font-size="21" font-family="Liberation Sans" textLength="104.0" lengthAdjust="spacingAndGlyphs" fill="#111">425 (0.00028)</text>
<text x="1535.4" y="2650.2" font-size="37.3" font-family="Liberation Sans" textLength="454.8" lengthAdjust="spacingAndGlyphs">Limonene and pinene degradation</text>
<rect x="2041" y="2636.7" width="6.5" height="4.4" fill="#444"/>
<rect x="2075.1" y="2625.4" width="3.6" height="27" fill="#1e3c59"/>
<text x="2088.6" y="2646.5" font-size="21" font-family="Liberation Sans" textLength="76.1" lengthAdjust="spacingAndGlyphs" fill="#111">48 (0.001)</text>
<text x="1253.2" y="2705.4" font-size="37.3" font-family="Liberation Sans" textLength="712.7" lengthAdjust="spacingAndGlyphs">Ubiquinone and other terpenoid-quinone biosynthesis</text>
<rect x="2041" y="2691.9" width="6.5" height="4.4" fill="#444"/>
<rect x="2075.1" y="2680.6" width="5.7" height="27" fill="#5ea8e2"/>
<text x="2091.9" y="2701.7" font-size="21" font-family="Liberation Sans" textLength="85.4" lengthAdjust="spacingAndGlyphs" fill="#111">77 (0.0084)</text>
<rect x="2049.9" y="1615.8" width="600.1" height="1112.1" fill="none" stroke="#000" stroke-width="5.7"/>
<rect x="1436.9" y="2010.1" width="581.7" height="52.4" fill="none" stroke="#e0301e" stroke-width="4.6"/>
<rect x="1670.3" y="2398.3" width="352.1" height="43.9" fill="none" stroke="#e0301e" stroke-width="4.6"/>
<rect x="1552.4" y="2505.7" width="470.0" height="47.8" fill="none" stroke="#e0301e" stroke-width="4.6"/>
<rect x="2071.9" y="2727" width="6.4" height="7" fill="#444"/>
<text x="2076.2" y="2767.3" font-size="31.5" font-family="Liberation Sans" text-anchor="middle" textLength="15.1" lengthAdjust="spacingAndGlyphs" fill="#111">0</text>
<rect x="2208.1" y="2727" width="6.4" height="7" fill="#444"/>
<text x="2210.6" y="2767.3" font-size="31.5" font-family="Liberation Sans" text-anchor="middle" textLength="30.1" lengthAdjust="spacingAndGlyphs" fill="#111">20</text>
<rect x="2344.3" y="2727" width="6.4" height="7" fill="#444"/>
<text x="2348.6" y="2767.3" font-size="31.5" font-family="Liberation Sans" text-anchor="middle" textLength="30.1" lengthAdjust="spacingAndGlyphs" fill="#111">40</text>
<rect x="2480.5" y="2727" width="6.4" height="7" fill="#444"/>
<text x="2482.0" y="2767.3" font-size="31.5" font-family="Liberation Sans" text-anchor="middle" textLength="30.1" lengthAdjust="spacingAndGlyphs" fill="#111">60</text>
<rect x="2616.7" y="2727" width="6.4" height="7" fill="#444"/>
<text x="2619.5" y="2767.3" font-size="31.5" font-family="Liberation Sans" text-anchor="middle" textLength="30.1" lengthAdjust="spacingAndGlyphs" fill="#111">80</text>
<text x="2203.1" y="2806.4" font-size="33.6" font-family="Liberation Sans" textLength="235.8" lengthAdjust="spacingAndGlyphs">Gene Percent(%)</text>
<text x="2035.5" y="1591.0" font-size="45" font-family="Liberation Sans" textLength="487.4" lengthAdjust="spacingAndGlyphs">Top 20 of KEGG Enrichment</text>
<text x="1240.3" y="2246.0" font-size="33" font-family="Liberation Sans" textLength="117.5" lengthAdjust="spacingAndGlyphs" transform="rotate(-90 1240.3 2246.0)">Pathway</text>
<text x="2687.7" y="2073.7" font-size="25.5" font-family="Liberation Sans" textLength="62.4" lengthAdjust="spacingAndGlyphs">qvalue</text>
<rect x="2688.1" y="2088.7" width="38.7" height="198.8" fill="url(#cq)"/>
<path d="M2688.1 2099.8h7.7M2719.1 2099.8h7.7" stroke="#fff" stroke-width="2.1"/>
<text x="2740.4" y="2109.1" font-size="26.6" font-family="Liberation Sans" textLength="57.0" lengthAdjust="spacingAndGlyphs" fill="#111">0.008</text>
<path d="M2688.1 2147.0h7.7M2719.1 2147.0h7.7" stroke="#fff" stroke-width="2.1"/>
<text x="2740.4" y="2156.3" font-size="26.6" font-family="Liberation Sans" textLength="57.0" lengthAdjust="spacingAndGlyphs" fill="#111">0.006</text>
<path d="M2688.1 2194.2h7.7M2719.1 2194.2h7.7" stroke="#fff" stroke-width="2.1"/>
<text x="2740.4" y="2203.5" font-size="26.6" font-family="Liberation Sans" textLength="57.0" lengthAdjust="spacingAndGlyphs" fill="#111">0.004</text>
<path d="M2688.1 2240.5h7.7M2719.1 2240.5h7.7" stroke="#fff" stroke-width="2.1"/>
<text x="2740.4" y="2249.8" font-size="26.6" font-family="Liberation Sans" textLength="57.0" lengthAdjust="spacingAndGlyphs" fill="#111">0.002</text>
<g shape-rendering="crispEdges">
<rect x="3010.0" y="1545.0" width="166.7" height="82.3" fill="#368bcc"/>
<rect x="3176.2" y="1545.0" width="166.7" height="82.3" fill="#d51618"/>
<rect x="3342.4" y="1545.0" width="166.7" height="82.3" fill="#85bee8"/>
<rect x="3010.0" y="1626.8" width="166.7" height="82.3" fill="#6eb2e4"/>
<rect x="3176.2" y="1626.8" width="166.7" height="82.3" fill="#d51618"/>
<rect x="3342.4" y="1626.8" width="166.7" height="82.3" fill="#368bcc"/>
<rect x="3010.0" y="1708.7" width="166.7" height="82.3" fill="#b8dbf4"/>
<rect x="3176.2" y="1708.7" width="166.7" height="82.3" fill="#d51618"/>
<rect x="3342.4" y="1708.7" width="166.7" height="82.3" fill="#368bcc"/>
<rect x="3010.0" y="1790.5" width="166.7" height="82.3" fill="#96c8ec"/>
<rect x="3176.2" y="1790.5" width="166.7" height="82.3" fill="#d51618"/>
<rect x="3342.4" y="1790.5" width="166.7" height="82.3" fill="#368bcc"/>
<rect x="3010.0" y="1872.4" width="166.7" height="82.3" fill="#ffffff"/>
<rect x="3176.2" y="1872.4" width="166.7" height="82.3" fill="#368bcc"/>
<rect x="3342.4" y="1872.4" width="166.7" height="82.3" fill="#d51618"/>
<rect x="3010.0" y="1954.2" width="166.7" height="82.3" fill="#d51618"/>
<rect x="3176.2" y="1954.2" width="166.7" height="82.3" fill="#368bcc"/>
<rect x="3342.4" y="1954.2" width="166.7" height="82.3" fill="#efa0a5"/>
<rect x="3010.0" y="2036.1" width="166.7" height="82.3" fill="#d51618"/>
<rect x="3176.2" y="2036.1" width="166.7" height="82.3" fill="#368bcc"/>
<rect x="3342.4" y="2036.1" width="166.7" height="82.3" fill="#f4c4c8"/>
<rect x="3010.0" y="2117.9" width="166.7" height="82.3" fill="#d51618"/>
<rect x="3176.2" y="2117.9" width="166.7" height="82.3" fill="#368bcc"/>
<rect x="3342.4" y="2117.9" width="166.7" height="82.3" fill="#dc2d37"/>
<rect x="3010.0" y="2199.8" width="166.7" height="82.3" fill="#d51618"/>
<rect x="3176.2" y="2199.8" width="166.7" height="82.3" fill="#368bcc"/>
<rect x="3342.4" y="2199.8" width="166.7" height="82.3" fill="#d81f28"/>
<rect x="3010.0" y="2281.7" width="166.7" height="82.3" fill="#d51618"/>
<rect x="3176.2" y="2281.7" width="166.7" height="82.3" fill="#368bcc"/>
<rect x="3342.4" y="2281.7" width="166.7" height="82.3" fill="#d61a1e"/>
<rect x="3010.0" y="2363.5" width="166.7" height="82.3" fill="#d51618"/>
<rect x="3176.2" y="2363.5" width="166.7" height="82.3" fill="#368bcc"/>
<rect x="3342.4" y="2363.5" width="166.7" height="82.3" fill="#d61a1e"/>
<rect x="3010.0" y="2445.3" width="166.7" height="82.3" fill="#de444e"/>
<rect x="3176.2" y="2445.3" width="166.7" height="82.3" fill="#368bcc"/>
<rect x="3342.4" y="2445.3" width="166.7" height="82.3" fill="#d51618"/>
<rect x="3010.0" y="2527.2" width="166.7" height="82.3" fill="#e4787f"/>
<rect x="3176.2" y="2527.2" width="166.7" height="82.3" fill="#368bcc"/>
<rect x="3342.4" y="2527.2" width="166.7" height="82.3" fill="#d51618"/>
<rect x="3010.0" y="2609.1" width="166.7" height="82.3" fill="#e26e76"/>
<rect x="3176.2" y="2609.1" width="166.7" height="82.3" fill="#368bcc"/>
<rect x="3342.4" y="2609.1" width="166.7" height="82.3" fill="#d51618"/>
</g>
<text x="3510.2" y="1597.6" font-size="39.7" font-family="Liberation Sans" textLength="527.4" lengthAdjust="spacingAndGlyphs">CYP75B137_Isoform0042404</text>
<text x="3514.9" y="1687.5" font-size="39.7" font-family="Liberation Sans" textLength="488.6" lengthAdjust="spacingAndGlyphs">CYP82G1_Isoform0021460</text>
<text x="3513.0" y="1770.1" font-size="39.7" font-family="Liberation Sans" textLength="507.1" lengthAdjust="spacingAndGlyphs">UGT71A15_Isoform0034382</text>
<text x="3516.8" y="1848.8" font-size="39.7" font-family="Liberation Sans" textLength="486.7" lengthAdjust="spacingAndGlyphs">CYP82C4_Isoform0031210</text>
<text x="3516.8" y="1934.1" font-size="39.7" font-family="Liberation Sans" textLength="511.9" lengthAdjust="spacingAndGlyphs">CYP81Q32_Isoform0022922</text>
<text x="3524.6" y="2009.3" font-size="39.7" font-family="Liberation Sans" textLength="450.9" lengthAdjust="spacingAndGlyphs">WRKY4_Isoform0005480</text>
<text x="3524.6" y="2091.9" font-size="39.7" font-family="Liberation Sans" textLength="473.0" lengthAdjust="spacingAndGlyphs">WRKY44_Isoform0013758</text>
<text x="3524.6" y="2172.9" font-size="39.7" font-family="Liberation Sans" textLength="435.0" lengthAdjust="spacingAndGlyphs">CYP95_Isoform0004277</text>
<text x="3524.6" y="2254.3" font-size="39.7" font-family="Liberation Sans" textLength="473.0" lengthAdjust="spacingAndGlyphs">WRKY70_Isoform0036875</text>
<text x="3524.6" y="2336.5" font-size="39.7" font-family="Liberation Sans" textLength="473.0" lengthAdjust="spacingAndGlyphs">WRKY33_Isoform0021823</text>
<text x="3524.6" y="2418.0" font-size="39.7" font-family="Liberation Sans" textLength="504.1" lengthAdjust="spacingAndGlyphs">CYP76T24_Isoform0026322</text>
<text x="3524.6" y="2500.2" font-size="39.7" font-family="Liberation Sans" textLength="473.0" lengthAdjust="spacingAndGlyphs">WRKY40_Isoform0033507</text>
<text x="3524.6" y="2582.0" font-size="39.7" font-family="Liberation Sans" textLength="473.8" lengthAdjust="spacingAndGlyphs">WRKY46_Isoform0002439</text>
<text x="3524.6" y="2664.2" font-size="39.7" font-family="Liberation Sans" textLength="511.8" lengthAdjust="spacingAndGlyphs">CYP81Q32_Isoform0045029</text>
<path fill="none" stroke="#808080" stroke-width="5.3" stroke-linejoin="miter" d="M3010.3 1749.6H2924.0V1831.5H3010.3M3010.3 1667.8H2902.8V1790.5H2924.0M3010.3 1585.9H2881.3V1729.2H2902.8M3010.3 1995.2H2924.0V2077.0H3010.3M3010.3 2322.6H2989.3V2404.4H3010.3M3010.3 2240.7H2967.2V2363.5H2989.3M3010.3 2158.9H2945.5V2302.1H2967.2M3010.3 2568.1H2967.2V2650.0H3010.3M3010.3 2486.3H2945.5V2609.1H2967.2M2945.5 2230.5H2924.0V2547.7H2945.5M2924.0 2036.1H2902.8V2389.1H2924.0M3010.3 1913.3H2881.3V2212.6H2902.8"/>
<path fill="none" stroke="#808080" stroke-width="3" d="M2881.3 1657.5H2861.5V2063.0H2881.3"/>
<text x="3060.5" y="2725.4" font-size="39.5" font-family="Liberation Sans" text-anchor="end" transform="rotate(-45 3060.5 2725.4)">Ro-1-RH</text>
<text x="3115.9" y="2725.4" font-size="39.5" font-family="Liberation Sans" text-anchor="end" transform="rotate(-45 3115.9 2725.4)">Ro-2-RH</text>
<text x="3171.3" y="2725.4" font-size="39.5" font-family="Liberation Sans" text-anchor="end" transform="rotate(-45 3171.3 2725.4)">Ro-3-RH</text>
<text x="3226.7" y="2725.4" font-size="39.5" font-family="Liberation Sans" text-anchor="end" transform="rotate(-45 3226.7 2725.4)">Ro-2-RH-1</text>
<text x="3282.1" y="2725.4" font-size="39.5" font-family="Liberation Sans" text-anchor="end" transform="rotate(-45 3282.1 2725.4)">Ro-2-RH-2</text>
<text x="3337.5" y="2725.4" font-size="39.5" font-family="Liberation Sans" text-anchor="end" transform="rotate(-45 3337.5 2725.4)">Ro-2-RH-3</text>
<text x="3392.9" y="2725.4" font-size="39.5" font-family="Liberation Sans" text-anchor="end" transform="rotate(-45 3392.9 2725.4)">Ro-3-RH-1</text>
<text x="3448.3" y="2725.4" font-size="39.5" font-family="Liberation Sans" text-anchor="end" transform="rotate(-45 3448.3 2725.4)">Ro-3-RH-2</text>
<text x="3503.7" y="2725.4" font-size="39.5" font-family="Liberation Sans" text-anchor="end" transform="rotate(-45 3503.7 2725.4)">Ro-3-RH-3</text>
<rect x="4093.5" y="1569.3" width="54.5" height="430.7" fill="url(#cf)" stroke="#000" stroke-width="4.2"/>
<rect x="4150" y="1567.6" width="8.6" height="4" fill="#000"/>
<text x="4164.4" y="1582.0" font-size="32.5" font-family="Liberation Sans" textLength="62.0" lengthAdjust="spacingAndGlyphs">1.00</text>
<rect x="4150" y="1653.7" width="8.6" height="4" fill="#000"/>
<text x="4164.4" y="1668.5" font-size="32.5" font-family="Liberation Sans" textLength="62.0" lengthAdjust="spacingAndGlyphs">0.80</text>
<rect x="4150" y="1739.8" width="8.6" height="4" fill="#000"/>
<text x="4164.4" y="1754.6" font-size="32.5" font-family="Liberation Sans" textLength="62.0" lengthAdjust="spacingAndGlyphs">0.60</text>
<rect x="4150" y="1825.5" width="8.6" height="4" fill="#000"/>
<text x="4164.4" y="1839.9" font-size="32.5" font-family="Liberation Sans" textLength="62.0" lengthAdjust="spacingAndGlyphs">0.40</text>
<rect x="4150" y="1911.6" width="8.6" height="4" fill="#000"/>
<text x="4164.4" y="1926.0" font-size="32.5" font-family="Liberation Sans" textLength="62.0" lengthAdjust="spacingAndGlyphs">0.20</text>
<rect x="4150" y="1997.6" width="8.6" height="4" fill="#000"/>
<text x="4164.4" y="2011.7" font-size="32.5" font-family="Liberation Sans" textLength="62.0" lengthAdjust="spacingAndGlyphs">0.00</text>
</svg></body></html>
